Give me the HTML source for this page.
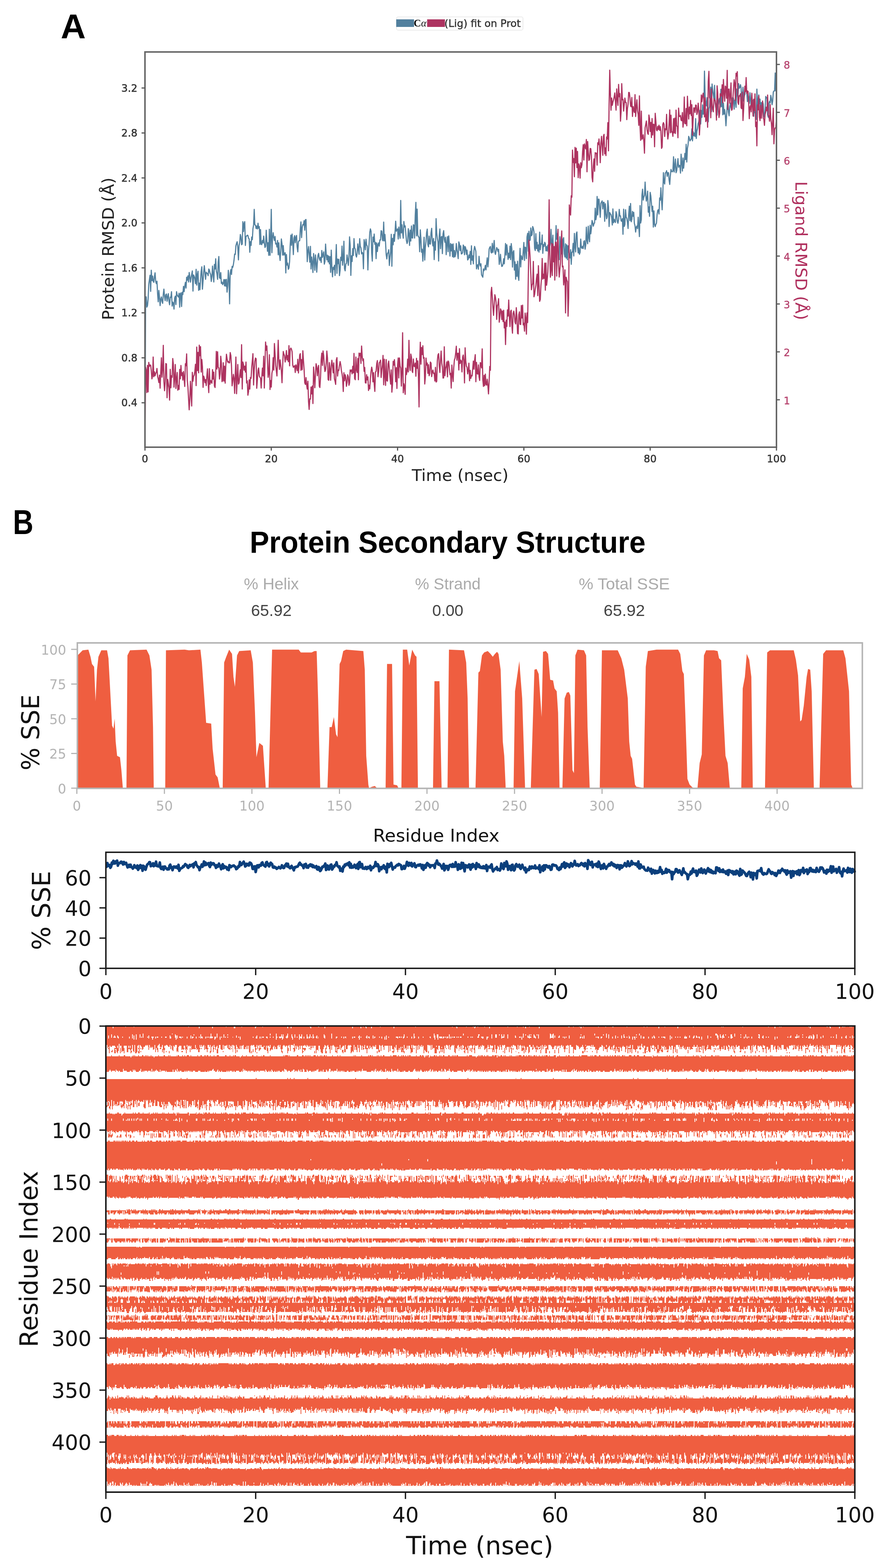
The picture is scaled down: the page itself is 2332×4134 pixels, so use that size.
<!DOCTYPE html><html><head><meta charset="utf-8"><style>html,body{margin:0;padding:0;background:#fff;}svg{display:block;}</style></head><body>
<svg width="2332" height="4134" viewBox="0 0 2332 4134">
<rect width="2332" height="4134" fill="#fff"/>
<text x="160" y="101" font-family="'Liberation Sans', Arial, sans-serif" font-weight="bold" font-size="91" fill="#000" textLength="66" lengthAdjust="spacingAndGlyphs">A</text>
<rect x="1045" y="44.5" width="333" height="35" rx="4" fill="#fff" stroke="#e4e4e4" stroke-width="1.5"/>
<rect x="1044" y="51" width="47" height="20" fill="#52809e"/>
<text x="1090" y="70" font-family="'Liberation Serif', serif" font-size="27" font-weight="bold" fill="#111">C<tspan font-style="italic" font-weight="normal">α</tspan></text>
<rect x="1125.5" y="51" width="47" height="20" fill="#ad3360"/>
<text x="1171" y="70.5" font-family="'DejaVu Sans', 'Liberation Sans', sans-serif" font-size="26" fill="#333" stroke="#333" stroke-width="0.6" textLength="201" lengthAdjust="spacingAndGlyphs">(Lig) fit on Prot</text>
<defs><clipPath id="cA"><rect x="382" y="137" width="1664" height="1042"/></clipPath></defs>
<g clip-path="url(#cA)" fill="none" stroke-width="3.0" stroke-linejoin="round">
<polyline stroke="#52809e" points="382.0,1180.5 383.7,782.5 385.3,782.8 387.0,809.7 388.7,805.7 390.3,788.4 392.0,749.6 393.6,738.3 395.3,725.8 397.0,768.2 398.6,712.6 400.3,740.0 402.0,727.8 403.6,741.3 405.3,744.4 407.0,728.5 408.6,719.2 410.3,742.2 412.0,747.8 413.6,741.5 415.3,775.5 416.9,795.7 418.6,765.8 420.3,784.5 421.9,805.8 423.6,788.3 425.3,782.9 426.9,794.8 428.6,799.8 430.3,775.3 431.9,762.3 433.6,781.9 435.2,792.6 436.9,777.3 438.6,775.2 440.2,794.3 441.9,782.0 443.6,774.3 445.2,794.3 446.9,803.4 448.6,783.5 450.2,784.0 451.9,769.1 453.6,807.1 455.2,796.5 456.9,799.5 458.5,814.9 460.2,785.9 461.9,780.9 463.5,803.0 465.2,769.1 466.9,778.3 468.5,780.6 470.2,783.1 471.9,773.1 473.5,809.9 475.2,774.7 476.8,772.1 478.5,808.1 480.2,770.6 481.8,776.6 483.5,755.0 485.2,768.9 486.8,755.1 488.5,744.4 490.2,759.4 491.8,730.9 493.5,738.9 495.2,727.2 496.8,743.5 498.5,718.6 500.1,728.7 501.8,743.9 503.5,732.6 505.1,723.2 506.8,714.2 508.5,767.5 510.1,725.1 511.8,729.0 513.5,735.2 515.1,747.9 516.8,710.0 518.4,751.7 520.1,724.0 521.8,715.1 523.4,765.5 525.1,746.6 526.8,763.8 528.4,737.7 530.1,714.8 531.8,703.4 533.4,762.4 535.1,740.7 536.8,716.7 538.4,700.6 540.1,718.4 541.7,736.4 543.4,717.8 545.1,720.6 546.7,720.9 548.4,726.8 550.1,709.2 551.7,711.8 553.4,720.0 555.1,723.6 556.7,742.0 558.4,729.4 560.0,701.6 561.7,723.8 563.4,743.4 565.0,697.2 566.7,709.2 568.4,682.3 570.0,714.3 571.7,721.5 573.4,736.4 575.0,690.4 576.7,676.2 578.4,732.5 580.0,734.1 581.7,718.7 583.3,747.3 585.0,743.7 586.7,750.5 588.3,747.0 590.0,737.0 591.7,753.9 593.3,737.0 595.0,754.5 596.7,736.4 598.3,770.3 600.0,753.7 601.6,712.7 603.3,735.0 605.0,801.1 606.6,720.5 608.3,710.8 610.0,723.6 611.6,702.4 613.3,704.9 615.0,697.4 616.6,686.3 618.3,669.9 620.0,670.6 621.6,648.1 623.3,641.6 624.9,637.3 626.6,651.4 628.3,685.2 629.9,647.6 631.6,639.7 633.3,618.3 634.9,624.4 636.6,645.3 638.3,643.4 639.9,584.6 641.6,610.3 643.2,589.0 644.9,584.4 646.6,647.2 648.2,623.3 649.9,622.2 651.6,620.1 653.2,620.7 654.9,628.3 656.6,629.7 658.2,665.1 659.9,637.0 661.6,647.1 663.2,625.1 664.9,631.8 666.5,603.3 668.2,592.9 669.9,552.1 671.5,592.6 673.2,593.5 674.9,602.4 676.5,595.7 678.2,603.7 679.9,588.6 681.5,601.9 683.2,597.3 684.8,644.6 686.5,605.2 688.2,643.9 689.8,645.1 691.5,633.9 693.2,640.7 694.8,622.4 696.5,640.8 698.2,652.4 699.8,649.6 701.5,607.0 703.2,635.4 704.8,662.5 706.5,639.7 708.1,673.3 709.8,604.6 711.5,673.1 713.1,630.4 714.8,552.1 716.5,666.2 718.1,628.3 719.8,613.6 721.5,626.4 723.1,633.9 724.8,623.6 726.4,643.3 728.1,641.6 729.8,651.3 731.4,633.9 733.1,671.8 734.8,640.1 736.4,670.9 738.1,686.8 739.8,660.9 741.4,630.1 743.1,643.1 744.8,672.7 746.4,647.6 748.1,672.6 749.7,667.9 751.4,666.3 753.1,719.6 754.7,670.9 756.4,699.0 758.1,693.8 759.7,710.0 761.4,706.9 763.1,689.3 764.7,645.4 766.4,619.9 768.0,647.0 769.7,617.0 771.4,640.1 773.0,671.3 774.7,627.4 776.4,621.3 778.0,640.1 779.7,625.8 781.4,620.7 783.0,651.4 784.7,664.1 786.4,637.0 788.0,634.7 789.7,634.7 791.3,603.6 793.0,585.0 794.7,626.4 796.3,600.3 798.0,592.1 799.7,593.0 801.3,581.7 803.0,606.9 804.7,579.4 806.3,578.7 808.0,631.4 809.6,689.9 811.3,663.3 813.0,650.0 814.6,670.0 816.3,691.3 818.0,649.6 819.6,709.2 821.3,677.7 823.0,692.1 824.6,718.5 826.3,668.5 828.0,684.6 829.6,712.7 831.3,671.9 832.9,689.6 834.6,717.6 836.3,691.7 837.9,673.1 839.6,668.0 841.3,681.0 842.9,686.2 844.6,678.5 846.3,692.1 847.9,660.4 849.6,678.5 851.2,671.9 852.9,664.0 854.6,696.5 856.2,689.4 857.9,643.4 859.6,670.3 861.2,685.0 862.9,672.8 864.6,690.5 866.2,675.0 867.9,695.6 869.6,676.6 871.2,718.1 872.9,659.4 874.5,702.8 876.2,730.0 877.9,704.8 879.5,710.2 881.2,699.5 882.9,726.3 884.5,690.9 886.2,644.8 887.9,720.7 889.5,683.1 891.2,695.1 892.8,683.4 894.5,726.7 896.2,712.8 897.8,678.3 899.5,686.8 901.2,648.8 902.8,699.3 904.5,681.6 906.2,636.0 907.8,708.4 909.5,714.0 911.2,695.8 912.8,694.7 914.5,672.2 916.1,684.0 917.8,699.6 919.5,675.1 921.1,624.5 922.8,647.2 924.5,726.1 926.1,674.6 927.8,689.4 929.5,655.6 931.1,673.4 932.8,629.0 934.4,653.5 936.1,656.4 937.8,673.0 939.4,677.7 941.1,667.4 942.8,643.0 944.4,655.6 946.1,670.4 947.8,629.3 949.4,649.7 951.1,653.7 952.8,669.4 954.4,665.4 956.1,668.3 957.7,708.7 959.4,631.7 961.1,641.2 962.7,658.6 964.4,630.8 966.1,646.0 967.7,648.8 969.4,711.8 971.1,661.3 972.7,640.9 974.4,612.6 976.0,603.5 977.7,609.7 979.4,666.4 981.0,688.5 982.7,624.9 984.4,637.4 986.0,617.1 987.7,644.1 989.4,639.1 991.0,682.0 992.7,640.6 994.4,663.2 996.0,645.1 997.7,640.3 999.3,648.9 1001.0,632.4 1002.7,632.7 1004.3,608.2 1006.0,609.6 1007.7,632.2 1009.3,634.9 1011.0,585.4 1012.7,635.1 1014.3,618.0 1016.0,640.6 1017.6,671.3 1019.3,682.7 1021.0,667.5 1022.6,666.8 1024.3,658.4 1026.0,700.0 1027.6,680.0 1029.3,663.1 1031.0,617.8 1032.6,701.9 1034.3,628.4 1036.0,645.3 1037.6,617.9 1039.3,636.3 1040.9,613.7 1042.6,583.2 1044.3,609.7 1045.9,605.3 1047.6,603.4 1049.3,630.2 1050.9,598.8 1052.6,615.2 1054.3,628.2 1055.9,528.4 1057.6,614.3 1059.2,592.6 1060.9,613.7 1062.6,628.0 1064.2,584.1 1065.9,598.6 1067.6,595.5 1069.2,614.6 1070.9,634.1 1072.6,642.0 1074.2,636.7 1075.9,602.9 1077.6,616.2 1079.2,647.1 1080.9,606.8 1082.5,635.4 1084.2,595.7 1085.9,627.2 1087.5,627.6 1089.2,592.6 1090.9,593.9 1092.5,627.7 1094.2,567.7 1095.9,533.6 1097.5,622.0 1099.2,551.2 1100.8,619.6 1102.5,624.2 1104.2,625.6 1105.8,663.8 1107.5,606.0 1109.2,631.0 1110.8,665.1 1112.5,657.0 1114.2,688.6 1115.8,658.4 1117.5,625.4 1119.2,685.7 1120.8,652.9 1122.5,636.7 1124.1,613.2 1125.8,604.0 1127.5,645.2 1129.1,650.8 1130.8,622.4 1132.5,642.7 1134.1,643.7 1135.8,613.6 1137.5,601.9 1139.1,637.3 1140.8,648.3 1142.4,628.7 1144.1,684.4 1145.8,637.2 1147.4,659.4 1149.1,576.6 1150.8,615.2 1152.4,628.8 1154.1,637.5 1155.8,688.3 1157.4,621.5 1159.1,603.8 1160.8,655.7 1162.4,625.5 1164.1,623.4 1165.7,668.7 1167.4,616.7 1169.1,608.0 1170.7,631.2 1172.4,639.0 1174.1,625.5 1175.7,671.4 1177.4,641.9 1179.1,624.0 1180.7,663.6 1182.4,621.9 1184.0,645.6 1185.7,675.2 1187.4,642.0 1189.0,661.5 1190.7,644.2 1192.4,676.9 1194.0,642.9 1195.7,678.4 1197.4,660.5 1199.0,677.0 1200.7,670.7 1202.4,642.0 1204.0,657.9 1205.7,667.7 1207.3,681.9 1209.0,637.7 1210.7,643.6 1212.3,660.4 1214.0,648.0 1215.7,669.6 1217.3,668.8 1219.0,665.7 1220.7,646.0 1222.3,649.5 1224.0,671.7 1225.6,650.1 1227.3,654.5 1229.0,670.5 1230.6,659.2 1232.3,685.4 1234.0,683.2 1235.6,672.2 1237.3,679.5 1239.0,662.8 1240.6,697.3 1242.3,648.1 1244.0,686.3 1245.6,674.6 1247.3,695.7 1248.9,660.6 1250.6,649.7 1252.3,655.8 1253.9,662.7 1255.6,709.0 1257.3,699.5 1258.9,697.9 1260.6,709.7 1262.3,675.8 1263.9,694.9 1265.6,701.3 1267.2,695.4 1268.9,724.6 1270.6,727.7 1272.2,730.8 1273.9,709.1 1275.6,713.5 1277.2,709.7 1278.9,699.8 1280.6,711.6 1282.2,695.0 1283.9,679.7 1285.6,703.7 1287.2,686.7 1288.9,656.6 1290.5,652.3 1292.2,649.9 1293.9,665.3 1295.5,667.0 1297.2,641.5 1298.9,665.4 1300.5,651.6 1302.2,633.9 1303.9,664.8 1305.5,670.7 1307.2,661.8 1308.8,652.7 1310.5,656.1 1312.2,663.1 1313.8,657.2 1315.5,697.1 1317.2,686.1 1318.8,670.6 1320.5,692.8 1322.2,702.5 1323.8,701.6 1325.5,696.6 1327.2,682.3 1328.8,695.4 1330.5,670.5 1332.1,642.1 1333.8,672.6 1335.5,645.2 1337.1,660.8 1338.8,684.0 1340.5,667.4 1342.1,679.7 1343.8,649.0 1345.5,684.5 1347.1,642.2 1348.8,657.0 1350.4,704.2 1352.1,664.8 1353.8,660.9 1355.4,712.1 1357.1,690.2 1358.8,736.3 1360.4,696.9 1362.1,728.6 1363.8,688.7 1365.4,728.5 1367.1,739.3 1368.8,689.4 1370.4,654.8 1372.1,703.8 1373.7,674.5 1375.4,682.2 1377.1,684.3 1378.7,662.2 1380.4,639.3 1382.1,686.7 1383.7,651.7 1385.4,652.9 1387.1,681.7 1388.7,624.6 1390.4,615.1 1392.0,662.4 1393.7,609.7 1395.4,634.4 1397.0,633.0 1398.7,600.9 1400.4,621.6 1402.0,618.7 1403.7,597.2 1405.4,602.1 1407.0,610.8 1408.7,654.3 1410.4,660.5 1412.0,616.0 1413.7,655.5 1415.3,638.7 1417.0,661.6 1418.7,645.8 1420.3,664.8 1422.0,611.9 1423.7,658.6 1425.3,642.3 1427.0,643.8 1428.7,619.6 1430.3,668.0 1432.0,644.7 1433.6,649.8 1435.3,638.8 1437.0,642.2 1438.6,661.3 1440.3,650.2 1442.0,662.0 1443.6,646.2 1445.3,655.0 1447.0,662.9 1448.6,649.2 1450.3,640.4 1452.0,604.8 1453.6,655.0 1455.3,640.9 1456.9,620.0 1458.6,684.2 1460.3,676.7 1461.9,664.4 1463.6,642.5 1465.3,594.7 1466.9,630.9 1468.6,616.1 1470.3,643.3 1471.9,684.7 1473.6,684.4 1475.2,624.1 1476.9,640.8 1478.6,669.9 1480.2,627.1 1481.9,678.4 1483.6,630.8 1485.2,626.6 1486.9,669.4 1488.6,677.5 1490.2,642.8 1491.9,680.7 1493.6,645.6 1495.2,685.0 1496.9,648.1 1498.5,661.8 1500.2,671.7 1501.9,680.1 1503.5,658.2 1505.2,697.0 1506.9,664.8 1508.5,664.8 1510.2,641.7 1511.9,675.0 1513.5,615.5 1515.2,650.7 1516.8,664.2 1518.5,615.7 1520.2,611.6 1521.8,649.5 1523.5,666.8 1525.2,653.7 1526.8,670.6 1528.5,665.5 1530.2,630.3 1531.8,651.7 1533.5,654.8 1535.2,649.2 1536.8,655.3 1538.5,636.7 1540.1,634.6 1541.8,656.9 1543.5,645.7 1545.1,598.9 1546.8,634.0 1548.5,642.6 1550.1,596.6 1551.8,625.8 1553.5,637.4 1555.1,594.1 1556.8,616.3 1558.4,602.0 1560.1,581.2 1561.8,586.5 1563.4,596.3 1565.1,589.8 1566.8,587.3 1568.4,548.9 1570.1,579.3 1571.8,569.1 1573.4,518.1 1575.1,566.5 1576.8,524.9 1578.4,525.5 1580.1,550.9 1581.7,573.0 1583.4,535.9 1585.1,532.6 1586.7,529.6 1588.4,550.9 1590.1,533.4 1591.7,533.6 1593.4,583.5 1595.1,537.3 1596.7,562.3 1598.4,576.7 1600.0,571.7 1601.7,528.7 1603.4,544.9 1605.0,597.3 1606.7,560.4 1608.4,564.3 1610.0,565.5 1611.7,573.2 1613.4,593.2 1615.0,550.7 1616.7,587.5 1618.4,578.2 1620.0,583.7 1621.7,586.6 1623.3,558.1 1625.0,564.4 1626.7,584.1 1628.3,588.6 1630.0,579.2 1631.7,552.0 1633.3,569.4 1635.0,569.2 1636.7,582.3 1638.3,583.4 1640.0,576.5 1641.6,617.7 1643.3,551.6 1645.0,597.1 1646.6,591.5 1648.3,553.0 1650.0,573.0 1651.6,575.1 1653.3,585.6 1655.0,602.4 1656.6,566.1 1658.3,543.7 1660.0,581.6 1661.6,536.6 1663.3,584.7 1664.9,578.7 1666.6,557.4 1668.3,570.3 1669.9,559.7 1671.6,589.2 1673.3,595.7 1674.9,611.8 1676.6,598.7 1678.3,595.9 1679.9,602.6 1681.6,572.7 1683.2,595.0 1684.9,623.8 1686.6,542.0 1688.2,587.9 1689.9,579.0 1691.6,514.0 1693.2,498.8 1694.9,527.6 1696.6,519.0 1698.2,515.1 1699.9,480.0 1701.6,514.2 1703.2,530.3 1704.9,521.7 1706.5,503.9 1708.2,559.5 1709.9,545.6 1711.5,570.3 1713.2,507.3 1714.9,516.6 1716.5,535.4 1718.2,557.7 1719.9,543.7 1721.5,598.7 1723.2,556.0 1724.8,591.8 1726.5,597.4 1728.2,591.2 1729.8,588.5 1731.5,565.4 1733.2,554.7 1734.8,552.6 1736.5,564.3 1738.2,522.0 1739.8,527.8 1741.5,495.1 1743.2,529.5 1744.8,553.2 1746.5,511.4 1748.1,455.2 1749.8,480.6 1751.5,485.2 1753.1,455.8 1754.8,455.2 1756.5,450.0 1758.1,465.0 1759.8,455.1 1761.5,455.4 1763.1,474.7 1764.8,486.2 1766.4,463.0 1768.1,446.7 1769.8,451.7 1771.4,453.0 1773.1,451.1 1774.8,413.3 1776.4,453.5 1778.1,437.6 1779.8,419.2 1781.4,455.4 1783.1,450.3 1784.8,433.4 1786.4,418.2 1788.1,441.1 1789.7,435.9 1791.4,436.4 1793.1,456.4 1794.7,406.4 1796.4,427.7 1798.1,451.1 1799.7,416.5 1801.4,443.4 1803.1,426.6 1804.7,404.6 1806.4,420.8 1808.0,380.5 1809.7,427.3 1811.4,391.2 1813.0,382.5 1814.7,359.5 1816.4,364.0 1818.0,371.5 1819.7,368.8 1821.4,366.6 1823.0,339.7 1824.7,371.5 1826.4,347.1 1828.0,358.0 1829.7,350.9 1831.3,360.0 1833.0,312.8 1834.7,365.1 1836.3,345.6 1838.0,338.9 1839.7,325.5 1841.3,320.7 1843.0,312.1 1844.7,290.8 1846.3,326.9 1848.0,291.3 1849.6,309.3 1851.3,276.5 1853.0,301.2 1854.6,296.5 1856.3,187.5 1858.0,254.6 1859.6,272.4 1861.3,279.0 1863.0,257.5 1864.6,301.3 1866.3,321.2 1868.0,286.4 1869.6,280.9 1871.3,249.3 1872.9,229.7 1874.6,294.6 1876.3,221.6 1877.9,236.6 1879.6,250.5 1881.3,261.5 1882.9,224.9 1884.6,271.8 1886.3,284.5 1887.9,274.1 1889.6,303.4 1891.2,267.0 1892.9,275.8 1894.6,263.8 1896.2,259.0 1897.9,282.7 1899.6,235.2 1901.2,281.3 1902.9,248.7 1904.6,302.7 1906.2,271.9 1907.9,301.1 1909.6,288.8 1911.2,303.8 1912.9,331.7 1914.5,306.7 1916.2,277.6 1917.9,260.2 1919.5,295.2 1921.2,305.3 1922.9,281.6 1924.5,271.6 1926.2,283.3 1927.9,289.7 1929.5,259.2 1931.2,256.7 1932.8,258.9 1934.5,287.8 1936.2,263.7 1937.8,264.0 1939.5,283.1 1941.2,234.8 1942.8,247.7 1944.5,257.5 1946.2,220.5 1947.8,232.9 1949.5,230.7 1951.2,223.2 1952.8,231.4 1954.5,268.8 1956.1,254.2 1957.8,230.0 1959.5,266.8 1961.1,253.5 1962.8,248.5 1964.5,230.0 1966.1,234.6 1967.8,244.5 1969.5,267.8 1971.1,248.9 1972.8,258.2 1974.4,272.7 1976.1,244.4 1977.8,262.4 1979.4,289.0 1981.1,249.4 1982.8,279.3 1984.4,264.3 1986.1,306.7 1987.8,279.0 1989.4,297.6 1991.1,298.0 1992.8,315.0 1994.4,235.1 1996.1,276.9 1997.7,268.2 1999.4,250.3 2001.1,273.4 2002.7,261.3 2004.4,298.5 2006.1,270.4 2007.7,284.2 2009.4,268.0 2011.1,274.3 2012.7,303.2 2014.4,309.8 2016.0,290.8 2017.7,254.3 2019.4,258.2 2021.0,257.1 2022.7,302.6 2024.4,309.1 2026.0,273.9 2027.7,267.3 2029.4,271.5 2031.0,251.5 2032.7,259.5 2034.4,276.1 2036.0,266.4 2037.7,242.5 2039.3,240.0 2041.0,239.7 2042.7,192.5 2044.3,239.9 2046.0,231.7"/>
<polyline stroke="#ad3360" points="382.0,1180.3 383.7,968.0 385.3,974.8 387.0,1035.0 388.7,963.2 390.3,1033.2 392.0,955.4 393.6,966.0 395.3,962.0 397.0,963.2 398.6,977.5 400.3,999.0 402.0,991.5 403.6,941.2 405.3,993.3 407.0,980.2 408.6,990.6 410.3,984.5 412.0,981.5 413.6,971.6 415.3,992.3 416.9,999.0 418.6,1008.4 420.3,988.9 421.9,1023.5 423.6,981.6 425.3,943.2 426.9,994.5 428.6,973.8 430.3,910.4 431.9,1005.4 433.6,1030.2 435.2,1008.4 436.9,958.6 438.6,959.5 440.2,1048.7 441.9,1000.4 443.6,1011.7 445.2,1022.9 446.9,1055.0 448.6,973.7 450.2,1022.4 451.9,990.5 453.6,994.8 455.2,945.2 456.9,961.1 458.5,1020.8 460.2,995.8 461.9,961.1 463.5,1024.2 465.2,999.3 466.9,981.9 468.5,1028.8 470.2,1016.3 471.9,1026.8 473.5,973.9 475.2,998.6 476.8,963.4 478.5,990.2 480.2,982.5 481.8,1002.2 483.5,979.5 485.2,999.3 486.8,1019.0 488.5,959.0 490.2,964.3 491.8,933.0 493.5,1002.3 495.2,1020.6 496.8,1050.1 498.5,1080.4 500.1,1053.8 501.8,1005.3 503.5,1037.4 505.1,1070.4 506.8,981.8 508.5,1005.0 510.1,991.9 511.8,989.0 513.5,978.4 515.1,960.4 516.8,1016.8 518.4,915.1 520.1,977.2 521.8,929.1 523.4,983.0 525.1,910.1 526.8,937.8 528.4,913.9 530.1,981.0 531.8,947.7 533.4,966.3 535.1,1021.3 536.8,991.7 538.4,997.2 540.1,1009.0 541.7,1000.8 543.4,1016.5 545.1,990.8 546.7,972.6 548.4,1007.8 550.1,1035.2 551.7,972.0 553.4,1013.2 555.1,1003.0 556.7,1007.2 558.4,1010.4 560.0,974.4 561.7,999.4 563.4,980.9 565.0,1017.7 566.7,1021.6 568.4,987.8 570.0,926.6 571.7,972.9 573.4,927.5 575.0,968.4 576.7,970.1 578.4,999.3 580.0,985.9 581.7,939.2 583.3,956.8 585.0,1006.3 586.7,1003.5 588.3,956.2 590.0,1005.0 591.7,965.2 593.3,1010.3 595.0,964.4 596.7,934.1 598.3,945.4 600.0,954.7 601.6,952.7 603.3,956.7 605.0,956.6 606.6,929.5 608.3,937.3 610.0,965.2 611.6,1017.2 613.3,1004.0 615.0,987.1 616.6,997.3 618.3,1037.3 620.0,985.8 621.6,941.2 623.3,1038.1 624.9,1003.6 626.6,961.1 628.3,1012.8 629.9,1009.4 631.6,990.2 633.3,974.7 634.9,995.5 636.6,908.8 638.3,1025.7 639.9,954.5 641.6,960.9 643.2,976.1 644.9,965.5 646.6,980.9 648.2,954.6 649.9,1009.8 651.6,1004.3 653.2,1041.9 654.9,1032.3 656.6,1001.6 658.2,1025.8 659.9,995.2 661.6,997.5 663.2,968.9 664.9,951.2 666.5,932.4 668.2,1015.1 669.9,975.7 671.5,953.3 673.2,943.9 674.9,946.0 676.5,1023.7 678.2,1001.6 679.9,976.4 681.5,970.1 683.2,991.1 684.8,994.6 686.5,997.0 688.2,1023.2 689.8,994.9 691.5,970.5 693.2,990.9 694.8,939.2 696.5,1023.1 698.2,959.8 699.8,901.7 701.5,923.4 703.2,911.9 704.8,952.4 706.5,994.8 708.1,983.9 709.8,935.2 711.5,1027.0 713.1,1003.3 714.8,1020.5 716.5,984.2 718.1,975.3 719.8,943.1 721.5,975.8 723.1,905.7 724.8,933.0 726.4,962.9 728.1,977.5 729.8,991.3 731.4,947.8 733.1,897.1 734.8,952.3 736.4,974.1 738.1,948.7 739.8,963.2 741.4,977.7 743.1,1009.1 744.8,964.9 746.4,926.8 748.1,933.8 749.7,937.9 751.4,954.4 753.1,942.8 754.7,924.2 756.4,949.1 758.1,937.6 759.7,953.6 761.4,911.3 763.1,964.6 764.7,921.5 766.4,917.7 768.0,920.5 769.7,927.4 771.4,962.5 773.0,968.4 774.7,965.7 776.4,964.2 778.0,982.1 779.7,962.1 781.4,966.7 783.0,977.2 784.7,947.2 786.4,983.5 788.0,963.4 789.7,935.8 791.3,932.4 793.0,976.5 794.7,948.0 796.3,974.6 798.0,924.7 799.7,951.7 801.3,974.2 803.0,1009.0 804.7,1013.5 806.3,995.5 808.0,1015.2 809.6,1025.7 811.3,1004.9 813.0,1059.1 814.6,1079.5 816.3,1051.6 818.0,1052.3 819.6,1020.5 821.3,1038.4 823.0,1017.8 824.6,1063.9 826.3,967.8 828.0,992.8 829.6,1022.3 831.3,986.8 832.9,958.9 834.6,966.9 836.3,990.7 837.9,971.1 839.6,963.4 841.3,1018.1 842.9,1021.7 844.6,995.2 846.3,948.5 847.9,930.9 849.6,963.5 851.2,925.3 852.9,937.2 854.6,963.7 856.2,979.5 857.9,975.5 859.6,956.7 861.2,925.6 862.9,943.4 864.6,1000.7 866.2,1002.6 867.9,955.9 869.6,973.5 871.2,1002.6 872.9,964.8 874.5,949.8 876.2,964.7 877.9,982.9 879.5,956.7 881.2,998.6 882.9,1005.0 884.5,1013.4 886.2,948.8 887.9,942.9 889.5,991.5 891.2,975.5 892.8,976.6 894.5,962.7 896.2,953.3 897.8,961.5 899.5,976.5 901.2,985.1 902.8,997.5 904.5,1032.2 906.2,982.7 907.8,1003.9 909.5,988.0 911.2,994.5 912.8,1018.6 914.5,1008.4 916.1,988.1 917.8,993.3 919.5,1015.8 921.1,1009.7 922.8,975.3 924.5,979.4 926.1,975.4 927.8,985.7 929.5,965.8 931.1,982.9 932.8,931.8 934.4,998.0 936.1,1001.1 937.8,941.3 939.4,974.1 941.1,982.0 942.8,945.0 944.4,1001.2 946.1,930.9 947.8,937.6 949.4,931.4 951.1,958.3 952.8,912.2 954.4,939.5 956.1,951.2 957.7,946.3 959.4,979.1 961.1,968.8 962.7,1009.2 964.4,1009.9 966.1,987.8 967.7,1001.5 969.4,993.6 971.1,1029.6 972.7,1015.6 974.4,1025.2 976.0,997.4 977.7,979.4 979.4,967.9 981.0,976.4 982.7,1006.8 984.4,982.6 986.0,1011.7 987.7,1031.9 989.4,980.6 991.0,979.2 992.7,958.5 994.4,950.6 996.0,993.2 997.7,980.6 999.3,956.5 1001.0,954.6 1002.7,949.5 1004.3,995.3 1006.0,976.7 1007.7,961.9 1009.3,937.1 1011.0,1014.6 1012.7,946.9 1014.3,990.9 1016.0,1016.2 1017.6,948.0 1019.3,1003.3 1021.0,1004.8 1022.6,959.6 1024.3,951.9 1026.0,974.9 1027.6,993.9 1029.3,1012.7 1031.0,975.1 1032.6,1034.0 1034.3,1013.1 1036.0,952.7 1037.6,962.8 1039.3,948.2 1040.9,968.2 1042.6,1006.5 1044.3,969.2 1045.9,1024.3 1047.6,963.0 1049.3,943.8 1050.9,996.4 1052.6,943.7 1054.3,965.1 1055.9,970.5 1057.6,1018.0 1059.2,981.4 1060.9,877.2 1062.6,1035.4 1064.2,1011.7 1065.9,1019.3 1067.6,1039.7 1069.2,970.5 1070.9,987.7 1072.6,978.5 1074.2,947.1 1075.9,980.6 1077.6,897.2 1079.2,962.3 1080.9,976.7 1082.5,933.5 1084.2,941.8 1085.9,978.0 1087.5,982.2 1089.2,946.6 1090.9,965.3 1092.5,966.5 1094.2,957.3 1095.9,992.0 1097.5,944.8 1099.2,971.1 1100.8,951.5 1102.5,988.4 1104.2,1072.9 1105.8,955.9 1107.5,902.3 1109.2,960.2 1110.8,916.2 1112.5,934.8 1114.2,911.5 1115.8,944.8 1117.5,942.6 1119.2,1012.4 1120.8,995.1 1122.5,944.0 1124.1,962.6 1125.8,957.2 1127.5,984.5 1129.1,961.6 1130.8,990.7 1132.5,984.8 1134.1,954.6 1135.8,957.4 1137.5,992.9 1139.1,980.5 1140.8,975.7 1142.4,984.7 1144.1,983.9 1145.8,1004.4 1147.4,968.5 1149.1,1007.3 1150.8,1005.2 1152.4,950.8 1154.1,935.6 1155.8,932.3 1157.4,964.5 1159.1,982.0 1160.8,947.9 1162.4,925.5 1164.1,957.4 1165.7,968.0 1167.4,996.8 1169.1,996.3 1170.7,914.3 1172.4,990.7 1174.1,972.4 1175.7,965.0 1177.4,954.1 1179.1,993.6 1180.7,951.7 1182.4,954.3 1184.0,969.0 1185.7,988.1 1187.4,984.3 1189.0,1023.2 1190.7,962.6 1192.4,989.0 1194.0,1005.9 1195.7,968.6 1197.4,948.8 1199.0,944.7 1200.7,931.3 1202.4,912.7 1204.0,949.8 1205.7,931.6 1207.3,931.3 1209.0,975.5 1210.7,919.3 1212.3,958.5 1214.0,949.5 1215.7,952.0 1217.3,980.6 1219.0,941.5 1220.7,936.0 1222.3,952.1 1224.0,1009.6 1225.6,917.1 1227.3,952.2 1229.0,965.7 1230.6,968.1 1232.3,985.8 1234.0,975.1 1235.6,957.6 1237.3,1004.0 1239.0,976.3 1240.6,997.7 1242.3,989.9 1244.0,991.1 1245.6,972.2 1247.3,952.0 1248.9,973.5 1250.6,949.7 1252.3,935.1 1253.9,1006.4 1255.6,955.5 1257.3,985.0 1258.9,986.3 1260.6,962.1 1262.3,993.3 1263.9,1003.1 1265.6,956.0 1267.2,958.0 1268.9,969.9 1270.6,919.7 1272.2,1001.1 1273.9,1018.8 1275.6,989.5 1277.2,1017.0 1278.9,986.3 1280.6,1013.3 1282.2,1015.4 1283.9,999.8 1285.6,1017.0 1287.2,1038.6 1288.9,1004.8 1290.5,966.2 1292.2,976.3 1293.9,771.6 1295.5,757.5 1297.2,782.5 1298.9,810.4 1300.5,831.4 1302.2,803.5 1303.9,777.0 1305.5,783.6 1307.2,797.3 1308.8,842.1 1310.5,806.1 1312.2,801.7 1313.8,787.5 1315.5,849.4 1317.2,834.2 1318.8,814.2 1320.5,818.1 1322.2,842.4 1323.8,820.1 1325.5,847.9 1327.2,817.9 1328.8,864.6 1330.5,849.0 1332.1,908.4 1333.8,844.1 1335.5,860.6 1337.1,817.0 1338.8,833.3 1340.5,791.1 1342.1,835.7 1343.8,861.1 1345.5,820.8 1347.1,817.8 1348.8,858.9 1350.4,878.4 1352.1,826.4 1353.8,820.3 1355.4,830.5 1357.1,849.5 1358.8,854.0 1360.4,811.2 1362.1,834.0 1363.8,878.9 1365.4,880.3 1367.1,829.6 1368.8,822.1 1370.4,854.9 1372.1,855.7 1373.7,805.6 1375.4,838.5 1377.1,804.6 1378.7,856.4 1380.4,852.2 1382.1,873.2 1383.7,825.4 1385.4,838.2 1387.1,881.1 1388.7,825.0 1390.4,850.4 1392.0,737.9 1393.7,632.9 1395.4,655.2 1397.0,681.3 1398.7,722.1 1400.4,763.9 1402.0,751.9 1403.7,747.5 1405.4,689.3 1407.0,782.5 1408.7,776.0 1410.4,762.1 1412.0,752.8 1413.7,733.2 1415.3,722.7 1417.0,779.5 1418.7,700.6 1420.3,748.2 1422.0,794.5 1423.7,789.3 1425.3,753.6 1427.0,733.2 1428.7,681.5 1430.3,735.9 1432.0,723.0 1433.6,734.1 1435.3,693.8 1437.0,765.3 1438.6,693.5 1440.3,752.1 1442.0,736.1 1443.6,716.4 1445.3,666.2 1447.0,526.8 1448.6,671.2 1450.3,730.9 1452.0,713.5 1453.6,641.5 1455.3,726.5 1456.9,643.5 1458.6,690.3 1460.3,650.0 1461.9,738.5 1463.6,638.7 1465.3,638.8 1466.9,727.9 1468.6,644.7 1470.3,604.5 1471.9,698.6 1473.6,730.5 1475.2,710.2 1476.9,692.5 1478.6,639.1 1480.2,608.8 1481.9,703.8 1483.6,701.6 1485.2,751.3 1486.9,735.8 1488.6,711.6 1490.2,825.1 1491.9,730.9 1493.6,738.7 1495.2,742.6 1496.9,833.6 1498.5,785.0 1500.2,540.2 1501.9,555.7 1503.5,567.0 1505.2,516.3 1506.9,520.0 1508.5,395.8 1510.2,428.2 1511.9,417.9 1513.5,466.0 1515.2,388.5 1516.8,429.4 1518.5,390.7 1520.2,441.9 1521.8,399.3 1523.5,468.4 1525.2,432.1 1526.8,437.7 1528.5,469.7 1530.2,429.1 1531.8,442.3 1533.5,433.8 1535.2,399.2 1536.8,381.6 1538.5,421.9 1540.1,379.6 1541.8,386.5 1543.5,392.5 1545.1,367.7 1546.8,452.9 1548.5,373.2 1550.1,400.1 1551.8,423.1 1553.5,420.1 1555.1,391.6 1556.8,391.9 1558.4,411.0 1560.1,468.1 1561.8,479.4 1563.4,437.6 1565.1,418.9 1566.8,451.7 1568.4,402.4 1570.1,404.6 1571.8,403.7 1573.4,435.4 1575.1,376.6 1576.8,381.3 1578.4,366.3 1580.1,388.5 1581.7,428.9 1583.4,377.4 1585.1,359.4 1586.7,384.2 1588.4,409.5 1590.1,359.0 1591.7,354.2 1593.4,405.6 1595.1,389.8 1596.7,410.2 1598.4,361.2 1600.0,366.4 1601.7,323.2 1603.4,397.7 1605.0,274.8 1606.7,185.1 1608.4,246.1 1610.0,290.7 1611.7,258.4 1613.4,277.7 1615.0,269.2 1616.7,263.1 1618.4,255.4 1620.0,245.0 1621.7,267.6 1623.3,290.4 1625.0,234.4 1626.7,259.4 1628.3,277.9 1630.0,222.5 1631.7,255.1 1633.3,246.6 1635.0,319.5 1636.7,293.1 1638.3,220.6 1640.0,263.3 1641.6,261.8 1643.3,292.9 1645.0,274.3 1646.6,258.4 1648.3,270.1 1650.0,270.3 1651.6,315.5 1653.3,286.5 1655.0,274.5 1656.6,243.8 1658.3,243.9 1660.0,258.7 1661.6,279.6 1663.3,281.5 1664.9,257.1 1666.6,307.1 1668.3,280.9 1669.9,290.5 1671.6,296.5 1673.3,249.6 1674.9,307.2 1676.6,282.7 1678.3,263.1 1679.9,292.0 1681.6,301.7 1683.2,330.4 1684.9,252.7 1686.6,335.6 1688.2,370.1 1689.9,292.9 1691.6,367.1 1693.2,363.9 1694.9,355.3 1696.6,373.2 1698.2,404.0 1699.9,336.8 1701.6,327.8 1703.2,319.1 1704.9,340.9 1706.5,351.1 1708.2,354.3 1709.9,303.3 1711.5,312.3 1713.2,346.6 1714.9,322.7 1716.5,362.8 1718.2,312.6 1719.9,355.9 1721.5,327.6 1723.2,328.2 1724.8,386.9 1726.5,298.8 1728.2,318.8 1729.8,342.5 1731.5,344.9 1733.2,333.2 1734.8,341.5 1736.5,330.1 1738.2,343.7 1739.8,333.8 1741.5,345.4 1743.2,391.2 1744.8,387.7 1746.5,328.2 1748.1,323.3 1749.8,327.8 1751.5,359.8 1753.1,339.5 1754.8,342.1 1756.5,301.6 1758.1,347.1 1759.8,366.5 1761.5,353.8 1763.1,324.7 1764.8,289.8 1766.4,350.2 1768.1,303.8 1769.8,348.5 1771.4,347.6 1773.1,359.5 1774.8,312.8 1776.4,350.7 1778.1,311.5 1779.8,352.0 1781.4,290.2 1783.1,332.1 1784.8,333.0 1786.4,363.2 1788.1,285.1 1789.7,306.8 1791.4,307.2 1793.1,304.3 1794.7,316.9 1796.4,318.3 1798.1,296.8 1799.7,335.2 1801.4,321.6 1803.1,255.8 1804.7,325.3 1806.4,326.6 1808.0,286.1 1809.7,331.7 1811.4,253.8 1813.0,285.9 1814.7,314.0 1816.4,282.3 1818.0,300.1 1819.7,264.7 1821.4,304.4 1823.0,275.9 1824.7,356.4 1826.4,314.6 1828.0,284.6 1829.7,284.7 1831.3,296.6 1833.0,277.0 1834.7,277.7 1836.3,301.9 1838.0,295.0 1839.7,271.9 1841.3,287.6 1843.0,356.0 1844.7,324.6 1846.3,292.4 1848.0,250.5 1849.6,268.2 1851.3,253.0 1853.0,245.7 1854.6,262.4 1856.3,308.3 1858.0,257.4 1859.6,320.7 1861.3,316.4 1863.0,287.7 1864.6,335.6 1866.3,214.3 1868.0,188.1 1869.6,257.6 1871.3,261.1 1872.9,310.4 1874.6,234.6 1876.3,272.1 1877.9,288.4 1879.6,294.8 1881.3,260.1 1882.9,265.3 1884.6,265.0 1886.3,281.7 1887.9,316.8 1889.6,226.2 1891.2,245.9 1892.9,287.7 1894.6,309.9 1896.2,298.7 1897.9,246.9 1899.6,249.8 1901.2,253.4 1902.9,223.4 1904.6,271.3 1906.2,209.4 1907.9,243.1 1909.6,267.0 1911.2,227.0 1912.9,230.3 1914.5,259.1 1916.2,185.6 1917.9,288.4 1919.5,235.3 1921.2,234.9 1922.9,272.4 1924.5,253.5 1926.2,218.6 1927.9,290.7 1929.5,288.0 1931.2,262.7 1932.8,233.3 1934.5,210.2 1936.2,220.7 1937.8,265.2 1939.5,193.3 1941.2,200.5 1942.8,189.0 1944.5,269.7 1946.2,275.4 1947.8,252.2 1949.5,253.1 1951.2,247.0 1952.8,284.3 1954.5,286.5 1956.1,243.0 1957.8,317.8 1959.5,288.0 1961.1,250.0 1962.8,227.2 1964.5,241.5 1966.1,204.5 1967.8,246.8 1969.5,239.7 1971.1,241.2 1972.8,269.5 1974.4,313.0 1976.1,282.5 1977.8,278.3 1979.4,294.9 1981.1,245.8 1982.8,279.0 1984.4,306.1 1986.1,261.6 1987.8,291.7 1989.4,247.4 1991.1,334.0 1992.8,321.9 1994.4,384.6 1996.1,276.8 1997.7,289.7 1999.4,252.8 2001.1,309.0 2002.7,318.0 2004.4,277.6 2006.1,311.7 2007.7,290.6 2009.4,266.3 2011.1,311.8 2012.7,313.8 2014.4,330.5 2016.0,301.8 2017.7,295.4 2019.4,282.4 2021.0,292.0 2022.7,250.5 2024.4,304.4 2026.0,305.4 2027.7,319.5 2029.4,275.4 2031.0,313.5 2032.7,325.6 2034.4,355.1 2036.0,317.7 2037.7,285.2 2039.3,379.2 2041.0,341.8 2042.7,337.1 2044.3,336.2 2046.0,312.5"/>
</g>
<rect x="382" y="137" width="1664" height="1042" fill="none" stroke="#666" stroke-width="4"/>
<line x1="373" y1="1061.9" x2="382" y2="1061.9" stroke="#555" stroke-width="3"/>
<text x="362" y="1071.4" text-anchor="end" font-family="'DejaVu Sans', 'Liberation Sans', sans-serif" font-size="26.5" fill="#333" stroke="#333" stroke-width="0.7">0.4</text>
<line x1="373" y1="943.4" x2="382" y2="943.4" stroke="#555" stroke-width="3"/>
<text x="362" y="952.9" text-anchor="end" font-family="'DejaVu Sans', 'Liberation Sans', sans-serif" font-size="26.5" fill="#333" stroke="#333" stroke-width="0.7">0.8</text>
<line x1="373" y1="824.8" x2="382" y2="824.8" stroke="#555" stroke-width="3"/>
<text x="362" y="834.3" text-anchor="end" font-family="'DejaVu Sans', 'Liberation Sans', sans-serif" font-size="26.5" fill="#333" stroke="#333" stroke-width="0.7">1.2</text>
<line x1="373" y1="706.2" x2="382" y2="706.2" stroke="#555" stroke-width="3"/>
<text x="362" y="715.7" text-anchor="end" font-family="'DejaVu Sans', 'Liberation Sans', sans-serif" font-size="26.5" fill="#333" stroke="#333" stroke-width="0.7">1.6</text>
<line x1="373" y1="587.7" x2="382" y2="587.7" stroke="#555" stroke-width="3"/>
<text x="362" y="597.2" text-anchor="end" font-family="'DejaVu Sans', 'Liberation Sans', sans-serif" font-size="26.5" fill="#333" stroke="#333" stroke-width="0.7">2.0</text>
<line x1="373" y1="469.1" x2="382" y2="469.1" stroke="#555" stroke-width="3"/>
<text x="362" y="478.6" text-anchor="end" font-family="'DejaVu Sans', 'Liberation Sans', sans-serif" font-size="26.5" fill="#333" stroke="#333" stroke-width="0.7">2.4</text>
<line x1="373" y1="350.6" x2="382" y2="350.6" stroke="#555" stroke-width="3"/>
<text x="362" y="360.1" text-anchor="end" font-family="'DejaVu Sans', 'Liberation Sans', sans-serif" font-size="26.5" fill="#333" stroke="#333" stroke-width="0.7">2.8</text>
<line x1="373" y1="232.0" x2="382" y2="232.0" stroke="#555" stroke-width="3"/>
<text x="362" y="241.5" text-anchor="end" font-family="'DejaVu Sans', 'Liberation Sans', sans-serif" font-size="26.5" fill="#333" stroke="#333" stroke-width="0.7">3.2</text>
<line x1="2046" y1="1054.0" x2="2055" y2="1054.0" stroke="#555" stroke-width="3"/>
<text x="2065" y="1065.5" font-family="'DejaVu Sans', 'Liberation Sans', sans-serif" font-size="26.5" fill="#b6436e" stroke="#b6436e" stroke-width="0.5">1</text>
<line x1="2046" y1="927.7" x2="2055" y2="927.7" stroke="#555" stroke-width="3"/>
<text x="2065" y="939.2" font-family="'DejaVu Sans', 'Liberation Sans', sans-serif" font-size="26.5" fill="#b6436e" stroke="#b6436e" stroke-width="0.5">2</text>
<line x1="2046" y1="801.4" x2="2055" y2="801.4" stroke="#555" stroke-width="3"/>
<text x="2065" y="812.9" font-family="'DejaVu Sans', 'Liberation Sans', sans-serif" font-size="26.5" fill="#b6436e" stroke="#b6436e" stroke-width="0.5">3</text>
<line x1="2046" y1="675.1" x2="2055" y2="675.1" stroke="#555" stroke-width="3"/>
<text x="2065" y="686.6" font-family="'DejaVu Sans', 'Liberation Sans', sans-serif" font-size="26.5" fill="#b6436e" stroke="#b6436e" stroke-width="0.5">4</text>
<line x1="2046" y1="548.8" x2="2055" y2="548.8" stroke="#555" stroke-width="3"/>
<text x="2065" y="560.3" font-family="'DejaVu Sans', 'Liberation Sans', sans-serif" font-size="26.5" fill="#b6436e" stroke="#b6436e" stroke-width="0.5">5</text>
<line x1="2046" y1="422.5" x2="2055" y2="422.5" stroke="#555" stroke-width="3"/>
<text x="2065" y="434.0" font-family="'DejaVu Sans', 'Liberation Sans', sans-serif" font-size="26.5" fill="#b6436e" stroke="#b6436e" stroke-width="0.5">6</text>
<line x1="2046" y1="296.2" x2="2055" y2="296.2" stroke="#555" stroke-width="3"/>
<text x="2065" y="307.7" font-family="'DejaVu Sans', 'Liberation Sans', sans-serif" font-size="26.5" fill="#b6436e" stroke="#b6436e" stroke-width="0.5">7</text>
<line x1="2046" y1="169.9" x2="2055" y2="169.9" stroke="#555" stroke-width="3"/>
<text x="2065" y="181.4" font-family="'DejaVu Sans', 'Liberation Sans', sans-serif" font-size="26.5" fill="#b6436e" stroke="#b6436e" stroke-width="0.5">8</text>
<line x1="382.0" y1="1179" x2="382.0" y2="1188" stroke="#555" stroke-width="3"/>
<text x="382.0" y="1219" text-anchor="middle" font-family="'DejaVu Sans', 'Liberation Sans', sans-serif" font-size="26.5" fill="#333" stroke="#333" stroke-width="0.7">0</text>
<line x1="714.8" y1="1179" x2="714.8" y2="1188" stroke="#555" stroke-width="3"/>
<text x="714.8" y="1219" text-anchor="middle" font-family="'DejaVu Sans', 'Liberation Sans', sans-serif" font-size="26.5" fill="#333" stroke="#333" stroke-width="0.7">20</text>
<line x1="1047.6" y1="1179" x2="1047.6" y2="1188" stroke="#555" stroke-width="3"/>
<text x="1047.6" y="1219" text-anchor="middle" font-family="'DejaVu Sans', 'Liberation Sans', sans-serif" font-size="26.5" fill="#333" stroke="#333" stroke-width="0.7">40</text>
<line x1="1380.4" y1="1179" x2="1380.4" y2="1188" stroke="#555" stroke-width="3"/>
<text x="1380.4" y="1219" text-anchor="middle" font-family="'DejaVu Sans', 'Liberation Sans', sans-serif" font-size="26.5" fill="#333" stroke="#333" stroke-width="0.7">60</text>
<line x1="1713.2" y1="1179" x2="1713.2" y2="1188" stroke="#555" stroke-width="3"/>
<text x="1713.2" y="1219" text-anchor="middle" font-family="'DejaVu Sans', 'Liberation Sans', sans-serif" font-size="26.5" fill="#333" stroke="#333" stroke-width="0.7">80</text>
<line x1="2046.0" y1="1179" x2="2046.0" y2="1188" stroke="#555" stroke-width="3"/>
<text x="2046.0" y="1219" text-anchor="middle" font-family="'DejaVu Sans', 'Liberation Sans', sans-serif" font-size="26.5" fill="#333" stroke="#333" stroke-width="0.7">100</text>
<text transform="translate(300,844) rotate(-90)" font-family="'DejaVu Sans', 'Liberation Sans', sans-serif" font-size="43" fill="#222" textLength="376" lengthAdjust="spacingAndGlyphs">Protein RMSD (Å)</text>
<text transform="translate(2096,478) rotate(90)" font-family="'DejaVu Sans', 'Liberation Sans', sans-serif" font-size="43" fill="#b0305e" textLength="366" lengthAdjust="spacingAndGlyphs">Ligand RMSD (Å)</text>
<text x="1085" y="1268" font-family="'DejaVu Sans', 'Liberation Sans', sans-serif" font-size="43.5" fill="#222" textLength="255" lengthAdjust="spacingAndGlyphs">Time (nsec)</text>
<text x="34" y="1407.5" font-family="'Liberation Sans', Arial, sans-serif" font-weight="bold" font-size="91" fill="#000" textLength="54" lengthAdjust="spacingAndGlyphs">B</text>
<text x="658" y="1457" font-family="'Liberation Sans', Arial, sans-serif" font-weight="bold" font-size="80" fill="#000" textLength="1043" lengthAdjust="spacingAndGlyphs">Protein Secondary Structure</text>
<text x="642.5" y="1554" font-family="'Liberation Sans', Arial, sans-serif" font-size="42" fill="#ababab" textLength="145" lengthAdjust="spacingAndGlyphs">% Helix</text>
<text x="661.5" y="1624" font-family="'Liberation Sans', Arial, sans-serif" font-size="43" fill="#444" textLength="107" lengthAdjust="spacingAndGlyphs">65.92</text>
<text x="1093.5" y="1554" font-family="'Liberation Sans', Arial, sans-serif" font-size="42" fill="#ababab" textLength="173" lengthAdjust="spacingAndGlyphs">% Strand</text>
<text x="1139.0" y="1624" font-family="'Liberation Sans', Arial, sans-serif" font-size="43" fill="#444" textLength="82" lengthAdjust="spacingAndGlyphs">0.00</text>
<text x="1525.0" y="1554" font-family="'Liberation Sans', Arial, sans-serif" font-size="42" fill="#ababab" textLength="240" lengthAdjust="spacingAndGlyphs">% Total SSE</text>
<text x="1590.5" y="1624" font-family="'Liberation Sans', Arial, sans-serif" font-size="43" fill="#444" textLength="109" lengthAdjust="spacingAndGlyphs">65.92</text>
<polygon fill="#ef5e40" points="204.5,2078.0 204.5,1727.9 217.7,1714.6 232.9,1712.7 238.5,1731.6 242.3,1750.6 248.0,1758.1 251.8,1849.0 255.6,1765.7 259.4,1731.6 266.9,1714.6 282.1,1714.6 285.8,1735.4 291.5,1841.4 295.3,1913.3 299.1,1920.9 302.1,1894.4 304.8,1955.0 308.6,1992.8 316.1,1996.6 319.9,2030.7 323.7,2078.0 333.2,2078.0 335.8,1727.9 342.6,1714.6 386.2,1712.7 393.7,1727.9 399.4,1765.7 403.2,1917.1 405.1,2078.0 435.4,2078.0 437.3,1714.6 486.5,1712.7 497.8,1714.6 528.1,1712.7 531.9,1746.8 543.2,1905.8 556.5,1907.7 560.3,1973.9 567.9,2042.0 573.5,2049.6 579.2,2078.0 586.8,2078.0 590.6,1746.8 596.2,1731.6 603.8,1712.7 611.4,1724.1 615.2,1784.6 619.0,1811.1 624.6,1727.9 630.3,1716.5 660.6,1714.6 666.3,1746.8 671.9,1879.3 675.7,1996.6 683.3,1958.8 692.8,1966.3 700.3,2078.0 707.6,2078.0 717.0,1712.7 787.1,1712.7 792.7,1720.3 821.1,1720.3 828.7,1716.5 834.4,1716.5 838.2,1841.4 843.8,2078.0 862.8,2078.0 868.4,1917.1 874.1,1917.1 879.8,1890.6 885.5,1936.0 889.3,1943.6 894.9,1750.6 898.7,1743.0 904.4,1716.5 912.0,1712.7 957.4,1716.5 961.2,1765.7 965.0,1992.8 970.6,2068.5 972.5,2078.0 980.1,2074.2 987.7,2072.3 993.4,2078.0 1016.1,2078.0 1019.9,1750.6 1033.1,1750.6 1036.9,2068.5 1046.4,2070.4 1050.1,2078.0 1057.7,2078.0 1061.5,1712.7 1072.9,1712.7 1078.5,1754.4 1086.1,1712.7 1093.7,1727.9 1097.5,1731.6 1101.2,2078.0 1141.0,2078.0 1144.8,1796.0 1158.0,1796.0 1163.7,2078.0 1179.2,2078.0 1183.0,1712.7 1222.7,1714.6 1228.4,1746.8 1232.2,1841.4 1236.0,2078.0 1253.0,2078.0 1260.6,1773.3 1264.4,1769.5 1270.0,1727.9 1275.7,1720.3 1285.2,1716.5 1292.7,1724.1 1298.4,1731.6 1304.1,1724.1 1309.8,1718.4 1313.6,1724.1 1319.2,1765.7 1324.9,1955.0 1328.7,1992.8 1332.5,2078.0 1353.3,2078.0 1357.1,1822.5 1368.4,1743.0 1376.0,1841.4 1383.6,2078.0 1398.7,2078.0 1408.2,1765.7 1413.9,1763.8 1419.5,1777.1 1427.1,1890.6 1430.9,1718.4 1438.5,1716.5 1444.2,1724.1 1449.8,1792.2 1457.4,1794.1 1461.2,1814.9 1466.9,1822.5 1470.6,1879.3 1474.4,2078.0 1482.0,2078.0 1487.7,1841.4 1493.4,1826.3 1499.0,1824.4 1502.8,1833.8 1508.5,2030.7 1512.3,2038.2 1516.1,1727.9 1521.8,1712.7 1538.8,1714.6 1544.5,1727.9 1548.2,1917.1 1553.9,2078.0 1580.4,2078.0 1586.1,1714.6 1627.7,1714.6 1637.2,1735.4 1644.8,1765.7 1654.2,1841.4 1658.0,1955.0 1661.8,1992.8 1665.6,2000.4 1673.2,2068.5 1676.9,2074.2 1688.3,2076.1 1694.0,2078.0 1695.9,2078.0 1701.6,1758.1 1707.2,1716.5 1729.9,1712.7 1730.0,1712.7 1786.8,1712.7 1792.5,1724.1 1798.1,1769.5 1801.9,1777.1 1805.7,1879.3 1811.4,2053.4 1817.1,2068.5 1824.6,2076.1 1828.4,2078.0 1837.9,2078.0 1843.6,2011.8 1849.2,1989.0 1854.9,1727.9 1860.6,1714.6 1881.4,1714.6 1890.9,1716.5 1894.7,1735.4 1900.3,1741.1 1906.0,1879.3 1911.7,1992.8 1917.4,2011.8 1923.1,2078.0 1953.3,2078.0 1957.1,1814.9 1962.8,1784.6 1967.7,1724.1 1974.2,1739.2 1979.8,1784.6 1983.6,2078.0 2015.8,2078.0 2021.5,1720.3 2029.0,1714.6 2091.5,1714.6 2097.2,1739.2 2102.9,1780.8 2108.5,1902.0 2112.3,1898.2 2118.0,1860.3 2125.6,1784.6 2129.3,1763.8 2135.0,1765.7 2138.8,1822.5 2144.5,2078.0 2159.6,2078.0 2169.1,1724.1 2176.7,1714.6 2222.1,1714.6 2227.8,1735.4 2237.2,1822.5 2242.9,2068.5 2246.7,2078.0"/>
<rect x="203.8" y="1695" width="2068.5" height="383.5" fill="none" stroke="#b4b4b4" stroke-width="4"/>
<line x1="187.5" y1="2078.0" x2="202.5" y2="2078.0" stroke="#b4b4b4" stroke-width="3"/>
<text x="174.5" y="2091.5" text-anchor="end" font-family="'DejaVu Sans', 'Liberation Sans', sans-serif" font-size="35" fill="#b4b4b4">0</text>
<line x1="187.5" y1="1986.5" x2="202.5" y2="1986.5" stroke="#b4b4b4" stroke-width="3"/>
<text x="174.5" y="2000.0" text-anchor="end" font-family="'DejaVu Sans', 'Liberation Sans', sans-serif" font-size="35" fill="#b4b4b4">25</text>
<line x1="187.5" y1="1895.0" x2="202.5" y2="1895.0" stroke="#b4b4b4" stroke-width="3"/>
<text x="174.5" y="1908.5" text-anchor="end" font-family="'DejaVu Sans', 'Liberation Sans', sans-serif" font-size="35" fill="#b4b4b4">50</text>
<line x1="187.5" y1="1803.5" x2="202.5" y2="1803.5" stroke="#b4b4b4" stroke-width="3"/>
<text x="174.5" y="1817.0" text-anchor="end" font-family="'DejaVu Sans', 'Liberation Sans', sans-serif" font-size="35" fill="#b4b4b4">75</text>
<line x1="187.5" y1="1712.0" x2="202.5" y2="1712.0" stroke="#b4b4b4" stroke-width="3"/>
<text x="174.5" y="1725.5" text-anchor="end" font-family="'DejaVu Sans', 'Liberation Sans', sans-serif" font-size="35" fill="#b4b4b4">100</text>
<line x1="202.5" y1="2078" x2="202.5" y2="2093" stroke="#b4b4b4" stroke-width="3"/>
<text x="202.5" y="2136.5" text-anchor="middle" font-family="'DejaVu Sans', 'Liberation Sans', sans-serif" font-size="35" fill="#b4b4b4">0</text>
<line x1="433.2" y1="2078" x2="433.2" y2="2093" stroke="#b4b4b4" stroke-width="3"/>
<text x="433.2" y="2136.5" text-anchor="middle" font-family="'DejaVu Sans', 'Liberation Sans', sans-serif" font-size="35" fill="#b4b4b4">50</text>
<line x1="663.8" y1="2078" x2="663.8" y2="2093" stroke="#b4b4b4" stroke-width="3"/>
<text x="663.8" y="2136.5" text-anchor="middle" font-family="'DejaVu Sans', 'Liberation Sans', sans-serif" font-size="35" fill="#b4b4b4">100</text>
<line x1="894.5" y1="2078" x2="894.5" y2="2093" stroke="#b4b4b4" stroke-width="3"/>
<text x="894.5" y="2136.5" text-anchor="middle" font-family="'DejaVu Sans', 'Liberation Sans', sans-serif" font-size="35" fill="#b4b4b4">150</text>
<line x1="1125.1" y1="2078" x2="1125.1" y2="2093" stroke="#b4b4b4" stroke-width="3"/>
<text x="1125.1" y="2136.5" text-anchor="middle" font-family="'DejaVu Sans', 'Liberation Sans', sans-serif" font-size="35" fill="#b4b4b4">200</text>
<line x1="1355.8" y1="2078" x2="1355.8" y2="2093" stroke="#b4b4b4" stroke-width="3"/>
<text x="1355.8" y="2136.5" text-anchor="middle" font-family="'DejaVu Sans', 'Liberation Sans', sans-serif" font-size="35" fill="#b4b4b4">250</text>
<line x1="1586.4" y1="2078" x2="1586.4" y2="2093" stroke="#b4b4b4" stroke-width="3"/>
<text x="1586.4" y="2136.5" text-anchor="middle" font-family="'DejaVu Sans', 'Liberation Sans', sans-serif" font-size="35" fill="#b4b4b4">300</text>
<line x1="1817.1" y1="2078" x2="1817.1" y2="2093" stroke="#b4b4b4" stroke-width="3"/>
<text x="1817.1" y="2136.5" text-anchor="middle" font-family="'DejaVu Sans', 'Liberation Sans', sans-serif" font-size="35" fill="#b4b4b4">350</text>
<line x1="2047.7" y1="2078" x2="2047.7" y2="2093" stroke="#b4b4b4" stroke-width="3"/>
<text x="2047.7" y="2136.5" text-anchor="middle" font-family="'DejaVu Sans', 'Liberation Sans', sans-serif" font-size="35" fill="#b4b4b4">400</text>
<text transform="translate(103,2031) rotate(-90)" font-family="'DejaVu Sans', 'Liberation Sans', sans-serif" font-size="64" fill="#111" textLength="200" lengthAdjust="spacingAndGlyphs">% SSE</text>
<text x="983" y="2218.5" font-family="'DejaVu Sans', 'Liberation Sans', sans-serif" font-size="46" fill="#111" textLength="333" lengthAdjust="spacingAndGlyphs">Residue Index</text>
<polyline fill="none" stroke="#0b3f7c" stroke-width="7" stroke-linejoin="round" points="279.0,2283.9 281.0,2285.1 282.9,2275.5 284.9,2283.1 286.9,2281.3 288.9,2280.3 290.8,2287.9 292.8,2284.8 294.8,2274.4 296.8,2277.7 298.7,2269.5 300.7,2276.1 302.7,2276.6 304.7,2271.2 306.6,2274.9 308.6,2269.0 310.6,2282.3 312.5,2276.1 314.5,2275.2 316.5,2275.4 318.5,2272.1 320.4,2272.1 322.4,2276.3 324.4,2279.2 326.4,2272.7 328.3,2278.0 330.3,2275.3 332.3,2274.9 334.3,2281.3 336.2,2287.0 338.2,2284.6 340.2,2280.2 342.2,2285.5 344.1,2279.9 346.1,2286.1 348.1,2286.6 350.0,2290.1 352.0,2287.2 354.0,2281.0 356.0,2286.8 357.9,2286.4 359.9,2288.5 361.9,2281.9 363.9,2293.2 365.8,2289.9 367.8,2283.2 369.8,2281.0 371.8,2288.4 373.7,2282.6 375.7,2295.6 377.7,2282.6 379.6,2284.4 381.6,2291.0 383.6,2292.9 385.6,2285.8 387.5,2280.4 389.5,2277.8 391.5,2277.1 393.5,2273.0 395.4,2273.3 397.4,2283.7 399.4,2280.3 401.4,2282.1 403.3,2276.0 405.3,2283.6 407.3,2277.2 409.3,2281.7 411.2,2271.8 413.2,2283.1 415.2,2283.3 417.1,2284.3 419.1,2283.7 421.1,2274.0 423.1,2288.3 425.0,2290.9 427.0,2288.7 429.0,2285.1 431.0,2292.9 432.9,2284.7 434.9,2284.8 436.9,2289.1 438.9,2289.7 440.8,2292.2 442.8,2289.8 444.8,2292.0 446.7,2282.2 448.7,2279.8 450.7,2287.9 452.7,2286.0 454.6,2294.1 456.6,2287.8 458.6,2284.4 460.6,2285.7 462.5,2287.3 464.5,2284.5 466.5,2287.9 468.5,2289.7 470.4,2280.1 472.4,2295.8 474.4,2292.0 476.4,2289.6 478.3,2288.7 480.3,2287.8 482.3,2284.0 484.2,2285.1 486.2,2281.4 488.2,2278.1 490.2,2280.9 492.1,2280.8 494.1,2286.3 496.1,2288.0 498.1,2285.1 500.0,2280.4 502.0,2283.5 504.0,2280.4 506.0,2280.4 507.9,2278.8 509.9,2286.6 511.9,2276.4 513.8,2278.4 515.8,2272.9 517.8,2280.8 519.8,2283.3 521.7,2286.5 523.7,2285.8 525.7,2294.1 527.7,2287.0 529.6,2285.0 531.6,2279.0 533.6,2285.2 535.6,2280.3 537.5,2271.3 539.5,2281.1 541.5,2274.1 543.4,2280.1 545.4,2278.4 547.4,2276.6 549.4,2275.7 551.3,2282.9 553.3,2285.9 555.3,2274.3 557.3,2279.9 559.2,2276.7 561.2,2275.9 563.2,2276.6 565.2,2281.3 567.1,2281.1 569.1,2288.1 571.1,2281.2 573.1,2285.3 575.0,2284.5 577.0,2276.8 579.0,2282.5 580.9,2285.4 582.9,2291.6 584.9,2282.1 586.9,2278.6 588.8,2289.3 590.8,2283.4 592.8,2287.3 594.8,2285.2 596.7,2286.1 598.7,2292.2 600.7,2288.1 602.7,2294.0 604.6,2281.0 606.6,2282.4 608.6,2286.1 610.5,2283.8 612.5,2283.5 614.5,2282.1 616.5,2282.0 618.4,2284.6 620.4,2285.2 622.4,2291.4 624.4,2290.2 626.3,2288.1 628.3,2283.4 630.3,2284.6 632.3,2272.7 634.2,2280.8 636.2,2280.6 638.2,2276.8 640.2,2274.5 642.1,2271.7 644.1,2276.6 646.1,2284.4 648.0,2282.9 650.0,2277.4 652.0,2280.8 654.0,2278.1 655.9,2281.8 657.9,2274.2 659.9,2274.9 661.9,2276.6 663.8,2281.7 665.8,2290.7 667.8,2290.9 669.8,2284.6 671.7,2284.0 673.7,2299.0 675.7,2289.6 677.6,2281.7 679.6,2281.5 681.6,2286.8 683.6,2280.5 685.5,2282.2 687.5,2282.3 689.5,2275.2 691.5,2273.8 693.4,2280.1 695.4,2281.4 697.4,2283.2 699.4,2284.7 701.3,2273.8 703.3,2272.7 705.3,2281.0 707.2,2277.3 709.2,2284.2 711.2,2280.1 713.2,2274.5 715.1,2276.5 717.1,2278.3 719.1,2286.7 721.1,2287.5 723.0,2284.9 725.0,2287.6 727.0,2287.0 729.0,2290.6 730.9,2289.3 732.9,2288.0 734.9,2285.7 736.9,2287.2 738.8,2289.4 740.8,2287.5 742.8,2281.4 744.7,2285.7 746.7,2288.5 748.7,2288.1 750.7,2281.8 752.6,2280.1 754.6,2276.9 756.6,2284.1 758.6,2277.3 760.5,2286.1 762.5,2286.7 764.5,2289.0 766.5,2284.8 768.4,2283.0 770.4,2288.1 772.4,2290.3 774.3,2294.6 776.3,2286.2 778.3,2287.2 780.3,2285.0 782.2,2285.2 784.2,2284.6 786.2,2281.3 788.2,2276.8 790.1,2274.6 792.1,2279.6 794.1,2279.0 796.1,2282.3 798.0,2282.6 800.0,2288.7 802.0,2279.2 804.0,2281.1 805.9,2277.7 807.9,2287.0 809.9,2283.4 811.8,2287.5 813.8,2281.7 815.8,2282.8 817.8,2279.0 819.7,2282.9 821.7,2280.0 823.7,2285.9 825.7,2281.8 827.6,2286.3 829.6,2287.1 831.6,2284.7 833.6,2283.5 835.5,2291.7 837.5,2292.7 839.5,2285.8 841.4,2287.5 843.4,2296.4 845.4,2294.8 847.4,2290.4 849.3,2285.4 851.3,2286.0 853.3,2282.6 855.3,2282.1 857.2,2276.8 859.2,2293.6 861.2,2287.1 863.2,2281.9 865.1,2291.9 867.1,2292.3 869.1,2284.7 871.0,2280.4 873.0,2279.3 875.0,2292.5 877.0,2289.6 878.9,2284.0 880.9,2284.9 882.9,2280.2 884.9,2280.4 886.8,2273.4 888.8,2282.8 890.8,2283.8 892.8,2286.7 894.7,2284.4 896.7,2295.8 898.7,2289.9 900.7,2295.1 902.6,2297.5 904.6,2284.8 906.6,2285.9 908.5,2279.5 910.5,2281.9 912.5,2277.8 914.5,2278.6 916.4,2276.3 918.4,2281.4 920.4,2273.5 922.4,2287.1 924.3,2277.5 926.3,2287.6 928.3,2283.7 930.3,2287.1 932.2,2285.3 934.2,2279.9 936.2,2284.9 938.1,2288.6 940.1,2281.9 942.1,2278.4 944.1,2290.7 946.0,2274.1 948.0,2273.0 950.0,2286.2 952.0,2280.4 953.9,2278.2 955.9,2289.6 957.9,2288.8 959.9,2290.4 961.8,2287.8 963.8,2285.9 965.8,2291.1 967.8,2290.2 969.7,2285.7 971.7,2286.8 973.7,2289.3 975.6,2282.5 977.6,2294.3 979.6,2286.6 981.6,2288.4 983.5,2287.8 985.5,2283.7 987.5,2283.9 989.5,2272.8 991.4,2281.2 993.4,2283.2 995.4,2278.4 997.4,2282.5 999.3,2296.9 1001.3,2289.0 1003.3,2286.5 1005.2,2291.7 1007.2,2285.7 1009.2,2286.8 1011.2,2281.3 1013.1,2289.5 1015.1,2291.0 1017.1,2285.3 1019.1,2300.0 1021.0,2277.4 1023.0,2284.4 1025.0,2286.1 1027.0,2278.4 1028.9,2282.5 1030.9,2274.9 1032.9,2283.9 1034.9,2292.5 1036.8,2286.9 1038.8,2286.7 1040.8,2287.4 1042.7,2283.4 1044.7,2282.2 1046.7,2280.1 1048.7,2281.6 1050.6,2277.9 1052.6,2278.7 1054.6,2280.5 1056.6,2281.2 1058.5,2291.4 1060.5,2291.1 1062.5,2288.0 1064.5,2282.9 1066.4,2290.4 1068.4,2285.0 1070.4,2281.2 1072.3,2272.4 1074.3,2279.4 1076.3,2282.5 1078.3,2275.0 1080.2,2279.2 1082.2,2281.6 1084.2,2275.2 1086.2,2284.3 1088.1,2279.2 1090.1,2279.8 1092.1,2276.2 1094.1,2285.7 1096.0,2286.3 1098.0,2282.1 1100.0,2281.5 1101.9,2280.1 1103.9,2282.3 1105.9,2279.2 1107.9,2279.0 1109.8,2282.4 1111.8,2289.5 1113.8,2280.5 1115.8,2293.1 1117.7,2286.9 1119.7,2281.4 1121.7,2287.6 1123.7,2278.5 1125.6,2275.5 1127.6,2277.1 1129.6,2282.4 1131.6,2279.9 1133.5,2286.5 1135.5,2282.0 1137.5,2281.2 1139.4,2282.1 1141.4,2280.9 1143.4,2281.5 1145.4,2288.4 1147.3,2276.7 1149.3,2276.6 1151.3,2268.7 1153.3,2275.5 1155.2,2279.6 1157.2,2277.1 1159.2,2279.1 1161.2,2282.5 1163.1,2284.5 1165.1,2290.0 1167.1,2283.6 1169.0,2277.8 1171.0,2294.5 1173.0,2290.8 1175.0,2283.0 1176.9,2285.2 1178.9,2283.5 1180.9,2293.1 1182.9,2286.7 1184.8,2281.1 1186.8,2280.1 1188.8,2280.7 1190.8,2285.3 1192.7,2278.0 1194.7,2285.3 1196.7,2283.8 1198.7,2284.8 1200.6,2273.2 1202.6,2282.6 1204.6,2281.7 1206.5,2293.1 1208.5,2278.7 1210.5,2281.4 1212.5,2290.5 1214.4,2289.8 1216.4,2274.8 1218.4,2287.3 1220.4,2275.5 1222.3,2287.0 1224.3,2297.0 1226.3,2280.9 1228.3,2283.5 1230.2,2282.2 1232.2,2286.9 1234.2,2284.8 1236.1,2279.0 1238.1,2287.1 1240.1,2292.7 1242.1,2280.0 1244.0,2287.2 1246.0,2278.0 1248.0,2284.8 1250.0,2283.1 1251.9,2281.3 1253.9,2290.8 1255.9,2275.5 1257.9,2285.2 1259.8,2284.9 1261.8,2279.0 1263.8,2286.8 1265.8,2284.6 1267.7,2288.1 1269.7,2286.5 1271.7,2288.5 1273.6,2283.8 1275.6,2289.0 1277.6,2284.9 1279.6,2289.6 1281.5,2280.7 1283.5,2296.2 1285.5,2285.6 1287.5,2285.0 1289.4,2285.4 1291.4,2287.5 1293.4,2282.0 1295.4,2279.0 1297.3,2291.6 1299.3,2297.5 1301.3,2293.5 1303.2,2292.3 1305.2,2289.7 1307.2,2290.3 1309.2,2286.0 1311.1,2293.6 1313.1,2292.0 1315.1,2291.3 1317.1,2295.2 1319.0,2291.5 1321.0,2276.6 1323.0,2286.1 1325.0,2287.6 1326.9,2291.1 1328.9,2275.3 1330.9,2281.5 1332.8,2283.9 1334.8,2271.1 1336.8,2277.2 1338.8,2293.1 1340.7,2288.3 1342.7,2283.5 1344.7,2285.1 1346.7,2294.3 1348.6,2280.8 1350.6,2279.9 1352.6,2292.8 1354.6,2295.0 1356.5,2292.1 1358.5,2281.4 1360.5,2278.3 1362.5,2281.6 1364.4,2285.0 1366.4,2282.7 1368.4,2279.8 1370.3,2288.1 1372.3,2290.8 1374.3,2284.5 1376.3,2280.0 1378.2,2286.7 1380.2,2288.5 1382.2,2293.8 1384.2,2287.5 1386.1,2300.0 1388.1,2292.5 1390.1,2294.5 1392.1,2291.4 1394.0,2293.6 1396.0,2284.6 1398.0,2287.5 1399.9,2289.5 1401.9,2284.4 1403.9,2286.8 1405.9,2288.7 1407.8,2288.6 1409.8,2281.9 1411.8,2289.8 1413.8,2287.1 1415.7,2288.5 1417.7,2287.3 1419.7,2291.1 1421.7,2281.3 1423.6,2299.6 1425.6,2288.5 1427.6,2290.6 1429.6,2284.4 1431.5,2295.7 1433.5,2281.5 1435.5,2292.1 1437.4,2281.5 1439.4,2281.4 1441.4,2283.2 1443.4,2286.6 1445.3,2287.2 1447.3,2283.3 1449.3,2287.6 1451.3,2293.2 1453.2,2292.5 1455.2,2280.1 1457.2,2279.4 1459.2,2280.3 1461.1,2282.3 1463.1,2281.3 1465.1,2281.9 1467.0,2284.5 1469.0,2290.7 1471.0,2291.4 1473.0,2293.6 1474.9,2287.2 1476.9,2291.4 1478.9,2286.2 1480.9,2278.2 1482.8,2284.7 1484.8,2277.5 1486.8,2273.7 1488.8,2288.1 1490.7,2285.5 1492.7,2276.6 1494.7,2282.8 1496.6,2278.6 1498.6,2279.6 1500.6,2286.5 1502.6,2280.6 1504.5,2275.7 1506.5,2277.7 1508.5,2284.1 1510.5,2278.9 1512.4,2279.6 1514.4,2269.7 1516.4,2278.4 1518.4,2281.8 1520.3,2279.6 1522.3,2278.5 1524.3,2283.2 1526.3,2281.2 1528.2,2281.3 1530.2,2277.3 1532.2,2275.4 1534.1,2278.0 1536.1,2281.2 1538.1,2277.5 1540.1,2284.0 1542.0,2275.6 1544.0,2279.1 1546.0,2279.2 1548.0,2290.6 1549.9,2267.9 1551.9,2272.0 1553.9,2273.6 1555.9,2280.3 1557.8,2279.3 1559.8,2272.1 1561.8,2286.8 1563.7,2279.6 1565.7,2279.1 1567.7,2280.0 1569.7,2278.2 1571.6,2284.0 1573.6,2276.6 1575.6,2285.8 1577.6,2271.6 1579.5,2276.6 1581.5,2284.5 1583.5,2290.8 1585.5,2281.9 1587.4,2281.4 1589.4,2289.5 1591.4,2277.7 1593.4,2283.9 1595.3,2286.8 1597.3,2290.5 1599.3,2284.4 1601.2,2284.6 1603.2,2280.4 1605.2,2278.0 1607.2,2281.9 1609.1,2279.0 1611.1,2273.8 1613.1,2277.2 1615.1,2281.4 1617.0,2278.0 1619.0,2284.1 1621.0,2280.4 1623.0,2282.7 1624.9,2288.3 1626.9,2280.7 1628.9,2283.6 1630.8,2281.4 1632.8,2291.8 1634.8,2281.4 1636.8,2281.4 1638.7,2287.7 1640.7,2285.1 1642.7,2282.5 1644.7,2280.9 1646.6,2275.6 1648.6,2282.1 1650.6,2284.2 1652.6,2280.4 1654.5,2271.0 1656.5,2281.3 1658.5,2283.4 1660.5,2281.9 1662.4,2275.8 1664.4,2270.3 1666.4,2278.8 1668.3,2275.4 1670.3,2276.5 1672.3,2277.0 1674.3,2279.9 1676.2,2276.8 1678.2,2278.8 1680.2,2284.6 1682.2,2271.3 1684.1,2289.2 1686.1,2289.5 1688.1,2279.3 1690.1,2283.9 1692.0,2287.0 1694.0,2286.1 1696.0,2285.1 1697.9,2291.2 1699.9,2293.0 1701.9,2295.1 1703.9,2294.8 1705.8,2295.5 1707.8,2287.6 1709.8,2292.4 1711.8,2291.9 1713.7,2297.5 1715.7,2290.7 1717.7,2303.3 1719.7,2294.6 1721.6,2293.8 1723.6,2300.0 1725.6,2302.5 1727.5,2295.7 1729.5,2301.2 1731.5,2301.4 1733.5,2296.3 1735.4,2300.4 1737.4,2295.6 1739.4,2286.2 1741.4,2298.5 1743.3,2293.5 1745.3,2303.6 1747.3,2299.2 1749.3,2301.4 1751.2,2301.3 1753.2,2297.2 1755.2,2290.7 1757.2,2300.7 1759.1,2293.4 1761.1,2296.8 1763.1,2294.1 1765.0,2299.1 1767.0,2300.3 1769.0,2298.6 1771.0,2317.9 1772.9,2299.2 1774.9,2304.5 1776.9,2300.0 1778.9,2299.3 1780.8,2291.5 1782.8,2291.4 1784.8,2296.3 1786.8,2300.5 1788.7,2295.4 1790.7,2294.6 1792.7,2299.5 1794.6,2302.4 1796.6,2306.5 1798.6,2298.2 1800.6,2289.5 1802.5,2300.3 1804.5,2299.4 1806.5,2302.0 1808.5,2303.9 1810.4,2304.4 1812.4,2318.0 1814.4,2309.3 1816.4,2305.7 1818.3,2306.0 1820.3,2297.8 1822.3,2302.9 1824.3,2295.2 1826.2,2290.1 1828.2,2298.8 1830.2,2297.7 1832.1,2299.7 1834.1,2295.4 1836.1,2308.9 1838.1,2305.4 1840.0,2299.2 1842.0,2292.9 1844.0,2293.6 1846.0,2300.1 1847.9,2289.7 1849.9,2297.5 1851.9,2301.7 1853.9,2296.6 1855.8,2292.6 1857.8,2297.8 1859.8,2303.0 1861.7,2297.1 1863.7,2293.2 1865.7,2288.9 1867.7,2297.8 1869.6,2292.2 1871.6,2299.3 1873.6,2294.0 1875.6,2300.9 1877.5,2297.3 1879.5,2302.2 1881.5,2299.3 1883.5,2301.3 1885.4,2302.2 1887.4,2287.0 1889.4,2287.2 1891.3,2291.2 1893.3,2296.3 1895.3,2289.4 1897.3,2298.9 1899.2,2297.0 1901.2,2294.6 1903.2,2298.9 1905.2,2292.7 1907.1,2299.4 1909.1,2298.9 1911.1,2297.5 1913.1,2303.6 1915.0,2303.6 1917.0,2295.3 1919.0,2306.8 1921.0,2294.0 1922.9,2298.7 1924.9,2295.9 1926.9,2299.4 1928.8,2301.4 1930.8,2296.9 1932.8,2305.2 1934.8,2304.7 1936.7,2298.0 1938.7,2305.0 1940.7,2295.5 1942.7,2296.6 1944.6,2301.5 1946.6,2305.0 1948.6,2308.6 1950.6,2290.9 1952.5,2306.3 1954.5,2304.9 1956.5,2295.2 1958.4,2297.2 1960.4,2299.2 1962.4,2301.2 1964.4,2305.3 1966.3,2309.2 1968.3,2309.5 1970.3,2303.5 1972.3,2300.4 1974.2,2298.5 1976.2,2302.8 1978.2,2312.6 1980.2,2300.8 1982.1,2305.6 1984.1,2318.5 1986.1,2301.5 1988.1,2306.6 1990.0,2306.2 1992.0,2302.4 1994.0,2315.9 1995.9,2296.6 1997.9,2295.8 1999.9,2296.0 2001.9,2294.4 2003.8,2296.9 2005.8,2288.8 2007.8,2300.4 2009.8,2304.3 2011.7,2305.7 2013.7,2302.0 2015.7,2303.9 2017.7,2303.2 2019.6,2304.3 2021.6,2302.6 2023.6,2296.4 2025.5,2292.0 2027.5,2295.7 2029.5,2297.5 2031.5,2302.8 2033.4,2303.8 2035.4,2299.5 2037.4,2302.0 2039.4,2302.1 2041.3,2306.9 2043.3,2301.9 2045.3,2309.3 2047.3,2304.8 2049.2,2302.2 2051.2,2295.4 2053.2,2300.5 2055.2,2301.3 2057.1,2294.8 2059.1,2295.6 2061.1,2290.5 2063.0,2293.5 2065.0,2294.8 2067.0,2297.7 2069.0,2294.7 2070.9,2301.7 2072.9,2305.8 2074.9,2294.9 2076.9,2301.7 2078.8,2300.0 2080.8,2298.1 2082.8,2297.1 2084.8,2313.8 2086.7,2307.4 2088.7,2296.7 2090.7,2309.3 2092.6,2297.9 2094.6,2300.3 2096.6,2301.5 2098.6,2297.5 2100.5,2305.1 2102.5,2296.5 2104.5,2294.2 2106.5,2307.0 2108.4,2303.6 2110.4,2294.1 2112.4,2296.4 2114.4,2297.8 2116.3,2288.2 2118.3,2301.7 2120.3,2295.2 2122.2,2294.1 2124.2,2296.9 2126.2,2292.5 2128.2,2304.2 2130.1,2296.1 2132.1,2299.2 2134.1,2289.0 2136.1,2288.6 2138.0,2296.0 2140.0,2297.5 2142.0,2293.3 2144.0,2298.3 2145.9,2298.3 2147.9,2294.7 2149.9,2299.0 2151.9,2288.2 2153.8,2295.3 2155.8,2296.8 2157.8,2298.3 2159.7,2294.8 2161.7,2287.1 2163.7,2290.2 2165.7,2287.2 2167.6,2289.0 2169.6,2293.6 2171.6,2300.1 2173.6,2297.7 2175.5,2296.2 2177.5,2303.2 2179.5,2293.1 2181.5,2298.6 2183.4,2294.0 2185.4,2296.3 2187.4,2291.9 2189.3,2283.7 2191.3,2300.8 2193.3,2294.9 2195.3,2284.6 2197.2,2297.3 2199.2,2293.3 2201.2,2292.5 2203.2,2291.0 2205.1,2300.9 2207.1,2293.4 2209.1,2293.5 2211.1,2286.3 2213.0,2299.3 2215.0,2302.2 2217.0,2298.8 2219.0,2310.3 2220.9,2296.5 2222.9,2290.0 2224.9,2296.6 2226.8,2295.9 2228.8,2296.3 2230.8,2294.1 2232.8,2300.5 2234.7,2288.1 2236.7,2298.1 2238.7,2299.0 2240.7,2290.3 2242.6,2298.5 2244.6,2300.8 2246.6,2291.2 2248.6,2297.5 2250.5,2293.6 2252.5,2300.3"/>
<rect x="279" y="2247" width="1973.5" height="306" fill="none" stroke="#1a1a1a" stroke-width="3.8"/>
<line x1="262" y1="2553.0" x2="279" y2="2553.0" stroke="#1a1a1a" stroke-width="3.5"/>
<text x="241" y="2573.0" text-anchor="end" font-family="'DejaVu Sans', 'Liberation Sans', sans-serif" font-size="55" fill="#111">0</text>
<line x1="262" y1="2473.3" x2="279" y2="2473.3" stroke="#1a1a1a" stroke-width="3.5"/>
<text x="241" y="2493.3" text-anchor="end" font-family="'DejaVu Sans', 'Liberation Sans', sans-serif" font-size="55" fill="#111">20</text>
<line x1="262" y1="2393.6" x2="279" y2="2393.6" stroke="#1a1a1a" stroke-width="3.5"/>
<text x="241" y="2413.6" text-anchor="end" font-family="'DejaVu Sans', 'Liberation Sans', sans-serif" font-size="55" fill="#111">40</text>
<line x1="262" y1="2313.9" x2="279" y2="2313.9" stroke="#1a1a1a" stroke-width="3.5"/>
<text x="241" y="2333.9" text-anchor="end" font-family="'DejaVu Sans', 'Liberation Sans', sans-serif" font-size="55" fill="#111">60</text>
<line x1="279.0" y1="2553" x2="279.0" y2="2571" stroke="#1a1a1a" stroke-width="3.5"/>
<text x="279.0" y="2633" text-anchor="middle" font-family="'DejaVu Sans', 'Liberation Sans', sans-serif" font-size="55" fill="#111">0</text>
<line x1="673.7" y1="2553" x2="673.7" y2="2571" stroke="#1a1a1a" stroke-width="3.5"/>
<text x="673.7" y="2633" text-anchor="middle" font-family="'DejaVu Sans', 'Liberation Sans', sans-serif" font-size="55" fill="#111">20</text>
<line x1="1068.4" y1="2553" x2="1068.4" y2="2571" stroke="#1a1a1a" stroke-width="3.5"/>
<text x="1068.4" y="2633" text-anchor="middle" font-family="'DejaVu Sans', 'Liberation Sans', sans-serif" font-size="55" fill="#111">40</text>
<line x1="1463.1" y1="2553" x2="1463.1" y2="2571" stroke="#1a1a1a" stroke-width="3.5"/>
<text x="1463.1" y="2633" text-anchor="middle" font-family="'DejaVu Sans', 'Liberation Sans', sans-serif" font-size="55" fill="#111">60</text>
<line x1="1857.8" y1="2553" x2="1857.8" y2="2571" stroke="#1a1a1a" stroke-width="3.5"/>
<text x="1857.8" y="2633" text-anchor="middle" font-family="'DejaVu Sans', 'Liberation Sans', sans-serif" font-size="55" fill="#111">80</text>
<line x1="2252.5" y1="2553" x2="2252.5" y2="2571" stroke="#1a1a1a" stroke-width="3.5"/>
<text x="2252.5" y="2633" text-anchor="middle" font-family="'DejaVu Sans', 'Liberation Sans', sans-serif" font-size="55" fill="#111">100</text>
<text transform="translate(132,2505) rotate(-90)" font-family="'DejaVu Sans', 'Liberation Sans', sans-serif" font-size="66" fill="#111" textLength="209" lengthAdjust="spacingAndGlyphs">% SSE</text>
<rect x="279" y="2705" width="1973.5" height="1212.3" fill="#ef5e40"/>
<g transform="translate(279,0) scale(1.97350,1)" stroke="#fff" stroke-width="2.8" fill="none" shape-rendering="crispEdges">
<path d="M0 2706.7h1000" stroke-dasharray="0 9 1 16 1 10 1 72 1 13 1 17 1 17 1 10 2 8 1 17 2 8 1 32 1 4 1 24 2 9 2 7 1 36 1 10 1 2 1 2 2 6 1 11 1 17 1 28 1 48 1 4 2 12 1 8 1 1 2 2 1 8 1 6 1 23 1 12 1 7 1 2 1 4 1 12 1 38 2 5 1 7 1 1 1 2 1 19 1 9 1 8 2 17 1 22 1 3 1 15 1 7 1 16 1 20 1 37 1 1 1 25 1 33 1 8 1 5 1 1 1 36 1 1 1 21 2 2 2 11 1 3 2 1 1 6 1 1 1 4"/>
<path d="M0 2709.4h1000" stroke-dasharray="0 9 1 114 1 17 1 28 2 26 1 42 1 4 1 25 1 18 1 36 1 10 1 6 1 6 1 29 1 83 1 23 1 19 1 47 1 17 1 55 1 103 1 24 1 129 1 46 1 26 1 11 1 20"/>
<path d="M0 2725.9h1000" stroke-dasharray="0 49 1 38 1 51 1 7 1 70 1 7 1 14 1 58 1 109 1 26 1 38 1 79 1 35 1 3 1 54 1 15 1 43 1 101 2 23 1 160"/>
<path d="M0 2728.6h1000" stroke-dasharray="0 7 1 27 1 4 1 4 1 3 1 42 1 24 1 8 1 13 1 7 1 8 1 4 1 56 1 7 1 6 1 1 1 5 1 5 1 3 1 5 1 2 1 6 1 3 1 3 1 14 1 9 1 96 1 12 1 26 1 3 2 14 1 18 1 19 2 16 1 4 2 3 1 2 1 2 1 4 1 20 1 2 1 4 1 1 1 3 1 3 1 1 1 15 2 1 2 36 1 17 1 11 1 3 1 2 1 19 1 16 1 3 1 101 3 3 1 3 1 2 1 6 2 3 1 7 1 6 1 16 2 49 1 7 1 13 1 4 1 25 1 24"/>
<path d="M0 2731.3h1000" stroke-dasharray="0 3 1 3 1 3 1 3 1 19 1 1 1 2 1 4 1 3 1 7 1 27 1 6 2 1 1 17 1 12 1 13 1 7 1 8 1 16 1 26 1 25 1 6 1 1 1 4 2 5 1 3 1 5 1 2 1 6 1 3 1 3 1 4 1 9 2 8 1 36 1 9 1 7 1 17 1 23 1 12 1 26 2 2 2 14 1 38 1 17 1 4 2 6 1 2 1 4 1 9 1 10 1 5 1 1 1 5 2 4 1 15 2 1 2 1 1 5 1 12 1 19 1 29 1 2 1 8 1 7 1 2 1 6 1 15 1 16 1 21 1 19 1 5 1 5 1 2 1 14 1 12 2 2 1 2 2 9 2 3 1 14 1 17 1 4 1 36 1 7 1 2 1 13 1 1 1 2 2 3 1 7 1 17 1 12 1 7 1 3"/>
<path d="M0 2734.1h1000" stroke-dasharray="0 3 1 3 1 2 3 2 2 5 1 8 1 3 1 1 1 2 1 4 1 1 1 1 1 5 1 1 1 3 3 2 1 1 2 4 1 4 2 4 2 5 2 1 1 2 3 1 1 5 1 4 1 1 2 3 1 3 1 1 3 4 1 1 1 1 1 1 4 2 2 1 1 3 1 1 1 2 1 1 1 2 1 6 1 4 1 2 1 1 1 16 1 3 2 3 1 1 1 1 2 3 2 3 1 3 1 3 2 2 6 3 3 5 2 2 1 2 1 2 4 2 1 3 2 1 2 1 1 1 2 2 2 1 1 7 2 8 1 5 2 5 1 2 1 1 2 8 1 1 2 4 2 1 1 6 2 1 2 4 1 1 2 5 1 2 1 3 1 1 1 2 1 9 3 1 2 1 1 2 2 3 1 5 1 2 2 4 1 5 1 8 2 4 2 2 2 1 4 1 2 1 1 1 2 1 1 1 1 1 1 1 2 2 1 1 1 2 2 8 1 3 1 1 1 6 2 3 3 4 3 4 1 4 2 6 4 4 1 9 2 4 2 1 1 1 1 5 5 3 3 3 1 15 5 1 1 4 2 4 1 1 1 1 1 3 1 14 2 1 1 1 1 15 1 1 2 3 2 5 1 2 1 4 1 3 1 2 1 4 1 2 2 2 1 2 2 3 1 1 2 1 1 5 1 2 2 5 1 4 1 1 2 5 1 3 1 1 3 6 1 1 1 4 1 2 1 2 1 5 4 3 1 4 2 2 2 1 2 2 1 7 1 3 1 8 2 2 2 1 3 5 1 2 3 10 1 4 1 1 1 1 1 1 1 3 1 8 2 3 2 3 1 2 1 8 1 2 1 13 1 2 2 5 4 1 1 4 1 4 1 2 2 1 2 1 2 3 1 4 1 2 1 10 1 2 1 3 1 6 1 4 2 4 1 2 1 1 2"/>
<path d="M0 2736.8h1000" stroke-dasharray="0 3 1 12 1 14 1 3 1 1 1 2 1 16 1 4 1 3 1 18 2 6 1 1 1 4 1 7 1 4 1 1 1 4 1 5 1 1 1 4 1 5 1 1 1 3 2 5 1 26 1 20 2 3 1 1 1 7 1 11 1 4 1 2 2 4 1 7 1 8 1 1 2 2 1 3 2 1 1 4 1 4 1 1 1 8 1 8 1 5 1 9 1 2 1 8 1 8 1 9 1 2 1 4 1 1 1 9 1 3 1 1 1 14 1 7 1 10 1 2 1 5 1 15 1 5 1 3 1 2 1 1 1 1 1 4 1 2 1 1 1 41 2 4 2 5 1 12 1 7 1 18 1 9 1 7 1 3 1 15 1 3 1 14 1 5 1 14 1 2 1 1 1 18 1 3 1 9 1 4 1 3 1 7 1 9 2 3 1 2 1 7 1 2 2 5 1 4 1 2 1 13 1 6 1 1 1 16 4 8 1 7 1 2 1 7 1 13 1 5 1 10 2 16 1 3 1 5 1 9 1 4 1 15 1 2 1 24 1 16 2 1 2 1 2 3 1 4 1 20 1 6 1 5 1 7 1 3"/>
<path d="M0 2739.6h1000" stroke-dasharray="0 37 1 2 1 21 1 30 1 51 1 6 1 26 1 47 1 7 1 13 1 8 1 79 1 33 1 1 1 64 1 3 1 64 1 46 1 147 1 2 1 46 1 41 1 21 1 75 1 50 1 55"/>
<path d="M0 2753.3h1000" stroke-dasharray="0 17 1 53 1 179 1 463 1 224 1 59"/>
<path d="M0 2756.0h1000" stroke-dasharray="0 1 1 15 1 17 1 2 1 4 1 1 1 7 1 1 1 2 1 6 1 4 2 3 1 4 2 3 1 6 3 13 1 10 1 5 1 1 1 2 1 5 2 1 1 4 1 6 2 3 1 4 1 2 1 3 1 1 1 3 1 8 1 10 1 1 2 3 1 2 1 1 2 11 1 10 1 1 1 4 1 6 1 2 3 1 1 13 1 2 1 23 1 3 1 6 1 8 1 6 1 4 1 1 1 4 1 4 1 2 1 5 1 14 1 4 1 3 1 17 1 10 1 9 1 1 1 6 1 3 1 7 2 1 1 2 1 18 2 2 1 3 1 1 1 5 1 5 1 10 1 3 1 4 1 5 1 7 1 2 1 5 1 6 1 2 1 1 2 10 2 5 1 2 1 11 2 3 1 11 1 3 1 4 3 14 1 7 1 2 2 7 1 7 1 3 1 7 1 1 1 11 1 5 1 9 1 21 1 2 1 11 1 14 1 6 1 23 3 1 1 19 1 3 1 13 1 9 1 4 1 12 1 9 1 22 1 2 1 9 1 10 3 11 3 10 1 1 1 1 1 4 1 7 1 3 1 3 1 3 1 4 1 6 1 10 8 2 1 1 1 7 1 3 1 2 1 4 1"/>
<path d="M0 2758.8h1000" stroke-dasharray="2 3 1 2 4 3 1 1 1 1 2 3 4 2 1 1 1 2 1 2 1 3 2 1 2 5 4 2 1 6 1 3 3 3 1 2 5 2 1 1 1 2 1 1 3 3 3 3 2 2 1 1 2 1 1 5 1 5 1 1 1 1 2 1 1 3 2 1 1 2 1 1 1 3 1 2 2 3 1 1 4 2 1 1 1 1 1 1 2 2 1 4 1 1 3 4 1 1 1 2 5 3 1 1 2 1 2 3 1 2 1 1 2 1 1 4 1 4 2 1 1 3 3 1 2 1 2 2 5 1 1 1 1 2 1 1 2 1 4 1 2 1 1 1 1 1 1 1 3 4 2 6 2 1 2 3 1 1 3 7 1 3 2 1 1 3 5 3 1 4 1 2 2 1 1 2 1 2 2 2 1 3 1 1 1 1 1 4 2 1 2 2 5 1 1 1 2 5 1 10 1 3 1 1 2 2 1 1 4 1 1 1 1 1 1 1 1 1 1 5 5 1 1 5 1 2 2 6 1 1 3 1 1 2 4 4 2 3 1 1 2 5 1 1 4 1 2 1 4 3 1 1 3 5 1 2 4 2 1 3 1 2 1 2 4 8 1 1 4 3 1 1 3 1 1 1 1 6 2 3 1 4 1 4 1 1 1 1 1 1 1 1 1 2 4 4 2 1 1 1 2 1 2 1 1 3 4 1 2 7 3 5 1 5 5 1 1 1 1 11 2 4 1 3 1 4 2 11 1 4 1 2 1 1 1 2 1 6 1 1 1 1 2 2 2 7 1 1 3 5 1 4 1 2 1 6 1 2 2 4 3 1 1 4 1 14 1 3 1 6 1 1 1 4 1 4 2 1 1 1 2 1 3 6 1 2 1 2 2 2 1 1 1 3 1 2 2 11 3 2 1 1 1 1 2 2 2 1 2 2 3 8 3 2 1 3 1 4 3 7 6 1 1 2 1 1 1 2 1 2 1 1 2 2 1 2 6 2 1 1 1 3 1 2 1 1 1 2 1 2 1 2 8 2 1 1 1 1 1 3 1 1 1 2 2 2 2 3 1"/>
<path d="M0 2761.5h1000" stroke-dasharray="2 1 1 1 8 2 1 1 1 1 2 3 4 2 1 1 1 2 1 2 1 3 2 1 3 2 7 1 1 1 1 1 1 2 1 3 4 1 2 2 8 1 1 2 5 2 4 3 2 3 5 5 1 5 6 1 1 3 4 1 2 1 2 1 2 2 2 3 1 1 4 2 1 1 3 1 2 2 2 3 1 1 3 2 1 1 1 1 1 2 6 1 2 1 2 1 5 3 1 1 4 3 2 1 1 2 4 3 6 1 3 1 5 1 1 1 2 1 1 1 2 1 10 2 1 1 3 4 2 5 3 1 3 2 1 1 4 1 1 1 1 2 1 2 3 1 1 3 4 4 1 1 1 2 1 2 2 1 1 1 2 2 2 2 1 1 1 1 5 4 2 1 3 1 5 1 1 1 2 3 1 1 1 5 1 1 1 2 1 3 1 1 2 2 1 1 4 1 1 1 1 1 5 5 5 1 1 8 2 2 1 3 1 1 3 1 1 1 5 4 2 1 1 1 1 1 2 2 1 2 1 1 4 1 2 1 4 1 1 1 5 4 3 1 4 2 1 3 2 1 2 1 4 2 3 1 1 1 7 2 1 1 3 1 1 1 2 2 2 2 3 1 1 1 1 2 1 1 2 1 1 1 1 1 5 2 5 2 3 1 4 1 4 3 4 1 5 4 4 2 4 3 12 6 5 1 1 5 2 2 1 1 2 2 1 2 1 1 1 2 4 2 1 1 4 2 1 6 3 1 3 1 2 2 2 3 1 1 3 1 1 3 1 4 4 1 1 4 2 1 2 2 1 1 5 1 1 1 2 2 1 2 2 1 1 3 7 1 1 1 2 1 1 1 1 3 2 4 11 3 1 2 1 2 2 2 1 1 2 1 1 1 1 1 5 6 1 2 1 1 3 2 1 1 4 2 6 1 3 2 2 4 3 1 2 3 1 1 1 2 3 4 1 2 6 1 1 2 3 2 1 2 7 1 10 1 2 2 1 1 4 2 1 2 1 2 8 1 6 2 2 1 6 1 3 2 1"/>
<path d="M0 2764.3h1000" stroke-dasharray="3 2 6 6 2 1 1 4 3 7 1 2 1 3 1 2 1 1 1 2 7 1 5 2 1 1 1 2 2 2 2 3 7 1 1 2 4 3 4 4 1 3 3 1 1 6 1 5 1 1 3 1 1 4 3 1 2 2 1 1 2 1 3 3 1 1 5 3 1 1 1 1 2 2 1 1 1 2 1 1 3 2 1 1 1 1 1 2 6 2 1 1 1 3 4 3 1 2 2 4 2 1 1 2 4 3 6 2 2 1 3 3 1 1 2 1 1 1 2 5 4 1 1 1 6 4 2 5 2 2 3 2 1 1 4 1 1 4 1 1 4 1 1 3 4 4 1 1 1 2 2 1 2 1 1 2 1 4 1 1 3 1 5 4 2 1 3 1 5 1 1 1 2 3 3 3 1 1 1 4 1 1 1 1 1 1 2 4 1 1 2 1 1 1 1 1 5 5 5 1 1 1 2 5 2 6 2 1 2 1 1 1 5 2 1 1 2 1 1 1 1 1 1 3 1 3 2 1 1 2 1 2 4 1 1 1 5 2 1 1 2 2 1 1 1 3 1 3 2 1 2 1 3 1 1 1 3 1 1 2 1 1 4 2 1 1 3 4 1 2 2 2 3 2 2 4 1 2 1 1 1 1 3 4 5 2 3 1 2 1 6 3 1 1 2 1 5 4 4 1 5 3 1 1 4 1 5 5 6 1 1 4 3 2 1 1 1 3 1 4 2 1 4 2 1 7 1 6 2 3 4 3 2 3 2 2 1 1 1 3 1 4 1 1 2 1 1 4 2 1 2 2 1 1 5 1 1 1 3 1 1 2 2 1 1 4 4 1 1 1 1 2 1 1 1 1 1 3 1 5 4 1 1 1 2 1 1 3 1 2 1 2 2 2 1 1 2 1 1 1 1 1 5 6 1 2 1 1 3 2 1 1 4 2 6 3 1 2 2 2 1 1 3 1 2 3 1 1 2 1 3 4 2 1 5 2 1 2 3 2 1 2 4 4 7 1 2 1 2 2 1 2 4 1 1 2 1 2 2 1 5 1 6 2 2 1 5 2 2 2 2"/>
<path d="M0 2767.0h1000" stroke-dasharray="4 1 6 1 2 3 2 1 1 4 3 2 2 2 2 2 1 3 2 1 3 1 8 1 5 1 2 1 1 2 5 4 9 2 4 3 4 1 1 1 2 1 1 1 3 1 1 1 6 1 1 2 6 1 3 1 4 1 2 1 2 1 1 2 4 2 9 1 3 1 3 1 17 2 3 1 2 2 3 2 6 2 1 2 2 2 1 1 11 1 7 2 2 1 4 2 4 1 4 1 1 3 6 1 6 4 3 3 3 1 5 1 1 1 4 1 1 1 4 1 4 2 7 4 1 1 1 2 2 1 2 1 1 1 4 1 15 1 2 1 3 1 5 1 1 1 4 1 3 3 1 1 1 4 3 1 5 3 4 1 1 1 7 5 5 1 4 3 1 1 3 1 1 1 1 1 7 1 5 2 4 1 3 1 3 1 1 3 2 1 1 1 2 2 12 1 2 1 7 3 2 1 3 1 2 1 3 1 1 1 3 1 2 1 1 1 5 1 5 4 1 2 2 2 3 1 4 1 1 1 4 1 5 2 1 1 13 1 7 1 5 1 5 1 1 2 11 2 12 1 1 3 6 1 4 1 4 1 1 1 1 1 1 1 1 1 1 2 2 1 4 1 2 1 1 1 1 1 1 1 3 2 5 1 5 3 2 3 5 1 3 4 1 1 1 1 2 1 1 1 1 1 3 1 2 1 2 1 1 1 11 1 5 1 7 1 1 1 1 1 2 1 1 1 2 2 5 1 6 1 2 1 2 1 5 2 3 1 6 1 8 1 3 1 8 2 1 1 5 1 7 1 3 1 2 1 2 1 3 1 3 1 2 1 2 1 6 1 8 1 7 1 3 1 4 1 2 1 7 1 5 1 3 1 6 2 5 1 12 1 2 2 10 1 2"/>
<path d="M0 2769.7h1000" stroke-dasharray="4 1 3 1 2 2 1 3 2 1 1 4 3 2 3 1 2 2 1 3 2 1 21 1 2 1 5 1 1 1 11 1 4 3 10 1 4 1 10 2 10 1 4 1 2 1 4 2 19 1 3 1 1 1 15 2 3 1 2 1 4 1 10 2 2 1 14 1 7 2 2 1 4 2 9 1 2 1 14 1 2 1 3 3 3 1 5 1 6 1 1 1 6 2 1 2 7 4 4 1 2 1 9 1 15 2 1 1 9 1 1 1 4 1 4 1 4 2 1 1 9 3 4 1 9 1 1 3 10 3 5 1 1 1 1 1 13 2 4 1 7 1 3 1 2 1 1 1 3 1 15 1 7 1 1 1 2 1 10 1 5 1 2 1 13 2 1 1 1 1 3 2 8 1 5 1 6 2 10 1 4 1 7 1 5 1 5 1 14 1 15 1 8 1 4 1 8 1 1 1 1 1 1 2 2 1 4 1 2 1 1 1 1 1 1 1 4 1 11 2 3 3 5 1 3 4 1 3 6 1 6 1 2 1 1 1 14 1 10 1 1 1 1 1 4 1 2 1 11 1 7 1 10 1 6 1 8 1 13 1 1 1 5 1 7 1 3 1 5 1 7 1 12 1 16 1 3 1 4 1 4 1 5 1 5 1 3 1 6 2 5 1 12 1 2 2 6 1 6"/>
<path d="M0 2772.5h1000" stroke-dasharray="0 1 3 1 2 2 2 2 1 2 3 1 1 1 2 1 3 2 3 2 2 1 1 3 1 2 1 1 19 1 2 1 5 1 1 1 2 1 3 1 9 1 1 1 4 2 4 1 4 1 10 2 10 1 3 2 2 1 4 2 6 1 12 1 3 1 1 1 15 2 1 1 1 1 2 1 16 1 17 2 6 1 8 1 10 2 14 1 1 1 6 3 3 2 4 1 6 3 6 2 1 2 7 2 1 1 4 1 2 1 9 1 13 1 1 2 11 1 4 3 4 1 4 2 1 2 8 3 4 1 9 1 2 2 1 1 8 3 3 1 1 1 1 1 1 1 13 2 11 2 3 1 4 1 3 1 15 1 7 1 1 1 2 1 8 1 1 1 5 1 2 1 5 1 10 1 1 1 3 2 8 1 5 1 6 2 3 1 6 1 4 1 7 1 5 1 5 1 11 2 1 1 2 1 6 1 5 1 13 1 10 1 3 2 7 1 2 1 1 1 1 1 1 1 4 1 2 1 8 2 1 1 2 2 9 3 3 2 5 2 6 1 2 1 1 1 14 1 10 1 1 1 1 2 3 1 14 1 25 2 6 2 5 1 7 1 1 1 3 1 4 1 4 1 3 1 5 1 7 1 38 1 4 1 5 1 5 1 2 2 7 1 5 1 6 1 5 1 2 2 6 1 3 1 2"/>
<path d="M0 2775.2h1000" stroke-dasharray="4 1 6 2 2 1 3 1 4 1 8 1 5 2 2 2 32 1 6 1 22 1 31 1 8 2 23 1 18 1 1 1 6 1 14 1 18 1 6 1 19 1 15 1 1 1 7 2 3 2 4 1 8 1 7 1 10 1 20 1 13 1 20 1 14 1 8 1 6 1 9 1 5 1 8 3 3 1 5 1 14 1 12 1 3 1 8 1 28 1 10 1 8 1 9 1 6 1 5 1 15 1 6 2 3 1 6 1 4 1 13 1 5 1 11 2 17 1 24 1 15 1 1 1 3 1 7 1 6 1 1 2 15 1 1 1 18 1 4 1 14 1 19 1 41 1 13 1 7 1 5 1 13 1 27 1 2 1 21 1 20 1 7 1 12 1 5 1 3 1 13"/>
<path d="M0 2778.0h1000"/>
<path d="M0 2780.7h1000"/>
<path d="M0 2783.4h1000" stroke-dasharray="7 1 9 1 6 2 10 1 1 1 4 1 4 2 2 1 1 1 1 1 3 1 9 1 6 2 4 1 1 1 8 1 1 2 4 1 2 1 2 3 2 1 8 1 3 2 3 1 1 1 1 2 2 1 4 1 3 3 8 2 4 1 4 1 1 2 8 1 4 1 7 2 4 1 5 1 2 2 7 1 17 1 1 4 1 1 10 2 5 2 2 1 1 1 1 1 1 1 4 3 2 1 3 1 1 1 2 2 1 1 7 1 6 1 2 1 18 1 1 1 7 1 8 1 1 2 1 1 6 1 1 1 2 1 2 2 8 1 2 5 2 1 3 1 1 2 2 1 2 1 1 2 7 1 4 2 1 2 3 1 1 2 2 1 4 2 1 1 3 1 1 1 2 2 5 2 3 1 1 1 1 1 1 2 12 1 2 4 8 1 1 1 1 2 2 1 2 1 1 1 5 2 1 3 1 1 3 2 2 1 1 1 5 1 1 1 5 1 1 1 1 4 2 2 2 1 2 2 1 1 3 2 1 1 3 1 3 1 2 1 1 3 2 1 5 3 4 1 8 1 2 2 5 1 7 1 2 8 4 1 1 1 2 3 3 2 6 1 2 1 3 1 2 1 2 2 2 1 1 1 3 2 1 1 5 4 3 2 2 3 6 2 10 1 5 1 12 1 2 1 4 1 4 2 9 1 10 1 3 1 1 1 3 1 5 1 7 2 4 1 1 1 1 1 15 2 4 1 9 1 1 2 2 1 4 1 3 1 1 1 3 2 8 1 5 1 1 1 11 1 5 1 1 1 2 1 9 1 8 2 1 1 3 1 1 2 1 2 3 1 6 3 2 1 7 1 4 1 2 1 2 1 1 1 2 4 1 1 5 1 1 2 1"/>
<path d="M0 2786.2h1000" stroke-dasharray="0 33 1 30 1 114 1 245 1 5 1 62 1 27 1 78 1 127 1 29 1 33 1 206"/>
<path d="M0 2819.1h1000" stroke-dasharray="0 23 1 22 1 14 1 33 1 47 1 39 1 54 1 24 1 19 1 14 2 8 1 33 1 17 1 12 1 7 1 7 1 22 1 20 1 14 1 3 1 5 1 115 1 14 1 7 1 27 1 53 1 22 1 30 1 11 1 24 1 29 1 2 1 65 1 130"/>
<path d="M0 2821.8h1000" stroke-dasharray="0 5 1 7 1 9 1 12 1 1 1 7 1 14 1 5 1 4 1 16 1 2 1 2 1 46 2 5 1 33 1 1 1 27 1 7 1 16 3 9 2 5 1 2 1 2 2 3 1 12 3 6 1 3 1 3 2 8 1 33 1 15 1 1 1 6 1 5 1 7 1 7 1 21 2 7 1 11 2 2 1 11 1 3 2 4 1 18 1 5 1 1 1 3 1 44 1 2 1 16 1 34 1 3 1 3 1 11 1 1 1 2 1 8 1 1 1 2 1 15 1 34 1 6 1 2 1 12 1 4 1 16 1 8 1 1 1 3 1 2 1 2 1 2 1 3 3 15 1 10 1 10 1 7 1 1 2 6 1 19 1 10 1 12 2 2 1 10 1 31 1 16 1 6 1 13 2 2 1 12 1 25 1 7 1 9"/>
<path d="M0 2824.6h1000" stroke-dasharray="0 4 3 1 4 1 3 1 2 4 5 4 2 2 4 4 3 2 1 1 4 1 4 1 1 1 1 1 5 2 1 1 5 1 1 8 1 2 2 1 1 1 1 1 2 4 1 1 1 1 3 1 1 2 3 4 3 6 1 3 1 1 8 2 2 1 1 2 1 6 1 1 1 1 3 1 1 1 1 2 4 3 1 1 6 1 2 1 4 2 1 1 3 1 7 1 2 2 1 1 1 1 2 2 1 2 1 1 2 3 2 1 4 1 3 2 4 1 2 1 3 1 1 2 2 3 2 1 3 2 1 1 6 2 1 1 1 1 1 3 2 1 3 1 2 1 5 1 1 1 1 1 2 1 1 4 2 3 1 1 3 3 1 1 3 1 7 6 3 1 3 1 2 1 3 1 1 3 1 1 2 1 1 2 2 1 4 1 1 1 1 4 1 1 2 4 2 4 4 1 1 1 1 1 3 3 1 1 2 1 4 1 2 1 1 1 2 2 3 1 1 1 1 1 2 1 5 2 2 5 6 2 2 2 5 1 3 1 1 1 1 2 3 1 1 1 1 2 1 2 1 2 3 2 1 1 1 3 3 1 1 3 1 1 1 1 1 2 2 1 2 1 1 1 1 1 1 3 1 1 2 2 1 2 3 1 5 1 2 2 1 1 1 1 2 2 4 3 1 1 3 3 2 1 4 1 3 1 1 1 1 2 1 6 3 1 4 2 1 1 2 1 2 2 2 2 1 1 2 3 1 2 3 1 2 4 2 7 3 2 3 1 3 1 1 1 2 2 1 1 1 2 1 1 2 1 2 1 4 3 2 1 1 1 1 1 4 1 1 3 1 2 7 1 4 2 1 2 2 1 4 2 1 4 1 3 1 1 1 1 1 1 1 1 2 1 1 1 5 3 1 3 4 4 2 1 3 3 1 1 2 2 2 3 8 2 2 1 1 1 2 4 3 1 1 4 1 2 1 1 2 1 2 1 1 1 5 2 4 1 2 1 1 1 1 2 2 2 1 1 1 3 3 2 2 1 2 2 1 1 1 1 1 1 1 2 1 2 4 1 2 2 1 4 2 3 3 1 2 2 1 2 3 2 4 1 1 2 1 4 5 3 1 3 1 2 1 2 1 1 2 1 9 1 2 1"/>
<path d="M0 2827.3h1000"/>
<path d="M0 2830.1h1000"/>
<path d="M0 2832.8h1000"/>
<path d="M0 2835.5h1000"/>
<path d="M0 2838.3h1000"/>
<path d="M0 2841.0h1000"/>
<path d="M0 2843.8h1000" stroke-dasharray="100 1 7 1 43 1 47 1 41 1 3 1 4 1 17 1 27 1 35 1 41 1 41 1 40 1 24 1 63 1 6 1 42 1 106 1 5 1 38 1 25 1 35 1 37 1 18 1 86 1 44"/>
<path d="M0 2901.4h1000" stroke-dasharray="0 7 1 18 1 8 1 4 1 2 1 6 1 2 1 1 1 3 1 5 1 29 1 4 1 2 2 1 1 11 1 4 1 12 2 2 1 1 1 5 2 36 1 7 1 10 1 15 1 5 1 8 1 35 1 3 1 10 1 8 1 3 1 28 1 17 1 10 1 2 1 21 1 20 1 22 1 8 1 8 1 11 1 37 1 24 1 12 1 2 1 7 1 1 1 12 1 2 1 1 1 6 1 30 1 1 2 17 1 2 1 30 1 17 1 3 1 2 1 12 1 5 1 5 2 46 1 2 1 7 1 40 1 13 1 20 1 21 1 16 1 2 1 1 1 13 1 39 1 11 2 1 1 9 1 34"/>
<path d="M0 2904.1h1000" stroke-dasharray="0 3 1 3 1 2 1 8 1 1 1 4 2 1 1 2 1 1 2 2 1 1 1 1 3 2 1 2 1 2 3 3 1 5 1 3 1 24 3 3 1 3 1 1 1 1 2 5 2 1 1 4 1 5 1 5 3 2 3 3 1 1 2 9 1 3 1 1 1 1 1 1 1 6 1 6 1 2 3 5 1 5 1 4 1 7 1 1 3 1 3 5 1 14 1 7 1 12 1 2 1 3 1 1 1 3 1 10 1 1 1 6 1 3 1 5 5 8 1 2 1 5 2 10 1 6 1 4 1 4 2 2 1 2 1 3 1 14 1 5 1 6 1 3 1 1 4 2 1 5 1 1 1 2 1 1 1 5 2 2 1 1 1 1 2 1 1 6 1 11 1 3 2 5 1 4 1 5 2 6 1 2 1 3 3 10 1 4 1 7 1 1 1 8 1 1 2 1 1 3 2 2 1 1 2 2 1 2 2 4 1 2 4 5 1 1 1 2 3 8 1 7 2 5 1 1 2 1 2 3 2 4 1 4 1 1 2 4 1 1 2 2 1 10 1 8 1 11 1 5 1 3 1 2 1 3 1 6 1 1 1 5 2 4 5 5 1 8 1 1 1 5 1 4 1 4 1 2 1 3 2 2 1 2 1 1 1 3 1 1 1 2 1 18 1 4 2 8 1 3 1 13 1 2 1 3 1 11 1 1 1 13 1 3 1 3 1 3 1 1 1 9 2 2 1 1 1 3 2 7 2 3 1 6 2 12 1 1 1 1 1 5 2 1 1 1 1 5 1 5 2 1 2 8 1 1 1 2 1 1 1 1 1 2 1 3 1 5 1 11 1"/>
<path d="M0 2906.8h1000" stroke-dasharray="0 1 1 2 1 2 1 2 1 4 1 2 5 3 2 1 1 1 2 1 2 2 1 1 1 1 2 1 6 2 3 3 1 1 1 3 1 3 2 3 1 2 1 5 2 7 1 1 3 1 1 1 1 3 1 1 1 1 2 5 2 1 1 3 2 5 1 5 4 1 4 2 4 3 1 1 2 2 1 3 8 5 1 6 1 2 3 2 1 2 1 1 5 4 1 2 1 4 1 1 3 2 2 5 1 4 2 4 2 2 1 4 4 1 1 3 1 4 1 1 1 2 3 1 3 3 1 3 2 5 1 1 1 3 1 2 1 2 2 2 1 1 2 1 4 7 1 2 1 2 1 2 4 8 2 3 4 1 1 1 2 2 5 3 2 1 2 5 2 5 1 1 2 1 4 2 1 3 2 2 1 1 4 2 2 4 1 1 1 2 1 1 2 1 2 1 2 1 7 1 2 4 2 1 1 9 6 1 1 2 2 4 3 3 2 6 1 1 2 3 4 2 2 1 1 3 2 2 3 4 1 1 1 1 2 1 1 2 1 2 1 1 4 3 3 1 4 2 1 2 2 1 1 2 2 1 4 2 1 1 2 1 1 2 3 1 1 4 1 1 1 2 1 2 1 1 2 4 5 1 2 3 2 2 3 3 5 1 1 2 1 1 2 2 1 4 1 4 2 6 3 2 1 6 3 5 1 1 1 1 1 2 2 2 1 1 1 4 1 1 1 4 3 3 7 1 1 2 1 5 1 2 4 1 1 2 1 2 3 1 1 2 1 2 1 2 6 4 2 2 1 1 1 2 2 3 1 4 2 2 1 3 2 1 1 1 1 1 1 1 2 5 1 1 1 1 2 1 1 1 1 2 1 1 5 2 1 3 1 11 3 8 1 2 3 3 1 3 1 3 1 1 1 8 3 2 3 1 1 1 2 1 1 2 1 1 3 3 5 1 4 4 3 4 1 1 3 4 3 1 1 1 1 5 1 2 1 2 2 1 3 1 1 5 1 1 1 1 4 1 1 2 2 2 1 5 1 4 1 6 1"/>
<path d="M0 2909.6h1000" stroke-dasharray="0 1 1 2 1 2 1 2 1 4 1 2 2 1 2 3 4 1 2 2 1 2 1 1 1 1 1 2 6 2 3 2 4 2 2 3 2 3 1 2 1 5 3 6 1 1 3 1 1 1 1 3 1 1 1 1 2 5 2 1 1 3 2 5 1 5 3 2 5 1 4 2 2 1 2 2 1 3 2 1 5 5 1 6 1 2 3 2 1 2 1 1 6 3 1 2 1 2 1 1 1 2 3 1 3 2 1 1 1 4 1 5 2 2 1 4 2 1 1 1 3 1 1 2 3 1 1 2 3 1 4 2 1 3 2 4 2 1 1 4 1 1 1 2 2 2 1 1 2 1 4 5 1 1 1 2 1 2 1 2 1 1 2 8 2 3 2 1 1 1 1 1 3 1 5 3 2 1 1 2 1 3 2 1 1 3 1 1 2 1 5 1 1 1 1 1 2 2 1 1 5 1 1 4 2 1 1 2 1 1 5 1 2 2 6 1 2 4 2 1 1 2 1 3 1 3 6 3 2 4 3 3 2 5 2 2 1 1 1 2 3 2 2 1 2 1 3 2 3 1 2 1 1 1 1 1 2 1 1 1 5 1 4 3 7 2 2 2 2 1 1 2 2 1 4 2 1 1 2 1 1 2 3 1 1 4 1 1 1 2 1 2 4 4 5 1 2 3 2 2 4 2 3 1 1 1 1 2 1 1 2 2 1 4 1 4 2 5 4 2 2 4 4 5 1 1 1 1 1 1 1 1 1 2 1 1 1 3 2 1 1 2 1 1 3 1 1 1 9 1 2 5 2 1 1 1 4 2 1 2 3 1 2 1 1 2 2 1 6 4 7 2 3 2 1 1 2 2 1 2 1 3 2 1 1 1 1 3 3 1 1 2 1 1 1 1 1 2 1 1 2 1 7 2 1 2 2 11 3 1 1 9 2 3 2 3 2 2 1 1 1 8 3 2 3 1 1 1 4 2 5 3 5 1 3 2 1 2 3 4 1 2 2 6 1 1 1 1 2 4 1 2 1 1 1 2 6 1 2 3 7 1 1 2 2 2 1 1 1 3 1 4 1 4 1 1 1"/>
<path d="M0 2912.3h1000" stroke-dasharray="0 1 1 2 1 2 1 2 1 1 1 1 1 3 2 1 1 3 2 1 2 1 1 3 1 2 3 1 1 2 5 3 4 1 4 2 2 3 2 3 2 1 1 1 1 1 1 1 4 7 2 2 1 1 1 3 1 1 1 1 2 2 1 2 2 1 1 4 1 5 1 1 1 1 1 1 3 3 4 1 2 1 3 1 1 1 2 2 1 3 2 1 1 2 2 5 1 6 1 2 3 2 2 1 1 3 4 1 1 4 1 2 1 1 1 2 2 2 1 1 1 2 1 1 1 4 1 5 2 2 2 3 2 3 3 1 1 2 3 1 1 2 1 1 1 1 4 2 1 3 3 1 1 1 2 6 1 1 2 1 2 2 1 1 2 1 3 5 2 1 1 2 2 1 1 4 1 8 4 2 1 2 3 1 2 2 5 1 1 1 2 1 1 2 1 3 2 1 3 1 1 1 2 2 2 1 1 3 1 2 1 2 1 2 4 1 1 3 3 1 1 2 1 1 5 1 2 2 6 1 2 4 5 1 1 3 1 3 6 3 2 4 4 2 2 5 2 2 1 1 1 2 1 1 1 2 2 1 2 1 2 3 3 1 2 1 1 1 1 1 2 1 7 1 3 3 8 2 3 2 1 1 1 2 2 1 4 1 2 1 2 1 1 2 5 4 1 1 1 2 1 1 4 5 5 2 1 2 1 1 1 2 1 1 2 2 3 1 1 1 1 3 1 1 1 2 1 4 1 4 2 3 1 1 1 1 2 2 1 5 4 1 2 1 2 1 1 1 1 1 1 1 1 2 4 2 2 1 1 2 1 2 4 1 5 1 3 1 2 1 1 2 3 1 1 1 4 2 1 2 3 1 2 1 1 2 2 1 6 5 6 1 4 2 1 1 2 2 1 2 1 3 3 2 1 3 3 1 1 2 1 3 1 4 2 1 3 1 4 1 1 2 2 6 1 4 6 4 1 3 2 3 2 3 5 1 1 6 1 1 3 2 3 1 1 1 2 1 1 2 5 1 1 2 4 1 2 3 1 2 2 2 1 2 1 2 3 5 1 1 1 1 2 1 2 1 1 2 1 1 1 2 6 1 2 3 7 1 1 2 2 2 1 1 1 8 1 3 4"/>
<path d="M0 2915.1h1000" stroke-dasharray="0 4 1 2 1 2 3 1 1 1 4 5 2 1 1 4 3 2 3 1 1 2 5 3 4 1 1 1 2 2 2 3 2 4 2 2 1 1 1 1 6 2 1 2 2 4 2 4 1 1 2 2 1 1 5 4 1 3 1 1 3 1 1 2 2 3 4 1 2 1 3 1 1 1 1 1 1 1 1 4 1 1 1 2 2 5 1 1 2 3 1 1 4 2 2 1 1 3 1 1 2 1 1 4 1 2 1 1 2 1 2 2 1 4 1 1 1 2 1 11 2 3 2 3 3 1 1 2 5 2 1 1 1 1 4 2 1 3 3 1 4 6 1 1 2 1 2 4 2 1 3 5 2 1 1 2 2 1 1 4 1 4 1 3 4 1 2 2 3 4 1 2 3 1 1 1 2 1 1 2 2 2 2 1 3 1 1 1 1 1 1 1 1 2 1 2 3 1 1 1 2 3 3 1 1 3 3 1 1 2 7 1 1 3 1 2 3 1 1 5 5 1 1 3 2 2 6 3 2 3 5 2 1 6 2 2 1 1 2 1 1 1 1 2 2 1 5 1 1 1 3 1 2 1 1 1 1 1 2 1 3 1 3 1 3 3 8 2 3 2 1 1 1 2 2 2 3 1 2 1 2 1 1 2 6 3 1 1 1 2 1 1 3 6 5 3 1 1 1 1 2 1 1 1 2 2 3 1 3 3 1 2 1 1 1 4 1 2 1 1 2 3 3 1 2 2 1 3 6 1 1 2 2 1 1 1 3 1 8 1 1 5 1 3 3 1 4 2 3 2 10 1 4 2 1 2 2 2 2 1 1 2 2 1 1 1 4 5 6 1 4 2 1 1 2 2 1 1 2 3 3 2 1 1 1 1 3 1 1 2 1 6 1 1 2 2 2 1 4 1 1 2 1 1 1 3 1 1 1 4 6 2 1 1 1 3 2 1 1 1 2 3 5 1 1 1 1 4 1 1 3 2 3 1 4 1 1 2 5 1 2 1 4 1 2 6 3 1 1 2 1 4 1 5 1 2 3 1 1 2 1 7 6 1 3 2 7 1 1 2 2 1 4 1 3 4 1 3 4"/>
<path d="M0 2917.8h1000" stroke-dasharray="0 2 2 2 2 1 11 3 1 1 2 1 1 1 2 1 3 2 3 1 8 3 4 1 1 1 12 3 2 1 2 1 8 2 2 1 5 1 2 2 1 1 1 1 2 1 2 1 5 2 1 1 1 3 1 1 3 1 1 1 3 1 1 1 13 1 3 4 1 1 1 2 1 1 4 1 1 1 5 2 1 1 4 1 3 1 2 2 1 1 2 1 3 1 2 1 2 1 5 2 3 1 2 1 1 1 4 5 1 3 2 1 1 1 2 1 5 1 1 2 5 2 1 1 9 3 3 1 6 1 1 2 1 1 7 2 2 1 3 1 1 1 10 1 1 4 2 3 1 2 8 2 4 2 2 1 11 1 3 2 2 1 3 1 1 1 1 1 4 1 1 2 3 1 1 1 2 3 5 3 14 1 3 1 2 1 6 2 1 1 5 1 1 2 3 2 6 1 5 2 6 1 1 4 4 2 1 1 2 1 1 1 1 1 9 1 8 1 1 1 1 1 2 1 3 1 8 2 8 1 7 1 2 1 2 2 3 1 2 1 2 1 9 1 1 1 1 1 1 1 2 1 3 4 1 1 5 1 1 1 3 1 2 1 1 1 3 1 2 2 5 1 1 1 2 1 1 1 1 2 1 2 5 1 4 1 2 2 1 1 1 1 6 1 1 1 9 1 12 1 1 1 3 2 7 2 3 2 10 1 4 1 2 2 2 1 8 1 2 1 6 2 7 1 4 2 4 1 2 1 2 3 3 2 3 1 6 1 1 5 2 1 2 2 7 1 2 1 1 1 1 1 1 1 1 1 1 3 7 2 1 1 2 1 5 1 3 2 7 1 1 1 2 1 5 1 11 2 8 1 12 1 3 1 2 1 2 2 3 4 6 1 4 1 1 2 1 1 12 1 7 1 5 1 9 3 1 1 1 1 4"/>
<path d="M0 2920.5h1000" stroke-dasharray="0 1 3 2 2 1 12 1 2 1 2 1 1 1 2 1 18 2 24 1 2 1 8 1 9 1 3 1 1 1 1 1 14 1 1 2 2 1 3 1 1 1 3 1 20 2 2 1 9 1 7 2 6 1 7 1 4 1 16 1 3 1 2 1 6 1 2 1 2 1 4 1 1 1 8 1 8 2 1 1 10 1 14 1 1 1 7 1 3 1 5 1 10 1 1 1 2 1 2 1 3 2 9 1 5 1 14 1 3 1 3 1 3 1 1 1 1 1 6 1 9 1 1 1 22 1 3 1 2 1 15 1 1 1 26 1 2 1 12 1 3 1 20 1 4 1 3 1 29 1 3 1 19 1 3 1 4 1 3 2 3 1 5 1 8 1 17 1 4 1 11 1 8 1 1 1 8 1 24 1 1 1 3 2 8 1 2 3 10 1 7 2 11 1 10 1 7 1 4 1 13 1 18 4 5 2 7 1 4 1 1 1 1 1 1 1 2 2 10 1 2 1 5 1 4 1 18 1 16 1 4 1 22 2 3 3 7 1 4 1 4 1 12 1 23 3 1 1 6"/>
<path d="M0 2923.3h1000" stroke-dasharray="5 1 2 1 20 1 2 1 44 1 11 1 34 2 8 1 3 1 20 1 13 1 8 1 6 1 33 1 2 1 6 1 21 1 22 1 16 1 17 1 18 1 14 1 5 1 18 1 9 1 8 1 9 1 28 1 2 1 17 1 45 1 21 1 4 1 3 1 33 1 28 1 3 1 4 1 5 1 43 1 10 1 32 2 1 1 16 1 1 1 18 1 12 1 10 1 12 1 31 1 1 2 1 1 4 2 12 1 1 1 1 1 4 1 11 1 13 1 40 1 23 1 3 1 9 1 22 1 25 1 8"/>
<path d="M0 2926.0h1000" stroke-dasharray="89 1 34 1 9 1 3 1 20 1 13 1 15 1 33 1 2 1 28 1 22 1 16 1 57 1 18 1 9 1 8 1 9 1 24 1 3 1 2 1 17 1 45 1 26 1 70 1 4 1 4 2 50 1 36 1 13 1 5 1 20 1 12 1 22 1 20 1 11 1 2 1 1 1 4 2 21 1 11 1 13 1 40 1 23 1 3 1 18 1 2 1 36 1 8"/>
<path d="M0 2928.8h1000"/>
<path d="M0 2931.5h1000"/>
<path d="M0 2934.3h1000" stroke-dasharray="4 1 10 2 8 1 10 1 2 1 3 2 4 1 6 1 1 1 4 1 2 1 1 1 6 1 1 1 5 1 6 1 4 1 1 1 11 2 9 1 3 1 5 1 1 3 2 2 4 1 2 1 7 1 2 1 1 2 12 1 3 1 3 1 1 4 5 1 2 2 21 1 4 1 2 1 1 1 3 1 1 2 1 1 3 2 12 1 10 1 1 2 6 3 2 1 8 1 1 1 4 2 6 1 8 1 4 2 7 1 8 1 4 1 2 1 6 1 1 1 11 1 1 2 2 1 9 1 6 1 18 3 4 1 10 1 3 1 1 2 12 2 4 2 11 2 1 1 6 3 11 1 2 1 4 2 9 1 1 1 3 2 2 1 3 1 5 1 1 1 3 1 3 1 4 2 13 1 1 1 2 2 4 1 9 2 6 1 7 2 7 2 7 1 1 1 2 1 3 1 2 1 5 1 5 1 2 1 2 1 3 3 4 1 3 2 3 2 4 1 2 2 11 1 3 1 4 1 8 1 3 1 4 1 13 1 2 2 1 2 1 1 6 1 12 1 1 2 1 1 5 1 1 1 2 1 1 1 9 1 1 1 5 2 6 1 3 2 1 2 1 1 1 1 3 1 2 1 14 1 1 1 1 1 2 2 2 2 2 2 7 1 5 3 15 1 2 1 1 2 2 1 1 1 6 1 4 1 5 2 1 1 1 2 3 1 11 1 4 1 7 1 2 1 5 1 4 1 8 2 1 1 2 1 10 1 1 1 3 1 4 1 2 1"/>
<path d="M0 2937.0h1000" stroke-dasharray="0 9 1 1 1 9 2 36 1 33 1 17 1 9 1 7 1 33 1 7 1 7 1 24 1 3 1 41 1 3 1 88 1 6 1 2 1 8 1 31 1 36 1 16 1 53 3 1 1 102 3 4 1 24 1 14 1 5 1 28 1 6 1 5 1 82 1 2 1 6 1 15 1 22 1 1 1 38 1 7 1 20 1 18 1 36 1 4 1 32"/>
<path d="M0 2939.7h1000" stroke-dasharray="0 21 1 71 1 17 1 163 1 77 1 94 1 53 2 105 3 4 1 45 1 35 1 5 1 82 1 48 1 48 1 20 1 18 1 36 1 4 1 32"/>
<path d="M0 2948.0h1000" stroke-dasharray="0 42 1 55 1 203 1 12 1 76 1 50 1 16 1 37 1 205 1 67 1 25 1 10 1 75 1 76 1 4 1 32"/>
<path d="M0 2950.7h1000" stroke-dasharray="1 1 1 4 1 15 1 5 1 1 1 2 1 2 1 2 1 1 1 2 1 1 1 7 1 8 1 2 1 6 1 5 1 12 2 3 1 2 1 18 2 7 1 1 1 7 1 3 1 19 1 4 1 1 1 5 2 15 3 2 1 1 1 8 1 1 1 20 1 4 1 3 1 1 1 4 2 3 1 36 1 4 2 2 2 1 1 7 1 1 1 2 1 13 1 10 1 7 1 4 1 11 1 1 1 3 1 1 1 1 1 3 1 2 2 1 1 6 2 5 1 1 1 15 1 22 1 2 2 10 1 3 2 4 1 5 1 6 1 1 2 2 1 4 1 8 1 8 1 1 1 5 1 25 1 3 1 1 1 1 2 1 1 1 1 6 2 2 1 1 1 5 1 1 1 9 2 1 1 2 1 3 1 6 1 1 1 1 1 2 1 5 1 5 1 1 4 14 1 7 1 1 1 2 1 3 1 5 1 5 1 6 1 6 1 9 1 9 1 2 1 1 1 4 3 1 1 6 1 22 4 6 1 3 1 1 2 4 3 1 1 11 1 1 1 9 1 9 2 5 1 11 1 2 2 6 1 3 1 5 2 3 1 5 1 12 1 10 1 1 2 1 1 3 1 3 1 3 1 1 1 18 1 1 1 1 1 4 1 1 1 3 1 3 1 12 1 7 2 2 1 1 1 6 1 3 2 5 1 4 1 9"/>
<path d="M0 2953.5h1000" stroke-dasharray="1 1 1 4 1 15 1 3 1 1 1 1 1 2 1 2 1 2 1 4 1 1 1 7 1 8 1 2 1 12 1 1 1 7 1 1 2 1 1 2 1 2 1 6 1 11 2 7 1 1 1 4 1 1 2 3 1 4 1 9 1 9 1 1 1 6 1 11 1 4 2 2 1 1 1 10 1 16 1 3 1 4 1 3 1 1 1 4 2 3 1 17 1 18 1 4 2 2 2 1 1 7 1 1 1 2 1 24 1 7 1 4 1 7 1 3 1 1 1 3 1 1 1 1 1 3 1 3 1 1 2 5 2 4 2 17 1 12 1 9 1 3 1 10 1 4 1 10 1 6 1 1 2 2 1 4 1 8 1 6 1 1 1 1 1 5 1 19 1 5 1 1 4 2 2 1 3 4 1 1 2 2 1 1 1 1 1 3 1 1 1 2 1 4 1 1 2 4 1 12 1 1 1 9 1 2 1 1 1 2 3 3 1 6 1 3 1 7 1 1 1 2 1 3 1 5 1 5 1 6 1 2 1 2 2 5 1 3 1 9 1 2 1 1 1 4 3 1 1 13 1 12 1 2 4 6 1 3 1 1 3 3 3 1 1 11 1 1 1 9 1 9 2 1 2 2 2 10 1 2 2 7 1 4 1 4 1 3 1 5 1 5 1 1 1 1 1 2 1 9 2 1 2 1 1 3 1 3 1 4 3 8 1 3 1 3 2 1 1 1 1 4 1 1 1 3 1 6 1 9 1 4 1 2 2 2 1 3 1 4 1 3 2 5 1 4 1 5 1 3"/>
<path d="M0 2956.2h1000" stroke-dasharray="0 98 1 9 1 59 1 131 1 1 1 12 1 55 1 7 1 5 1 69 1 148 1 1 1 18 1 25 1 2 1 39 1 19 1 71 1 11 1 13 1 59 1 105 1 11 1 9"/>
<path d="M0 2980.9h1000" stroke-dasharray="0 7 1 14 1 20 1 24 1 14 1 8 1 9 1 27 1 3 1 11 1 11 1 13 1 8 1 6 2 8 1 4 1 12 1 49 1 4 1 5 1 6 1 8 2 18 1 8 1 3 1 4 1 10 1 25 1 8 1 9 2 47 1 8 2 3 1 9 1 4 1 16 1 2 1 10 1 10 1 9 1 20 1 1 1 2 1 1 1 5 2 3 1 31 1 31 1 2 1 8 1 4 1 22 1 19 1 8 1 20 1 13 1 25 1 54 1 35 1 3 1 19 1 12 1 18 1 2 1 11 2 1 1 5 1 67 1 6 1 3"/>
<path d="M0 2983.6h1000" stroke-dasharray="0 1 1 2 1 1 2 1 1 3 1 3 3 1 3 1 1 2 1 3 2 3 1 1 3 1 1 3 2 3 2 4 5 3 1 1 1 2 1 5 3 3 1 2 2 1 1 2 3 2 1 4 2 4 1 1 1 2 1 2 1 1 1 1 1 1 2 1 1 1 1 1 2 2 3 1 4 2 1 1 3 2 1 2 2 3 1 8 2 3 1 4 1 1 1 1 2 1 1 3 2 4 1 1 4 3 1 2 1 1 1 6 2 1 1 1 1 7 5 7 2 1 1 1 1 5 2 1 1 3 1 3 1 2 2 4 2 4 1 4 1 1 2 7 4 7 1 8 1 1 1 4 4 2 4 1 1 4 1 5 2 1 1 1 1 2 1 4 2 5 1 2 1 2 1 2 1 4 2 3 1 2 5 2 1 15 2 1 1 1 3 8 3 3 2 1 2 2 1 3 1 1 5 1 1 1 2 5 1 1 2 1 1 2 2 3 2 2 1 7 1 2 1 1 2 1 1 3 1 1 7 2 1 1 1 1 1 4 2 1 2 2 2 3 1 9 3 1 2 1 1 1 2 3 3 3 1 7 1 14 2 6 2 2 1 3 1 3 5 3 1 2 1 2 1 1 1 3 3 1 1 1 1 1 1 1 1 2 1 1 1 1 4 4 3 3 1 3 1 1 6 2 1 2 2 8 1 1 2 2 1 1 2 1 3 5 1 1 1 2 1 2 2 1 1 2 1 2 1 2 1 7 3 8 1 3 2 9 1 2 1 1 1 9 7 8 2 2 1 1 1 1 1 1 2 4 2 1 1 3 5 1 1 5 2 2 2 3 1 3 2 3 1 2 1 2 3 1 1 1 1 2 2 2 1 2 1 1 1 2 3 4 3 1 3 2 3 2 1 1 1 2 1 1 1 2 1 1 1 3 2 1 1 1 2 1 1 5 5 3 3 1 1 4 1 2 1 4 1 2 2 12 1 2 1 1 1 5 1 3 1 1 1 1 1 2 1 4 1 4 2 2 1 4 1 1 2 2"/>
<path d="M0 2986.4h1000" stroke-dasharray="5 1 6 1 14 1 7 1 9 1 4 2 18 1 5 1 5 1 1 2 4 1 5 1 1 1 1 2 4 1 2 1 18 1 2 2 3 1 5 1 5 2 1 1 4 2 2 1 4 1 5 1 2 3 1 1 4 1 1 1 6 1 9 1 4 1 2 1 8 1 17 2 3 1 7 1 6 1 1 2 7 3 15 2 3 2 4 1 5 1 4 1 2 1 4 1 1 2 4 2 4 1 6 1 2 1 7 2 1 3 3 1 1 3 7 2 4 1 4 1 2 1 5 1 3 1 5 1 2 1 1 1 4 1 5 2 1 1 3 1 5 1 5 2 5 1 5 1 6 2 12 1 3 1 2 2 9 1 5 2 1 1 7 1 4 1 1 4 10 1 2 1 1 2 1 1 6 1 4 1 8 1 3 2 1 1 9 1 7 1 6 2 2 2 1 2 11 1 3 1 4 1 9 1 1 1 3 1 2 1 1 1 4 3 5 1 4 1 8 2 1 2 2 1 2 1 2 1 6 1 12 1 6 2 10 1 5 1 8 1 2 1 1 1 3 1 2 1 2 3 4 1 4 1 6 2 10 1 2 1 6 1 3 1 2 1 5 1 3 1 9 1 1 1 3 1 12 2 2 1 1 1 9 1 2 2 1 2 3 2 5 1 13 2 8 2 3 1 4 1 4 1 2 1 10 1 5 2 3 1 7 2 3 1 11 1 6 1 1 1 3 1 16 1 3 1 1 2 1 1 1 1 4"/>
<path d="M0 2989.1h1000" stroke-dasharray="3 1 1 1 2 1 18 1 17 1 4 2 2 1 2 1 2 1 1 1 1 1 2 1 2 4 2 1 5 1 1 1 5 2 4 1 1 1 1 2 4 4 18 1 1 3 9 1 5 2 1 2 4 1 2 1 4 1 3 1 1 1 2 2 2 1 4 1 1 1 4 1 1 1 4 1 2 1 4 1 1 1 2 1 1 1 1 1 4 1 7 1 10 1 3 1 4 1 7 1 1 1 1 3 6 1 1 1 10 1 1 1 2 2 2 3 4 1 10 1 2 1 4 1 2 1 4 2 4 1 1 1 4 1 2 1 5 1 1 2 1 3 3 1 1 3 7 2 4 1 4 1 2 1 4 3 2 1 5 2 1 1 1 1 4 1 1 1 3 2 1 1 3 1 5 1 4 3 5 1 5 1 1 1 2 4 12 2 2 1 2 2 15 2 1 1 12 1 1 4 7 1 2 2 3 2 1 1 2 1 3 1 4 1 12 2 1 1 2 1 4 3 7 1 5 3 2 2 1 2 1 1 9 1 3 1 1 1 2 1 6 2 1 1 1 1 3 2 1 1 1 1 5 1 6 1 4 1 8 2 1 2 4 2 2 1 2 1 3 1 8 1 3 1 1 1 4 2 16 1 8 1 2 1 1 1 2 2 2 2 1 2 1 1 3 1 4 2 5 2 1 1 8 1 2 1 6 1 3 2 1 1 3 1 5 1 9 1 1 1 3 1 2 1 4 1 5 1 2 1 1 2 8 2 1 1 2 2 3 2 5 1 9 1 3 2 8 2 3 2 8 1 1 1 11 1 6 1 3 1 7 2 3 1 9 1 1 2 3 1 3 1 3 1 8 1 2 1 1 1 2 1 3 1 1 1 2 1 1 1 4"/>
<path d="M0 2991.8h1000" stroke-dasharray="3 3 1 2 10 2 5 2 2 1 1 1 12 1 4 2 2 1 2 1 2 1 1 1 1 1 2 1 2 4 2 1 7 2 4 2 3 2 1 1 1 2 2 1 1 4 2 1 12 1 2 1 1 3 9 1 4 3 1 2 4 2 1 1 4 1 3 1 1 1 2 1 3 1 6 1 4 1 1 1 1 1 2 1 2 1 4 1 1 1 2 1 1 1 1 1 4 1 3 1 1 1 1 1 2 1 4 1 2 1 3 1 4 1 9 4 7 1 1 1 12 1 2 2 2 1 1 1 4 1 13 1 2 1 1 2 7 1 4 1 1 1 4 1 2 1 2 1 2 1 1 5 1 2 1 1 1 3 7 1 5 1 1 1 2 1 1 2 2 1 1 2 3 1 4 3 1 1 1 1 4 3 3 2 1 1 5 1 3 1 4 4 10 1 1 1 3 3 12 2 2 1 2 2 8 1 4 1 1 2 4 1 4 3 2 1 1 3 8 1 3 1 2 3 1 1 2 1 3 1 4 1 5 1 3 2 1 2 1 1 2 1 4 1 1 1 5 2 5 3 3 2 1 2 1 2 8 1 3 1 1 1 2 1 6 2 1 1 5 2 1 1 1 1 5 1 9 1 1 1 8 2 2 2 3 2 2 1 1 3 1 2 6 1 1 1 3 1 1 1 4 2 5 1 11 1 7 1 2 1 1 1 6 2 1 2 1 1 3 1 1 1 2 2 3 1 2 1 1 1 1 1 6 1 2 1 6 1 3 2 1 1 3 1 5 1 11 1 5 2 4 1 2 1 5 1 1 2 8 2 5 1 3 1 5 2 9 1 3 2 3 1 4 2 4 1 5 1 4 1 9 1 1 2 5 1 3 1 2 1 4 2 3 1 5 1 2 5 3 1 3 1 2 2 2 1 5 1 2 3 2 1 2 1 2 1 1 2 1 1 3 1"/>
<path d="M0 2994.6h1000" stroke-dasharray="3 6 6 1 3 2 5 2 2 1 1 2 16 1 9 1 1 1 1 1 2 1 2 4 2 1 2 1 4 2 4 2 4 1 1 1 1 2 2 1 2 2 3 1 12 2 2 1 1 1 9 1 4 2 1 1 1 2 5 1 1 2 3 1 6 1 5 1 6 1 4 5 2 1 2 1 4 1 1 1 2 1 1 1 1 1 8 1 1 1 1 1 2 1 4 1 2 1 3 1 4 1 1 1 7 4 1 1 5 1 1 1 7 1 4 1 1 1 1 1 2 1 1 3 2 2 2 1 3 2 4 1 2 1 1 2 7 1 4 1 1 1 4 1 2 2 1 1 2 1 1 1 1 3 1 2 1 1 1 3 1 1 5 1 1 1 5 1 2 1 1 1 3 1 1 2 2 2 4 3 3 1 4 3 4 1 1 1 5 1 3 1 4 2 1 1 7 1 1 2 1 1 1 1 1 3 8 1 3 2 2 1 2 2 8 1 4 4 4 1 4 3 2 1 1 1 1 1 8 1 3 1 2 3 1 1 2 1 3 1 4 1 5 1 3 2 1 1 2 1 2 1 4 1 8 1 5 1 1 1 4 1 1 2 1 2 8 1 3 1 1 1 2 1 3 2 1 2 1 1 5 2 1 1 1 1 11 1 5 1 2 1 6 1 2 2 4 1 2 1 1 3 1 2 6 1 1 1 3 1 1 1 4 3 4 1 11 1 7 1 4 2 3 1 1 1 3 1 1 1 3 1 1 1 2 1 4 1 2 1 1 3 6 1 2 1 6 1 3 2 1 1 2 2 17 1 5 2 7 1 5 1 1 2 9 2 4 1 3 1 5 2 9 1 4 1 3 1 1 1 2 1 2 1 2 1 5 2 15 1 6 1 6 1 1 1 3 1 1 1 1 1 5 1 4 3 3 1 7 1 2 1 5 1 2 3 2 2 1 1 2 2 7 1"/>
<path d="M0 2997.3h1000" stroke-dasharray="3 2 1 2 6 2 1 1 1 2 6 1 4 2 3 1 12 1 9 1 1 1 2 1 1 1 2 4 3 1 1 1 4 2 11 1 4 1 1 2 1 2 3 1 7 1 4 2 2 1 1 1 7 1 1 1 1 1 2 2 1 1 1 2 5 1 1 2 3 1 2 1 3 1 3 1 8 1 5 3 3 1 2 2 5 1 4 1 1 1 2 1 7 1 1 1 2 1 4 1 6 1 4 1 1 1 7 3 2 1 16 1 3 1 1 1 1 2 1 1 3 1 2 2 2 1 4 1 4 1 2 1 1 2 2 1 9 1 1 1 8 3 2 1 3 1 3 2 1 1 13 1 5 1 2 1 1 1 3 1 5 2 4 3 8 2 1 1 5 1 5 1 3 1 4 1 2 1 7 1 1 2 1 1 1 1 1 2 9 1 3 2 5 1 9 1 4 4 2 1 1 1 4 3 2 1 3 1 15 1 1 1 4 1 2 3 2 2 12 1 2 1 1 1 3 1 1 1 14 1 1 1 7 1 1 2 1 1 10 1 1 1 2 1 3 2 1 1 9 1 3 1 11 1 2 1 5 1 6 1 3 1 7 1 1 3 2 1 6 1 1 1 5 1 4 2 4 3 2 1 7 2 5 1 4 3 5 1 3 1 5 1 1 1 2 1 4 1 2 1 1 3 6 1 14 1 1 1 3 1 17 1 6 1 7 1 5 1 1 1 2 1 4 1 2 2 8 1 5 2 1 1 8 1 3 1 3 1 1 1 1 1 3 1 2 1 5 2 15 1 13 1 1 1 3 3 1 1 10 2 2 1 12 1 5 1 3 2 2 2 1 1 2 2 7 1"/>
<path d="M0 3000.1h1000" stroke-dasharray="32 1 27 1 1 1 21 1 22 2 17 1 4 1 15 1 12 1 36 1 27 1 36 1 22 1 30 1 3 1 9 1 1 1 22 1 30 1 11 1 13 1 11 1 8 1 2 1 9 1 2 1 3 2 9 1 20 1 4 1 2 1 4 1 4 3 2 1 19 1 9 2 17 1 4 1 87 1 24 1 1 1 25 1 37 1 3 1 10 1 57 1 25 1 35 1 3 1 21 1 31 1 35 1 9 1 10 1 8"/>
<path d="M0 3002.8h1000"/>
<path d="M0 3005.5h1000"/>
<path d="M0 3008.3h1000" stroke-dasharray="3 2 5 2 1 1 1 1 1 1 2 1 1 2 1 2 1 1 2 2 2 3 2 2 6 1 2 1 3 3 1 3 5 3 1 3 3 1 2 2 1 3 1 3 1 1 1 1 1 5 2 6 4 1 3 2 1 4 1 3 2 1 1 3 3 4 2 1 1 1 2 2 1 3 2 1 1 4 1 1 1 1 1 4 1 3 1 2 1 2 1 2 1 1 1 1 2 1 1 1 1 4 2 2 3 1 4 1 1 1 2 1 1 2 1 2 1 1 1 1 1 1 1 1 1 4 1 2 2 1 5 1 2 4 3 7 1 1 2 5 1 3 4 1 1 2 1 6 1 1 1 1 1 1 4 3 1 2 2 2 1 1 1 3 3 3 1 2 1 1 1 1 1 9 4 1 2 1 2 6 1 2 1 2 4 3 2 1 2 3 1 3 1 2 4 1 3 2 1 1 1 2 4 1 3 2 1 3 1 2 2 3 2 3 4 5 1 1 2 1 2 2 1 1 2 2 4 1 2 1 1 2 2 2 2 1 2 2 2 1 5 1 4 1 1 2 1 2 1 1 4 1 1 1 1 7 2 1 1 2 1 2 5 1 3 5 5 5 1 3 2 1 4 2 3 5 1 2 2 2 1 1 1 3 2 1 3 1 2 1 3 1 1 1 1 1 1 2 1 3 1 2 2 5 2 1 5 4 1 2 2 5 2 2 2 2 4 3 1 4 1 3 1 1 2 1 1 2 2 1 1 1 2 2 1 1 1 3 4 2 1 3 1 2 2 7 1 1 4 7 4 6 1 1 2 1 3 1 3 1 2 4 1 1 5 1 1 1 1 2 2 4 4 2 11 1 1 3 2 2 2 2 1 1 2 5 1 1 1 2 1 1 1 5 6 1 1 6 2 1 2 10 1 3 2 2 1 4 1 1 1 1 1 4 1 1 4 1 3 3 4 2 2 2 3 1 2 6 1 1 3 4 3 5 1 1 1 2 1 1 1 4 2 2 3 1 2 6 1 4 2 1 1 2 1 1 2 3 3 1 2 1 3 1 1 1 3 1 1 5 2 3 3 2 1 1 1"/>
<path d="M0 3011.0h1000" stroke-dasharray="0 118 1 407 1 110 1 135 1 226"/>
<path d="M0 3057.6h1000" stroke-dasharray="0 273 1 130 1 24 1 512 1 40 1 16"/>
<path d="M0 3060.4h1000" stroke-dasharray="0 429 1 512 1 40 1 16"/>
<path d="M0 3063.1h1000" stroke-dasharray="0 895 1 46 1 57"/>
<path d="M0 3065.9h1000" stroke-dasharray="0 895 1 46 1 57"/>
<path d="M0 3068.6h1000" stroke-dasharray="0 368 1 526 1 46 1 57"/>
<path d="M0 3071.4h1000" stroke-dasharray="0 368 1 631"/>
<path d="M0 3082.3h1000" stroke-dasharray="0 3 1 2 2 2 1 2 3 2 1 5 1 2 1 2 1 1 1 2 1 6 1 1 1 3 1 1 1 4 1 5 1 4 1 4 2 5 1 4 2 6 1 5 2 8 2 15 1 4 2 5 1 8 1 1 2 2 1 17 1 1 1 1 2 2 1 3 1 9 2 2 1 1 2 1 2 4 1 1 1 1 1 4 1 1 1 7 3 2 1 3 2 1 1 6 2 6 1 4 2 1 1 3 1 13 1 5 1 3 1 3 1 1 1 6 1 2 1 10 1 9 2 5 1 7 1 1 1 7 2 5 2 7 1 1 1 1 2 3 1 4 1 1 1 4 1 8 1 9 1 6 1 4 2 1 1 12 1 7 2 6 2 2 1 10 2 12 1 1 2 5 1 3 1 3 2 1 1 2 1 5 1 1 3 1 1 1 1 2 1 2 1 1 1 2 1 7 1 1 1 2 1 7 1 2 2 6 1 17 1 3 1 3 1 16 1 1 1 3 2 5 1 2 4 1 2 6 2 1 1 8 1 2 1 11 1 3 3 7 1 4 1 6 1 12 2 5 1 1 1 7 1 5 1 5 1 1 2 2 2 1 1 3 2 3 1 1 1 1 1 2 1 1 1 6 1 4 1 4 1 1 1 3 1 2 1 2 2 1 1 4 4 1 1 10 2 7 1 2 1 8 1 3 1 4 1 1 1 3 1 12 1 5 1 9 1 4 1 9 1 1 1 1 1 6 1 4 3 6 1 15 1 21 1 6 1 3 2 6 2 1 2 10 1 2 1 3 1 9"/>
<path d="M0 3085.1h1000" stroke-dasharray="2 1 1 1 18 1 13 1 1 1 7 1 9 1 2 1 3 1 4 1 9 2 5 1 1 3 5 1 2 2 1 1 1 1 1 1 2 2 1 1 2 3 5 1 3 1 4 3 4 1 2 2 5 2 1 1 11 1 1 2 11 1 4 1 1 3 4 1 2 1 2 1 3 1 1 1 3 1 2 1 3 1 11 2 3 1 5 1 2 1 5 1 1 1 2 3 12 2 3 3 7 1 1 1 3 1 5 2 6 1 1 1 2 1 1 2 1 1 4 3 2 1 9 3 9 1 7 2 4 1 1 1 1 3 19 1 5 1 2 2 1 3 15 1 17 1 1 2 3 2 7 1 2 1 5 1 3 2 3 1 1 1 1 2 5 1 4 1 1 1 1 1 1 2 2 1 4 1 1 2 1 1 5 1 11 1 3 1 4 2 10 3 1 2 7 1 1 2 4 1 1 1 1 5 1 1 1 1 7 1 4 1 1 1 5 2 1 2 6 1 5 1 15 1 3 1 5 1 2 1 8 1 4 1 2 1 7 1 2 2 9 1 1 1 3 1 1 1 12 1 4 2 4 1 7 1 2 2 4 1 5 3 2 1 3 1 3 2 3 1 3 2 1 2 6 1 3 3 1 2 1 1 8 1 4 1 1 5 1 1 6 1 2 1 4 1 1 2 3 1 3 1 3 2 5 1 1 1 1 2 1 1 16 1 1 4 1 1 2 1 1 1 1 2 1 1 1 1 6 1 2 1 2 1 2 3 6 1 9 1 2 1 7 1 1 1 2 2 2 1 5 1 3 1 4 1 2 1 2 2 4 1 5 1 5 1 4 1 5 1 6 1 2 1 1 1"/>
<path d="M0 3087.8h1000"/>
<path d="M0 3090.6h1000"/>
<path d="M0 3093.3h1000"/>
<path d="M0 3096.0h1000"/>
<path d="M0 3098.8h1000" stroke-dasharray="1 2 3 1 19 3 13 1 5 2 1 1 8 1 3 3 2 1 10 1 1 1 2 1 2 1 6 1 21 1 9 1 2 1 2 1 16 1 4 1 29 1 2 1 20 2 11 1 16 1 7 2 1 1 10 1 14 2 5 2 2 1 13 1 12 1 2 1 2 1 5 1 1 1 10 1 12 2 7 1 3 1 3 1 6 1 8 1 34 1 14 1 14 1 16 1 4 1 8 1 1 2 19 1 2 1 3 1 26 3 9 1 13 1 8 1 10 1 33 1 5 1 12 1 2 2 16 1 8 1 15 2 5 1 3 1 4 1 6 1 2 1 7 2 11 1 10 1 5 1 23 1 9 1 37 1 8 1 10 1 19 1 3 1 3 1 24 1 1 1 16 1 19 1 6 1 12 1 10 2 2 1 3 1 1 1 3 1 2 1 20"/>
<path d="M0 3101.5h1000" stroke-dasharray="0 3 1 5 1 1 2 1 4 1 3 1 2 6 1 2 1 1 1 2 1 1 1 3 1 4 1 1 1 1 3 1 2 2 1 5 1 3 1 1 6 1 1 5 1 1 3 1 2 1 6 1 4 1 6 1 2 2 1 1 1 2 2 3 1 1 2 2 4 1 2 3 5 4 1 1 2 1 1 1 1 1 1 1 1 1 1 1 1 2 4 2 1 1 2 4 1 3 1 3 2 1 1 2 5 1 1 4 2 1 6 3 2 1 3 1 2 2 1 1 1 4 2 1 1 1 1 5 1 1 3 1 3 1 3 1 3 2 1 1 2 3 1 6 2 3 2 1 4 1 3 3 2 1 1 2 4 1 1 5 5 1 1 2 6 1 2 1 1 2 3 1 1 2 2 2 5 1 1 1 1 1 1 2 2 1 2 1 3 1 2 4 2 1 1 1 3 1 1 1 5 1 2 1 1 1 1 1 1 1 5 2 1 2 1 1 1 1 3 5 1 2 1 1 1 1 2 2 3 1 2 1 1 1 2 1 1 2 4 3 2 3 2 2 8 1 1 3 1 1 2 1 3 1 2 4 2 3 1 2 2 3 4 3 2 1 1 4 5 1 2 4 1 1 4 6 1 1 5 1 3 1 5 2 1 2 1 2 4 3 4 2 11 1 7 1 4 1 1 2 1 3 1 1 2 1 1 1 4 2 1 1 2 2 4 1 5 1 3 1 1 1 1 1 1 1 2 1 1 2 8 1 4 3 1 1 2 3 1 2 4 1 1 2 1 3 1 3 1 2 1 1 1 3 10 6 2 1 1 2 3 3 6 1 1 4 1 1 5 1 1 1 1 1 2 2 4 2 1 2 3 1 1 2 3 1 1 1 2 1 1 3 1 1 2 1 4 1 1 1 1 2 4 1 3 1 1 1 2 1 5 3 3 2 2 4 2 2 2 1 1 1 1 2 2 2 1 1 3 1 3 2 1 1 1 2 1 1 2 1 1 5 1 3 6 1 1 1 2 1 2 1 1 2 1 3 1 1 3 1 2 4 3 5 1 2 1 1 1 1 2 3 1 2 1 1 3 5 1 7 1 4 3 1 11 2 3"/>
<path d="M0 3104.3h1000" stroke-dasharray="0 3 1 5 1 1 2 1 4 2 2 1 2 5 2 2 1 2 1 1 3 3 1 2 1 1 1 1 2 1 2 1 1 3 1 5 1 3 1 2 5 1 1 5 1 1 3 1 2 1 6 1 2 1 3 1 4 1 2 2 1 1 1 3 1 3 1 2 1 4 2 1 2 3 1 1 3 1 2 1 1 1 2 1 1 1 3 1 1 1 3 2 4 2 1 1 2 4 1 3 1 3 2 1 8 1 1 4 2 1 5 3 3 1 3 1 2 4 1 4 2 1 1 1 1 1 1 5 3 1 3 1 3 1 3 2 1 1 2 1 1 1 1 6 2 3 2 2 2 2 1 1 1 3 2 1 1 1 3 1 2 3 1 2 5 3 1 1 2 1 2 1 2 1 2 1 3 1 1 2 2 2 7 1 1 3 1 1 1 1 2 1 3 1 2 2 10 1 1 1 5 1 4 3 1 1 2 1 2 2 2 1 1 1 1 1 1 1 1 2 1 2 1 2 1 1 1 1 2 2 6 1 4 1 1 2 2 1 1 3 1 4 2 2 5 1 2 1 1 3 1 1 6 1 2 1 1 2 3 2 1 2 2 2 6 2 4 1 1 3 4 1 2 4 1 1 4 6 1 1 5 1 3 1 5 2 1 2 1 2 4 3 4 2 11 1 12 1 1 2 1 3 1 1 9 2 1 1 2 2 4 1 5 2 2 1 1 1 1 1 1 2 1 1 1 2 2 2 4 1 4 3 1 1 2 1 1 1 1 1 5 1 1 1 2 3 1 3 2 1 1 5 1 1 8 6 2 1 1 2 1 1 1 4 5 5 1 2 4 1 1 2 1 1 2 2 4 1 2 2 3 1 1 2 1 1 1 3 2 1 1 3 1 1 7 1 1 1 1 2 8 1 1 1 2 2 4 2 4 2 3 3 2 2 1 2 1 1 1 2 2 2 1 2 2 1 1 1 1 1 2 1 1 1 7 5 1 3 2 1 3 1 1 1 1 2 1 2 1 2 1 2 2 1 3 2 1 4 3 1 1 2 1 3 3 1 2 3 1 2 1 1 3 5 1 7 1 1 1 2 3 1 10 3 2 1"/>
<path d="M0 3107.0h1000" stroke-dasharray="0 3 1 5 1 1 2 1 4 2 2 1 2 5 2 2 1 2 1 1 3 3 1 2 1 1 4 1 2 1 1 3 2 4 1 3 2 2 4 1 1 1 1 3 1 1 3 1 2 1 1 1 7 1 2 3 3 1 2 2 1 1 1 3 1 3 1 2 1 4 4 1 1 2 1 1 4 1 1 3 2 1 1 3 1 1 1 1 3 2 1 1 1 3 1 5 1 1 1 3 1 4 1 1 1 1 6 1 1 3 2 2 1 1 3 2 4 1 1 1 1 1 2 9 4 1 1 1 1 5 3 3 1 1 3 1 2 5 1 2 1 1 1 6 2 3 2 2 2 2 1 5 4 1 2 2 2 3 1 2 5 6 1 2 4 1 1 2 5 2 1 1 1 2 4 1 1 5 1 1 1 1 6 1 2 2 10 1 1 1 5 3 2 3 1 1 2 1 2 2 1 2 1 3 1 1 1 2 1 2 1 2 1 1 1 1 2 2 7 1 3 1 1 3 1 1 1 3 1 4 3 1 5 1 2 1 1 3 1 1 3 1 2 1 3 3 3 1 2 2 2 2 2 1 4 1 1 1 1 2 1 3 7 4 1 1 4 8 5 1 2 4 3 2 1 1 2 1 3 1 1 2 1 1 2 3 6 1 1 1 1 2 4 1 1 1 5 1 1 2 1 3 1 1 1 1 4 1 2 2 1 1 2 2 4 2 1 1 2 2 2 1 1 3 1 4 2 1 2 2 6 1 2 3 1 2 1 1 1 1 1 1 5 1 1 1 2 3 1 1 1 1 1 2 1 8 1 1 5 6 2 1 1 2 1 6 5 3 1 1 1 2 4 1 1 2 1 3 1 1 2 1 1 1 2 2 3 1 1 2 1 5 2 1 1 1 1 1 1 1 7 1 1 1 1 1 3 1 7 1 2 2 2 1 1 2 4 2 3 3 2 2 1 2 1 1 1 2 2 1 2 2 2 1 1 1 1 1 2 1 1 1 1 1 5 5 1 3 2 1 2 2 1 1 1 1 3 1 1 2 1 2 1 2 1 1 1 2 2 3 3 4 1 2 1 1 2 2 1 2 2 2 1 1 3 3 1 1 1 7 1 1 1 2 3 1 3 1 3 1 2 3 2 1"/>
<path d="M0 3109.7h1000" stroke-dasharray="1 2 1 2 1 2 2 1 1 1 4 2 5 2 1 2 1 1 1 1 2 1 1 1 3 6 1 1 4 1 4 3 2 8 2 2 6 1 1 3 1 1 3 1 2 1 1 1 7 1 2 4 2 5 1 1 1 1 1 1 1 1 1 1 1 2 1 2 1 1 4 1 1 1 2 1 6 3 2 1 1 3 1 1 5 2 1 1 1 3 1 5 1 1 1 3 1 1 1 2 1 1 1 1 6 1 1 3 2 2 1 1 3 2 3 2 1 1 1 1 2 9 4 1 3 5 3 3 5 1 2 5 1 2 3 6 2 2 1 1 1 2 2 2 3 3 4 1 2 2 2 3 1 2 5 6 1 2 4 4 2 1 2 2 1 1 1 2 3 2 1 4 2 1 1 1 1 1 4 1 2 2 10 1 1 2 3 3 3 3 1 1 2 1 2 2 1 2 2 2 1 1 1 2 1 2 2 1 1 1 1 1 2 2 7 1 5 1 1 3 1 1 1 1 1 4 6 1 2 1 2 1 1 5 3 2 1 1 4 2 1 1 1 1 3 1 2 2 2 1 4 1 1 1 1 2 1 4 6 1 1 2 6 1 2 5 5 2 1 4 3 4 2 1 3 1 1 2 1 1 2 3 1 1 4 1 1 1 1 3 1 1 1 1 1 1 3 1 3 2 2 2 1 1 1 1 1 1 2 1 2 2 1 1 8 2 1 2 1 2 2 1 2 2 1 3 3 1 2 1 7 1 1 1 2 1 1 2 1 1 3 1 5 1 4 1 1 1 1 1 1 1 1 2 2 9 2 1 1 1 1 5 2 1 2 1 1 6 6 1 4 2 3 2 1 2 1 3 1 1 2 1 1 1 2 2 2 2 1 2 1 5 2 3 1 3 7 1 1 1 1 1 2 2 7 2 1 3 1 1 1 2 4 2 5 1 2 2 2 1 1 4 6 1 2 3 1 1 2 1 3 1 4 2 1 3 1 2 3 1 2 2 1 1 1 1 3 1 1 2 1 2 1 2 1 1 1 3 1 3 3 4 2 1 1 1 2 4 3 1 2 1 3 2 2 1 1 2 3 1 2 1 2 1 7 1 3 2 1 3 2 1"/>
<path d="M0 3112.5h1000" stroke-dasharray="1 2 1 1 2 2 2 1 1 1 1 1 2 2 5 1 3 1 1 1 1 1 2 1 5 1 1 4 1 2 8 2 3 1 1 2 1 3 2 2 6 1 1 1 1 1 1 1 3 1 2 1 1 1 7 1 4 2 2 5 1 1 3 1 1 1 1 1 4 2 6 1 4 1 8 1 2 1 2 2 1 1 5 2 1 1 1 3 1 2 2 1 3 3 4 2 2 1 8 2 3 1 6 2 3 2 1 1 1 1 2 6 2 1 4 1 3 2 2 1 3 3 5 1 2 7 4 6 3 1 1 1 1 2 2 1 11 1 2 2 2 2 3 2 4 4 1 1 1 2 4 1 1 1 7 1 1 1 1 2 3 2 1 4 2 3 1 1 5 1 1 1 5 1 2 1 4 2 3 2 1 1 2 2 2 1 2 1 2 2 1 1 4 1 3 2 5 1 1 1 1 1 2 2 1 1 2 1 2 1 5 1 1 1 1 1 1 1 3 4 6 1 2 2 1 1 2 4 3 1 8 1 1 1 1 1 1 1 1 1 2 2 2 1 4 1 1 1 1 2 1 4 8 2 6 1 3 2 1 1 4 3 1 1 1 2 3 4 6 1 1 2 1 1 2 1 1 3 4 1 1 1 1 1 1 1 1 1 1 1 1 1 6 1 1 2 1 1 2 1 1 1 1 1 2 2 1 2 1 1 8 2 1 2 1 1 3 1 2 1 2 1 1 1 1 1 2 1 1 1 7 1 1 1 3 3 1 1 14 1 3 1 1 1 1 1 3 2 1 6 2 1 1 1 1 5 2 1 2 1 1 5 4 2 1 1 4 2 4 1 1 1 4 1 5 2 1 3 2 1 2 2 1 5 2 3 1 3 7 1 1 1 1 1 2 2 8 1 2 2 1 1 1 2 4 2 3 1 1 1 2 2 2 1 1 1 1 2 6 1 3 2 4 1 3 1 4 1 2 3 1 2 3 1 2 1 2 1 1 1 3 1 1 5 1 2 1 1 2 2 1 3 4 3 2 1 1 1 2 3 2 1 1 1 6 2 4 2 17 1 2 3 2 1 4"/>
<path d="M0 3115.2h1000" stroke-dasharray="1 4 1 3 1 2 1 1 1 6 1 1 2 2 1 2 1 1 1 2 1 4 2 1 1 4 1 2 1 1 3 1 2 4 1 8 2 4 3 2 1 3 1 1 1 1 1 1 2 3 2 1 2 3 3 3 2 7 3 3 1 7 1 1 4 3 1 4 1 6 2 7 2 1 1 3 1 1 1 10 1 4 4 3 1 5 1 5 1 4 1 1 1 4 2 5 1 2 1 6 2 1 1 1 2 2 1 4 1 1 1 6 1 5 1 8 2 8 2 1 1 1 1 2 1 2 1 1 2 2 5 1 1 4 1 2 3 3 3 6 1 2 2 1 1 5 1 1 1 1 1 1 1 1 1 2 1 1 1 2 1 5 1 7 3 1 1 3 3 5 3 3 1 9 2 2 1 5 1 1 1 1 2 3 1 2 1 1 3 3 1 1 2 2 1 4 2 1 2 1 2 5 1 1 1 1 1 6 2 1 1 2 1 12 1 2 3 1 3 3 1 1 1 1 1 6 1 3 2 3 1 2 1 5 5 4 4 1 1 1 1 7 1 5 1 5 1 5 1 1 4 9 1 3 1 1 1 2 1 3 1 3 1 1 1 1 1 1 1 7 1 2 1 1 1 4 1 2 1 5 2 2 1 4 1 2 1 3 1 5 1 5 1 5 1 3 1 5 2 3 1 1 2 2 1 2 2 1 1 4 1 3 1 4 2 2 1 6 1 4 1 5 2 1 1 2 1 6 1 1 1 4 3 3 3 2 1 4 1 1 3 4 1 3 2 5 1 5 2 3 1 3 2 2 3 1 1 1 1 1 1 4 3 1 1 3 1 8 1 1 2 6 1 1 2 2 2 6 1 1 3 2 1 4 1 1 2 1 1 1 1 2 3 1 1 4 1 2 1 6 1 2 1 2 1 8 1 2 1 2 1 2 1 3 2 1 1 4 1 3 1 4 2 3 1 2 3 2 1 2 1 2 3 1 1 1 1 1 2 1 2 1 2 2 1 7 1 1 1 1"/>
<path d="M0 3118.0h1000" stroke-dasharray="0 23 1 6 1 4 1 7 1 7 1 5 1 29 1 5 1 7 1 4 1 6 1 7 1 13 1 1 1 11 1 41 1 11 1 17 1 19 1 2 1 22 1 9 1 16 1 2 1 5 1 1 1 12 1 4 3 6 1 2 2 7 1 30 1 14 1 27 1 19 1 8 2 5 1 17 1 20 2 10 1 12 1 4 1 8 2 1 1 5 1 1 1 34 1 29 1 3 1 17 1 2 1 5 1 43 1 7 1 22 1 10 1 11 1 13 1 10 3 16 1 62 1 9 1 12 1 1 1 7 1 6 1 36 1 20 1 9 1 3 1 3 2 2 1 20 1 2 1 11"/>
<path d="M0 3120.7h1000" stroke-dasharray="0 30 1 70 1 4 1 14 1 13 1 13 1 41 1 11 1 23 1 39 1 9 1 16 1 2 1 5 1 19 1 11 2 38 1 62 1 8 1 6 1 50 1 17 1 9 1 1 1 42 1 4 1 49 1 49 1 7 1 71 1 80 1 9 1 87 1 42 1 14"/>
<path d="M0 3156.4h1000" stroke-dasharray="3 1 1 4 2 2 1 4 1 9 1 1 3 7 1 10 1 11 1 3 1 2 1 2 1 8 1 15 1 6 3 1 1 5 3 1 1 6 1 1 1 17 1 9 1 1 1 3 1 2 1 11 1 7 1 2 1 4 1 1 1 2 1 4 3 1 1 2 1 8 2 3 1 1 3 5 2 2 1 12 1 1 1 6 1 11 1 3 1 4 2 6 1 5 3 9 1 18 2 1 1 7 1 10 1 3 1 4 1 14 1 1 1 1 1 4 2 1 1 5 2 1 1 14 1 6 1 2 1 2 1 20 1 3 1 4 1 10 1 14 1 21 1 5 1 1 2 18 1 2 1 3 1 4 2 1 1 3 1 1 3 13 2 3 1 5 1 5 1 2 1 3 1 5 1 6 1 2 2 14 1 3 1 14 1 10 1 4 1 13 1 20 1 1 1 11 1 33 1 10 2 3 1 21 2 7 1 6 1 3 1 2 1 3 1 12 1 4 1 12 1 3 2 4 1 12 2 2 1 3 1 7 2 13 1 7 1 7 1 5 1 2 1 3 1 3 1 5 2 8 1 6 1 3 1 2 1 9 3 1 1 3 1 1 3 2 1 2 1 5 1 10 1 3"/>
<path d="M0 3159.1h1000" stroke-dasharray="12 1 3 1 4 1 3 1 9 1 5 1 2 2 3 1 2 1 2 2 14 1 11 1 13 1 1 1 2 1 1 1 25 2 10 2 3 2 4 1 12 1 8 1 7 2 11 1 3 1 1 1 10 1 1 2 4 1 1 1 5 2 9 3 11 1 1 2 4 1 1 1 1 1 1 1 2 1 3 1 2 2 7 1 4 1 10 1 4 1 16 1 2 1 2 2 5 1 2 1 2 1 2 1 2 2 6 1 3 1 2 1 7 1 15 1 8 1 3 1 3 1 17 1 4 1 4 1 15 1 9 1 5 1 8 1 3 1 5 1 1 1 1 2 4 1 1 1 4 1 1 1 7 1 8 1 1 1 1 1 5 1 25 1 8 1 4 2 1 1 1 2 32 1 4 1 3 1 3 1 4 1 1 1 7 1 1 1 1 1 5 1 3 3 5 1 2 1 3 2 11 1 19 1 1 1 6 1 2 2 6 1 2 2 4 2 6 1 1 1 7 1 4 2 5 2 7 2 8 2 10 1 4 1 5 1 3 1 2 2 1 1 5 1 5 1 1 1 1 1 7 1 5 3 4 1 5 1 7 1 5 1 1 1 7 1 3 1 8 1 5 3 5 1 2 2 6 1 3 1 2 1 1 1 5 2 2 2 10 1 16 1 13 1 3 1 5 4 3 1 2 2"/>
<path d="M0 3161.8h1000" stroke-dasharray="55 1 200 2 227 1 39 1 31 1 13 1 96 1 126 1 124 1 69 1 9"/>
<path d="M0 3164.6h1000"/>
<path d="M0 3167.3h1000"/>
<path d="M0 3170.1h1000"/>
<path d="M0 3172.8h1000"/>
<path d="M0 3175.6h1000"/>
<path d="M0 3178.3h1000"/>
<path d="M0 3181.0h1000"/>
<path d="M0 3183.8h1000"/>
<path d="M0 3186.5h1000"/>
<path d="M0 3189.3h1000" stroke-dasharray="0 1 17 1 9 1 1 2 2 1 2 1 1 1 9 1 2 1 8 1 1 1 1 1 5 2 2 1 10 1 1 2 2 1 8 1 8 2 11 1 1 1 5 1 8 1 2 1 8 1 6 2 3 2 10 2 7 1 1 1 10 1 3 1 12 1 2 1 16 1 5 1 14 2 33 1 1 2 2 1 6 1 9 1 4 1 10 1 15 1 17 1 11 1 12 1 14 1 10 2 4 1 3 1 23 2 29 1 2 1 1 1 2 1 6 1 3 1 8 1 16 1 3 2 1 1 3 1 6 1 2 1 2 1 6 1 8 1 2 1 4 1 23 1 1 1 4 1 2 1 10 2 4 1 17 1 18 1 2 1 3 3 5 1 14 1 13 1 5 2 6 2 18 1 1 1 16 1 4 1 4 1 6 1 46 1 2 1 7 1 1 1 21 1 6 1 5 1 3 1 5 1 3 1 1 1 9 1 1 1 11 1 12 1 9 1 4 1 6 1 1 1 14 2 5 3 14 1 2 1 6 1 3"/>
<path d="M0 3192.0h1000" stroke-dasharray="0 5 1 21 1 13 1 14 1 12 1 56 1 8 1 1 1 4 1 12 1 44 1 13 1 4 2 30 1 20 1 8 1 1 1 4 1 14 1 7 1 4 1 17 4 6 1 10 1 3 1 6 1 4 1 22 1 3 1 2 1 9 1 21 1 5 1 26 1 5 1 5 1 11 1 2 1 3 1 7 1 9 1 1 1 2 1 33 1 9 1 2 1 4 1 7 1 3 1 8 2 44 1 33 1 5 1 2 1 11 1 9 1 10 1 8 1 10 1 51 1 13 1 8 1 1 1 4 1 16 1 3 2 4 2 21 1 8 1 11 1 2 2 13 3 2 2 7 2 5 1 11 1 42 1 14 1 2"/>
<path d="M0 3194.7h1000" stroke-dasharray="0 5 1 8 1 7 1 1 1 2 1 5 1 11 1 10 1 12 1 56 2 7 1 1 1 40 1 1 1 19 1 15 1 2 2 30 1 20 1 8 1 1 1 32 1 18 3 6 1 10 1 3 1 6 1 27 1 1 1 1 1 2 1 1 1 4 1 2 1 21 1 5 1 12 1 13 1 2 1 2 1 5 1 14 1 11 1 14 1 33 1 9 1 2 1 4 1 7 1 8 1 4 1 35 1 18 1 12 1 16 1 2 1 18 1 2 1 30 1 7 1 28 1 14 1 22 1 1 1 4 1 16 1 4 1 4 1 6 1 15 1 8 1 11 1 2 2 8 1 4 1 1 1 3 1 7 2 5 1 29 1 24 1 14 1 2"/>
<path d="M0 3197.5h1000" stroke-dasharray="0 1 2 2 1 3 1 3 2 7 1 1 1 8 1 10 2 10 1 7 1 17 1 23 1 13 1 5 2 6 2 10 1 33 1 19 1 18 2 5 1 24 2 18 2 8 1 1 1 29 1 22 2 6 1 10 1 3 1 7 1 8 1 17 3 4 1 1 1 4 1 2 1 17 1 3 1 5 1 12 1 13 1 2 1 5 1 26 1 2 1 14 1 21 1 11 1 9 1 2 1 9 1 16 1 6 1 28 1 18 1 5 1 6 1 16 1 21 1 2 1 30 1 7 1 11 1 11 1 4 2 2 1 10 1 5 1 8 1 7 1 23 1 4 1 4 1 6 1 15 1 10 1 9 1 3 2 7 1 4 1 1 1 9 1 1 1 6 1 4 1 25 1 23 1 14 1 2"/>
<path d="M0 3200.2h1000" stroke-dasharray="3 2 5 2 5 2 4 1 1 1 4 3 6 1 1 1 8 1 1 1 1 2 3 5 2 3 2 1 2 1 3 3 2 1 1 6 1 2 3 3 2 1 1 1 6 7 4 1 2 1 5 2 3 1 1 3 3 2 1 1 1 3 10 3 1 1 1 2 1 1 3 3 4 1 3 1 1 1 1 1 1 2 1 2 2 1 1 2 1 1 1 1 4 2 2 1 1 2 2 2 2 1 1 2 2 6 1 4 1 2 14 5 2 1 1 3 2 2 2 1 1 2 3 1 1 2 1 1 1 3 1 1 1 1 1 2 1 1 1 2 2 2 5 4 4 8 1 2 5 2 1 2 2 2 3 1 4 1 4 2 1 2 4 5 4 1 5 3 3 3 3 1 1 2 1 1 3 2 2 1 1 2 1 3 2 1 3 2 5 1 8 2 2 1 3 4 1 6 2 4 2 2 1 2 4 1 2 6 2 3 1 2 2 3 2 1 2 2 1 7 1 1 1 2 1 1 2 1 4 1 1 1 1 1 2 4 1 3 1 2 2 3 2 2 4 4 1 1 1 2 3 1 3 3 1 2 2 2 2 1 3 3 5 1 1 1 2 1 3 2 3 2 1 1 1 1 4 3 1 1 5 2 1 1 2 3 1 2 1 1 1 2 10 2 2 6 4 3 1 2 1 2 1 2 4 1 1 2 2 1 1 1 1 2 2 1 1 1 2 2 1 3 3 1 4 4 2 1 2 2 1 1 1 2 1 3 2 2 3 1 8 1 4 2 3 2 1 1 3 1 2 3 1 2 1 2 9 4 1 1 2 1 2 1 1 1 1 1 2 3 1 1 1 4 1 1 1 1 1 2 1 2 2 1 4 2 4 1 1 1 3 1 1 1 4 1 2 2 4 2 3 1 8 2 1 1 3 1 3 4 4 1 2 1 1 1 2 2 3 1 6 1 1 2 2 2 3 6 1 7 2 1 1 1 3 1 3 1 1 2 2 2 1 1 2 1 4 1 2 2 2 2 6 2 1 3 2 1"/>
<path d="M0 3203.0h1000" stroke-dasharray="233 1 306 1 123 1 114 1 41 1 178"/>
<path d="M0 3205.7h1000" stroke-dasharray="540 1 238 1 220"/>
<path d="M0 3208.5h1000"/>
<path d="M0 3211.2h1000"/>
<path d="M0 3213.9h1000" stroke-dasharray="5 2 5 1 12 2 1 1 21 1 2 1 36 1 5 1 11 1 1 1 6 1 3 1 18 2 3 1 4 1 7 2 1 1 2 1 1 1 4 2 2 1 1 1 9 1 20 1 9 1 6 2 24 1 10 1 5 1 16 1 2 1 2 1 11 1 2 1 9 2 10 1 13 1 1 1 7 1 28 1 4 1 12 1 8 1 3 1 2 1 1 1 18 2 9 3 8 1 13 1 8 1 14 1 25 1 8 1 8 1 6 1 4 1 2 1 5 2 3 1 17 1 8 1 4 1 25 1 1 1 21 1 1 2 25 3 5 1 13 1 6 2 10 1 4 1 13 1 12 1 10 1 2 1 18 2 1 1 18 1 28 1 9 1 4 1 29 1 6 2 14 1 4 2 1 1 16 1 3 2 5 1 8 1 3 2 1 2 1 1 9 1 1 1 1 1 5 1 22"/>
<path d="M0 3224.9h1000" stroke-dasharray="0 2 1 8 1 32 1 19 2 18 1 14 1 5 1 14 1 10 1 17 1 30 1 42 1 8 1 21 2 3 1 26 1 17 1 23 1 6 1 11 1 16 1 15 1 2 1 1 1 7 1 6 2 11 1 19 3 40 1 9 1 13 1 12 1 21 1 39 1 22 1 9 1 10 1 18 1 1 1 32 1 14 1 45 1 14 1 2 1 7 1 11 1 11 1 3 1 5 1 5 1 7 1 24 1 59 1 15 1 12 2 21 1 3 1 23 1 14 1 11"/>
<path d="M0 3227.7h1000" stroke-dasharray="0 11 1 5 1 13 1 12 1 19 2 31 1 1 1 5 1 13 2 2 1 56 1 44 1 6 1 9 1 4 1 6 2 3 1 44 1 3 1 14 1 4 1 18 1 16 1 20 1 6 2 6 2 11 1 3 1 5 1 10 1 41 1 36 1 21 1 34 1 27 1 20 1 6 1 13 1 32 1 14 1 45 1 17 1 19 1 11 1 3 1 5 1 13 1 50 1 33 1 15 1 12 2 21 1 3 1 38 1 11"/>
<path d="M0 3233.1h1000" stroke-dasharray="0 17 1 13 1 360 1 226 1 34 1 238 1 106"/>
<path d="M0 3235.9h1000" stroke-dasharray="0 17 1 13 1 89 1 37 1 34 1 152 1 28 1 15 1 56 1 16 1 4 2 46 1 37 1 61 1 34 1 8 1 52 1 42 1 79 1 53 1 59 1 7 1 12 1 13 1 11"/>
<path d="M0 3238.6h1000" stroke-dasharray="3 1 4 1 1 1 2 1 1 1 5 2 2 1 1 1 1 1 2 1 1 1 1 1 3 1 9 1 2 1 1 2 2 1 1 1 4 4 2 3 5 1 1 3 2 1 1 2 7 1 1 2 8 1 1 6 5 1 2 1 3 2 3 1 1 2 1 5 4 1 1 2 3 1 1 1 3 1 4 1 5 3 5 2 1 3 2 1 7 2 1 1 6 3 2 4 9 2 1 3 2 4 3 2 1 1 4 1 3 1 1 1 4 4 2 1 1 1 5 1 1 1 3 1 2 2 1 1 3 2 1 3 4 1 4 4 2 1 3 1 2 2 2 1 2 2 1 1 3 1 2 2 1 1 2 2 4 1 3 1 3 4 2 3 5 2 1 3 6 1 1 2 2 1 3 1 4 1 10 4 3 4 3 1 5 3 6 1 5 3 1 1 2 1 1 1 4 2 2 3 3 1 1 3 4 1 1 2 8 1 4 1 3 2 2 2 3 1 3 2 10 1 1 2 3 1 1 6 8 1 3 1 12 2 3 2 1 2 2 2 3 1 3 3 1 1 10 1 2 3 1 1 1 3 1 2 4 1 5 1 1 1 4 2 2 3 1 1 10 1 3 1 1 1 2 1 9 1 1 1 4 2 6 1 2 1 1 1 2 1 2 1 12 1 2 2 1 1 7 1 2 1 3 1 1 2 2 2 1 1 1 1 2 1 2 2 3 1 1 2 4 1 1 1 1 6 1 1 5 1 1 2 1 2 1 1 3 1 1 1 4 2 5 1 1 2 5 2 2 1 1 1 1 2 2 1 2 1 2 1 1 2 3 1 3 2 1 2 2 2 10 2 4 1 1 1 1 1 2 1 1 1 2 2 6 1 2 1 4 1 1 1 4 1 1 1 2 1 3 1 4 5 2 1 1 1 8 1 3 1 2 2 4 1 1 1 3 2 2 1 4 1 1 1 3 1 1 5 1 1 5 2 2 5 5 1 1 1 1 1 1 1 1 1"/>
<path d="M0 3241.4h1000"/>
<path d="M0 3244.1h1000"/>
<path d="M0 3246.8h1000"/>
<path d="M0 3249.6h1000"/>
<path d="M0 3252.3h1000"/>
<path d="M0 3255.1h1000"/>
<path d="M0 3257.8h1000"/>
<path d="M0 3260.6h1000"/>
<path d="M0 3263.3h1000" stroke-dasharray="56 1 28 1 8 1 17 1 16 1 53 1 21 1 42 1 28 1 44 1 17 1 96 1 33 1 71 1 21 1 16 1 59 1 31 1 39 1 19 1 30 1 25 1 142 2 1 1 4 1 2 1 4 1 13 1 35"/>
<path d="M0 3266.0h1000" stroke-dasharray="0 6 1 2 1 16 1 6 1 9 1 1 1 1 1 10 1 1 1 1 1 4 1 2 2 6 1 1 1 2 2 7 1 6 1 5 1 4 1 2 1 11 1 12 1 1 1 8 1 5 1 1 1 6 3 3 1 14 1 1 2 8 1 3 3 10 3 2 3 7 2 1 3 6 1 3 3 8 1 3 1 1 1 2 2 1 2 5 1 4 2 5 2 2 1 1 1 3 1 2 1 2 2 1 1 9 1 4 1 7 1 2 1 5 1 3 1 2 1 4 1 4 1 23 1 5 1 7 1 6 1 1 1 1 1 10 1 10 1 1 1 2 1 18 1 3 1 2 1 10 1 9 1 1 1 3 1 2 1 3 1 2 1 12 1 4 1 1 1 7 1 6 1 2 3 1 1 10 1 3 1 1 2 2 1 12 1 2 1 6 1 8 1 2 1 1 1 7 1 1 2 4 2 8 1 9 1 5 1 1 2 3 1 3 1 6 1 3 1 2 1 1 2 3 2 1 1 4 2 11 1 2 1 3 1 2 2 1 1 9 1 3 1 7 1 1 2 9 1 1 3 4 1 1 1 2 1 1 1 2 2 5 1 2 1 1 1 1 1 2 1 9 1 3 1 2 1 11 1 9 1 9 2 2 3 13 2 1 2 19 1 2 2 2 1 1 2 7 2 1 1 2 2 12 1 11 1 7 2 2 2 18 2 4 4 2 1 1 2 11 3 3 1 1 1 3 1 3 2 1 1 1 1 1 1 1"/>
<path d="M0 3268.8h1000" stroke-dasharray="0 4 1 1 1 2 1 16 1 6 1 9 1 2 2 2 1 7 1 1 1 6 1 2 2 8 1 2 2 7 1 6 1 5 1 1 1 2 1 3 1 7 1 15 1 1 1 8 1 6 2 6 1 1 1 3 1 14 1 1 2 8 1 3 1 1 1 2 1 9 1 2 3 8 1 1 2 7 1 3 3 8 1 8 2 2 1 5 1 11 2 2 1 5 1 3 1 2 1 8 1 7 1 7 1 8 1 3 1 3 1 3 1 4 1 32 1 2 1 1 1 6 1 3 1 21 4 1 1 9 1 8 1 3 1 2 3 8 1 9 2 2 3 2 1 3 1 2 1 10 1 1 2 3 1 1 1 2 1 4 1 9 3 1 1 10 2 2 1 1 2 2 1 14 2 4 1 1 1 8 1 1 2 1 1 5 1 1 1 1 1 5 2 4 1 3 2 7 2 3 1 1 1 1 2 3 1 3 2 5 1 3 1 2 4 3 2 1 1 4 2 3 1 7 1 2 1 6 2 1 2 8 1 3 1 7 1 1 2 2 1 6 1 1 4 3 1 1 1 8 1 5 1 2 1 1 1 1 1 2 1 9 1 3 1 2 1 7 1 3 1 9 1 4 1 4 2 2 1 7 1 7 2 10 1 12 1 1 3 1 1 1 2 1 1 5 2 1 1 3 1 12 1 11 1 7 3 1 2 13 1 5 1 4 4 2 1 1 1 9 1 2 3 2 2 1 1 7 1 2 1 1 1 3"/>
<path d="M0 3271.5h1000" stroke-dasharray="0 4 3 2 2 15 1 3 1 10 1 1 1 2 2 2 1 6 2 1 1 6 1 2 2 8 3 9 1 5 2 2 1 2 1 1 1 2 1 3 1 7 1 9 1 5 1 1 1 15 1 5 1 1 1 1 1 3 1 7 1 6 4 8 1 3 1 1 1 2 2 8 1 2 4 7 1 1 1 5 1 2 1 3 1 1 1 8 1 8 2 2 1 5 1 8 1 3 1 8 1 6 1 2 1 2 1 2 2 6 1 15 1 4 1 3 1 3 1 4 1 2 2 7 1 20 1 1 2 12 1 17 1 4 3 1 1 9 1 8 1 3 1 2 3 4 1 2 2 9 2 2 3 6 1 2 1 10 1 6 1 1 1 2 1 7 1 7 1 2 1 10 1 5 1 3 1 9 1 4 2 3 2 1 1 6 1 3 2 7 1 1 1 1 1 5 2 3 1 4 2 7 2 3 1 1 1 1 2 10 1 3 1 3 1 2 3 4 2 1 1 4 2 3 1 2 1 4 1 2 1 6 1 2 3 7 1 3 1 7 1 1 2 2 1 1 1 4 1 1 1 1 2 3 1 1 1 8 1 5 1 2 1 1 1 1 1 1 1 5 1 8 1 10 1 3 1 9 1 2 1 1 1 2 1 1 2 2 1 7 2 1 1 4 2 6 2 2 1 12 1 1 1 1 1 1 1 1 1 2 1 5 1 2 2 2 1 10 1 1 1 11 1 3 1 1 1 1 3 2 1 13 1 5 1 5 3 2 1 1 1 7 1 1 1 2 2 2 3 1 1 2 1 4 1 2 1 1 1 3"/>
<path d="M0 3274.3h1000" stroke-dasharray="1 2 4 2 3 3 3 3 2 1 1 1 2 1 2 1 2 2 2 2 5 1 2 2 2 3 1 1 4 3 1 2 1 2 2 5 1 1 4 2 1 2 1 1 1 1 1 6 1 2 1 2 1 1 1 2 1 3 3 5 1 5 1 3 1 3 2 2 1 15 7 1 1 1 1 3 1 1 1 2 1 2 1 5 6 2 1 4 1 2 4 2 6 1 1 2 1 2 5 2 2 2 1 1 1 1 2 1 3 1 1 3 3 1 1 5 2 2 1 1 1 3 3 1 1 1 1 1 1 1 2 1 1 4 2 2 5 5 2 2 1 2 1 1 2 2 1 1 4 4 4 3 2 4 1 1 1 1 3 2 1 1 1 1 2 2 1 4 6 2 1 3 1 6 3 2 1 2 1 1 3 1 1 1 2 4 1 2 4 1 3 3 4 5 1 2 1 2 1 1 3 1 5 5 2 2 1 4 3 1 6 4 2 1 2 2 1 2 2 2 2 2 6 2 3 1 1 9 2 3 1 1 2 1 2 1 1 3 2 2 1 2 1 2 3 2 1 4 1 5 2 1 6 1 1 9 1 4 2 3 2 1 2 1 1 2 2 1 1 1 2 7 1 1 3 5 3 1 4 2 2 1 1 2 5 1 5 1 3 5 2 1 3 2 1 3 2 1 4 3 4 2 1 1 2 3 1 2 1 4 4 3 2 1 1 1 4 1 1 1 1 2 3 2 2 6 1 1 8 1 1 1 6 3 1 1 1 1 4 3 1 1 1 2 2 2 7 1 1 3 1 4 1 1 1 1 2 4 1 1 1 2 2 2 1 2 1 5 2 2 3 2 1 1 2 2 2 1 1 2 1 1 5 1 1 1 2 6 2 2 3 1 2 7 1 1 1 1 3 1 2 1 2 1 1 2 5 1 2 1 1 5 4 1 3 2 2 5 2 2 1 1 1 1 3 1 2 1 2 7 1 2 2 4 1 3 1 1 3 1 2 1 1 3 1 3 3 2 10 1 1 2 1 1 1 1 5 2"/>
<path d="M0 3277.0h1000"/>
<path d="M0 3279.7h1000"/>
<path d="M0 3282.5h1000"/>
<path d="M0 3285.2h1000"/>
<path d="M0 3288.0h1000" stroke-dasharray="0 41 1 1 1 2 2 29 1 81 1 12 1 11 1 59 1 10 1 9 1 58 1 25 1 1 1 65 1 46 1 34 1 3 1 47 1 7 1 37 1 12 1 12 1 13 1 25 1 33 2 2 1 26 1 5 1 36 1 47 1 22 1 80 1 25 2 28 1 14 1 4"/>
<path d="M0 3312.7h1000" stroke-dasharray="0 75 1 28 1 74 1 88 1 78 1 85 1 461 1 22 1 44 1 26 1 9"/>
<path d="M0 3315.4h1000" stroke-dasharray="0 15 1 25 1 9 1 6 1 4 1 4 1 6 1 4 1 8 1 14 1 3 1 25 2 3 1 5 1 1 1 1 1 22 1 6 1 5 1 24 1 18 1 9 1 14 2 6 1 5 1 2 2 24 1 3 1 10 1 25 1 8 1 4 1 2 1 1 1 3 1 2 1 3 1 13 1 12 1 34 1 2 1 2 1 11 3 2 1 10 1 21 1 7 1 11 1 2 1 17 1 21 1 9 1 14 1 5 1 4 1 14 1 13 1 1 1 18 2 1 2 6 1 13 1 6 1 4 1 17 1 14 1 4 1 8 1 6 1 3 1 26 1 9 1 16 1 13 1 4 1 7 1 1 1 10 1 6 1 1 1 6 1 1 1 52 1 8 1 11 1 1 1 17 1 2 1 23 1 1 1 1 1 1 1 13 1 2 1 3 1 9"/>
<path d="M0 3318.1h1000" stroke-dasharray="1 2 4 6 3 3 1 2 1 1 2 3 1 2 1 3 3 1 2 1 1 1 2 1 8 1 2 3 2 2 1 1 1 4 1 1 1 1 1 1 6 2 4 5 1 1 1 5 8 1 1 3 1 3 4 1 2 1 1 1 1 2 3 2 2 1 1 2 9 1 1 1 4 2 2 6 5 1 3 3 4 1 5 4 3 1 1 1 2 1 2 2 3 5 1 1 2 5 6 1 1 2 1 1 1 2 1 1 1 1 3 2 1 1 10 3 1 1 1 1 4 1 4 2 1 1 1 2 2 1 2 2 2 2 2 2 1 2 2 1 1 1 2 1 1 3 4 1 1 1 4 1 1 4 2 2 4 4 3 4 2 1 4 1 7 1 2 4 1 1 1 1 1 2 3 1 2 2 1 3 1 1 1 4 4 4 3 1 1 1 2 1 4 2 2 3 6 2 1 4 2 3 1 1 6 3 1 1 1 1 1 2 5 1 1 3 2 4 1 5 5 2 2 1 3 2 4 1 5 2 1 3 1 1 1 2 1 1 2 1 2 2 2 1 1 3 5 2 1 2 4 2 1 1 1 1 4 7 1 2 1 1 2 2 3 1 1 2 1 1 2 5 2 1 5 2 1 1 1 2 1 2 5 1 1 2 5 2 1 3 1 2 5 2 1 1 3 12 9 3 3 2 1 1 6 1 4 1 4 2 1 1 6 1 4 1 2 2 1 2 4 2 1 1 3 1 7 2 1 2 3 1 1 1 3 5 3 3 1 2 2 1 1 1 3 3 4 1 2 2 1 2 3 1 6 1 1 1 1 1 2 7 1 1 9 1 2 1 3 1 4 3 4 1 4 1 1 4 1 3 1 1 1 2 2 1 3 1 1 2 3 1 2 1 1 2 4 3 2 1 2 2 1 3 2 2 5 1 3 1 2 1 3 1 1 3 3 1 2 1 1 2 4 1 4 3 3 1 2 3 1 1 2 1 1 1 2 1 5 2 1 2 2 1 1 2 3 1 2 3 1 1 2 4 1 1"/>
<path d="M0 3320.9h1000"/>
<path d="M0 3323.6h1000"/>
<path d="M0 3326.4h1000"/>
<path d="M0 3329.1h1000"/>
<path d="M0 3331.8h1000" stroke-dasharray="2 3 3 1 1 1 1 1 2 2 1 3 1 5 1 1 3 1 6 2 1 3 1 1 1 3 1 1 4 3 1 1 1 4 1 2 5 7 2 1 1 2 4 1 2 1 4 3 2 1 2 2 2 1 1 7 2 1 1 1 1 2 1 6 2 1 1 3 1 1 2 1 3 1 6 1 3 2 4 2 1 2 2 7 8 1 2 1 2 2 1 3 2 1 2 1 1 1 6 1 5 1 1 2 1 1 1 2 2 4 2 1 1 3 3 2 1 1 1 2 5 2 3 1 2 1 3 1 2 3 3 1 1 1 1 1 1 2 3 1 4 1 6 1 1 1 2 1 1 5 3 1 1 1 10 2 9 1 4 1 1 1 1 1 3 3 2 1 2 1 1 2 2 1 1 1 4 1 2 1 3 2 1 2 1 3 6 2 1 4 1 2 1 1 1 2 6 1 1 1 1 1 2 1 4 2 1 2 2 1 1 1 2 1 4 4 1 4 3 2 5 2 2 1 2 1 1 2 6 2 4 4 4 2 6 1 2 1 3 1 3 1 2 1 5 1 3 2 2 2 1 1 2 1 3 2 3 1 4 1 1 1 6 1 1 6 5 2 1 1 1 1 2 2 3 1 3 1 1 1 1 4 1 2 1 2 1 2 4 1 2 2 1 2 3 3 4 3 6 1 1 2 1 1 5 1 1 1 1 2 9 5 9 1 2 1 8 2 2 3 10 1 1 1 3 1 1 1 5 2 2 1 1 1 4 3 2 1 5 1 13 1 1 1 2 6 2 2 3 1 3 2 1 1 1 3 3 2 2 1 5 2 3 3 2 4 1 1 4 1 4 1 2 1 2 2 2 2 3 1 4 2 1 1 3 1 3 2 1 2 1 2 3 1 1 2 2 3 5 1 3 1 1 1 3 1 1 2 2 1 3 1 1 1 3 1 1 2 3 1 2 1 1 1 2 1 2 3 2 1 2 2 5 1 5 1 2 2 1 1 1 1 3 5 2 1 3 2 1 1 4 1 3 1 6 2 1 1 3 1 1"/>
<path d="M0 3334.6h1000" stroke-dasharray="0 6 2 1 1 4 1 14 1 23 1 13 1 17 1 10 1 1 2 10 1 2 1 29 1 8 1 1 1 1 2 3 1 2 1 1 1 3 1 11 1 1 1 13 1 6 1 4 1 1 1 5 1 9 1 9 1 1 1 4 1 11 2 2 2 5 1 3 1 5 1 2 1 12 1 3 1 2 1 4 1 15 1 14 1 2 2 2 1 3 1 1 1 2 1 4 1 3 1 4 1 37 1 2 1 7 1 7 2 2 1 12 1 2 1 12 1 6 2 3 2 4 1 3 1 1 1 4 1 2 1 4 4 2 1 1 1 2 1 5 1 10 1 4 1 5 1 8 1 9 1 21 2 2 1 4 1 20 1 19 1 23 2 1 1 6 1 5 1 10 1 2 1 9 1 7 1 17 1 12 1 5 1 18 1 5 1 4 2 6 1 4 1 4 1 16 2 2 1 9 1 19 2 6 1 1 1 9 3 6 1 24 1 4 1 13 1 10 1 4 1 2 1 1 1 4 1 2 2 3 1 4 1 3 1 11 1 5 1 10 1 11 2 8 1"/>
<path d="M0 3337.3h1000" stroke-dasharray="1 5 2 16 1 2 1 1 1 23 1 6 1 13 1 10 1 10 1 2 1 10 1 2 1 34 1 3 1 3 2 6 1 17 1 4 1 10 1 6 1 6 1 5 1 9 1 9 1 1 1 4 1 11 1 3 3 8 1 5 1 2 1 3 1 6 1 1 1 3 1 2 1 20 1 12 1 4 2 6 1 4 1 13 1 37 1 3 1 6 1 11 1 12 1 15 1 4 1 1 1 5 1 4 1 3 1 1 1 4 1 2 1 5 3 13 1 17 1 2 2 18 1 21 1 37 1 11 1 23 4 12 1 23 1 11 1 38 1 4 1 13 1 4 1 7 1 4 1 22 1 2 1 9 1 11 1 2 1 5 1 6 1 1 1 9 3 50 1 10 1 6 1 7 1 2 1 15 1 9 1 5 1 22 2 9"/>
<path d="M0 3340.1h1000" stroke-dasharray="0 7 1 88 1 13 1 101 1 44 1 14 1 8 1 3 1 55 1 6 1 4 1 51 1 3 1 87 1 35 1 130 1 79 1 13 1 17 1 139 1 73 1 9"/>
<path d="M0 3342.8h1000" stroke-dasharray="0 7 1 102 1 174 1 16 1 102 1 3 1 366 1 223"/>
<path d="M0 3351.0h1000" stroke-dasharray="0 379 1 9 1 479 1 43 1 86"/>
<path d="M0 3353.8h1000" stroke-dasharray="0 68 1 1 1 62 1 3 1 96 1 22 1 49 1 4 1 11 1 54 1 9 1 60 1 30 1 33 1 36 1 137 1 168 1 9 1 43 1 86"/>
<path d="M0 3356.5h1000" stroke-dasharray="0 20 1 47 1 1 1 62 1 3 1 62 1 11 1 3 1 17 1 22 1 54 1 11 1 5 1 1 1 30 1 15 1 14 1 3 1 24 1 11 1 6 1 7 1 64 1 36 1 16 1 18 1 8 1 4 1 15 1 12 1 18 1 39 1 6 1 13 1 57 1 35 1 20 1 18 1 13 1 9 1 16 1 51 1 61"/>
<path d="M0 3359.3h1000" stroke-dasharray="0 20 1 47 1 1 1 141 1 3 1 17 1 22 1 13 1 52 1 5 1 7 1 20 1 63 1 11 1 14 1 36 1 109 1 92 1 78 1 35 1 39 1 23 1 16 1 51 1 61"/>
<path d="M0 3362.0h1000" stroke-dasharray="0 216 1 174 1 31 1 63 1 381 1 16 1 113"/>
<path d="M0 3364.8h1000" stroke-dasharray="0 212 1 3 1 78 1 95 1 31 1 63 1 111 1 174 1 111 1 113"/>
<path d="M0 3367.5h1000" stroke-dasharray="0 8 1 11 1 43 1 28 1 12 1 28 1 20 1 6 1 3 1 13 1 10 2 2 1 13 1 1 2 2 1 13 2 2 1 8 1 1 1 17 1 19 1 11 1 14 1 2 1 1 1 3 1 11 1 3 1 2 1 52 1 25 1 5 1 5 1 2 1 2 1 7 1 6 1 17 1 4 2 3 1 8 2 1 1 1 1 3 1 3 1 6 1 5 1 15 1 9 1 4 1 2 2 14 1 13 1 16 1 3 2 14 1 10 1 16 1 14 1 13 1 31 1 1 1 3 1 3 1 15 1 13 1 25 1 4 1 10 1 8 1 20 1 26 1 10 1 1 1 3 1 2 1 23 1 14 1 35 1 39 1 20 1 1"/>
<path d="M0 3370.2h1000" stroke-dasharray="2 2 1 3 1 1 1 1 1 1 1 1 1 3 2 2 2 7 1 2 2 3 1 5 1 5 1 6 1 2 2 1 2 4 2 3 1 10 1 1 1 1 2 1 1 3 1 2 1 2 2 3 1 4 1 3 1 2 3 5 1 4 1 2 2 1 4 2 2 6 2 5 2 1 3 11 1 1 4 3 1 3 2 1 2 2 1 2 5 1 3 1 2 1 3 4 2 2 1 3 2 1 2 8 1 1 2 1 1 1 1 4 1 3 1 3 1 3 2 1 1 2 2 3 1 1 1 1 3 2 1 3 1 1 1 1 2 2 2 1 1 6 3 1 3 3 1 9 1 1 1 3 2 1 2 2 1 1 1 1 2 1 1 1 2 2 1 2 2 5 2 2 1 1 2 1 1 1 2 2 1 1 1 7 2 2 1 7 1 11 1 2 1 2 1 1 3 4 1 2 2 1 2 3 1 2 1 2 1 3 2 2 1 1 2 10 1 2 1 1 2 1 1 1 1 4 1 3 4 1 1 1 1 1 2 1 2 6 2 1 1 1 2 5 1 7 1 1 3 2 2 1 1 1 1 2 1 1 5 2 1 3 2 4 3 9 1 3 1 5 1 5 1 4 6 2 1 1 2 8 1 2 1 7 1 3 1 2 2 6 1 1 1 1 1 1 2 1 2 6 2 2 1 2 1 6 1 1 1 4 1 2 1 8 2 9 1 1 1 1 1 1 1 1 1 3 2 3 1 1 3 3 4 1 1 10 3 3 3 1 1 3 1 9 1 1 4 1 2 7 1 1 2 2 3 3 2 3 1 6 2 6 2 2 1 3 1 1 1 1 2 1 1 4 2 3 1 2 1 1 1 5 1 2 1 1 1 3 2 1 2 6 1 5 1 2 1 1 1 4 1 3 2 1 2 2 1 3 1 1 2 3 1 14 1 1 1 2 2 3 1 2 2 18 2 12 1 1 2 3 2 2 1 1 1 7 4 2 2 1"/>
<path d="M0 3373.0h1000" stroke-dasharray="9 1 3 1 4 2 3 1 4 1 2 1 3 1 2 3 2 2 3 1 3 1 1 1 3 1 3 1 2 1 12 1 2 1 1 1 2 1 2 1 17 2 7 2 7 1 1 1 5 2 11 1 2 1 4 1 4 1 1 1 2 1 4 2 7 1 7 2 1 2 3 1 3 1 21 2 2 1 4 1 2 1 2 1 1 1 2 3 6 1 2 2 2 1 9 1 8 1 5 1 6 3 1 1 1 1 2 1 3 1 2 2 1 1 9 2 1 1 1 1 2 1 1 1 2 1 1 2 6 2 11 2 2 1 3 3 11 1 2 2 3 2 10 3 5 3 1 2 4 1 2 1 1 2 5 2 3 1 3 1 9 2 12 3 1 1 4 1 1 1 5 1 15 1 9 5 5 1 6 1 2 1 1 2 3 1 3 2 7 1 7 2 1 2 22 1 1 2 1 1 3 1 6 1 7 2 5 1 1 1 1 3 1 1 2 1 1 2 2 1 1 2 2 2 4 4 12 2 1 2 2 2 5 5 4 2 2 1 4 2 8 1 2 1 2 1 5 1 3 1 1 1 3 1 6 2 5 1 3 3 1 1 6 3 3 1 1 3 1 2 2 1 3 1 9 1 1 1 3 1 4 1 6 1 9 1 1 1 5 3 6 1 2 1 7 2 4 2 19 1 5 2 5 3 3 2 5 2 1 1 1 1 8 1 8 1 1 4 3 1 1 1 2 2 7 2 2 2 2 2 9 1 5 1 2 1 2 1 3 2 1 1 2 1 3 1 3 2 4 1 2 1 6 1 3 1"/>
<path d="M0 3375.7h1000" stroke-dasharray="35 1 2 1 4 2 13 2 2 1 15 1 4 1 2 1 29 1 10 1 6 1 11 1 7 1 14 1 16 2 2 1 3 1 25 2 2 1 4 1 11 1 10 1 22 1 12 1 12 1 2 1 12 2 1 1 4 1 7 1 7 1 20 2 19 2 18 3 7 1 4 1 6 1 8 1 25 1 14 1 15 1 10 1 8 1 6 1 4 2 51 1 1 2 5 1 21 1 4 2 7 1 16 2 13 1 1 2 2 2 5 1 1 3 4 2 2 1 4 1 9 1 11 1 16 1 10 1 18 2 6 1 3 1 11 1 3 1 23 1 5 1 11 1 13 1 26 2 11 2 5 1 2 1 1 1 17 1 1 1 1 1 4 1 1 1 2 1 6 1 6 1 3 1 15 1 2 1 6 2 4 1 16 1 6 1 4"/>
<path d="M0 3378.5h1000"/>
<path d="M0 3381.2h1000"/>
<path d="M0 3383.9h1000"/>
<path d="M0 3386.7h1000"/>
<path d="M0 3389.4h1000" stroke-dasharray="114 1 171 1 125 1 111 1 475"/>
<path d="M0 3392.2h1000" stroke-dasharray="1 1 1 1 1 1 1 1 1 2 2 2 2 2 1 1 1 7 1 1 1 5 1 2 1 10 2 5 1 16 1 4 2 7 1 1 1 4 2 10 1 2 1 1 1 6 1 12 1 4 1 3 1 1 1 4 1 2 1 6 1 1 2 3 1 8 2 1 2 5 1 4 1 1 2 1 1 2 1 13 2 2 1 1 1 4 1 2 1 11 1 1 1 2 1 7 1 1 1 1 1 2 1 1 2 8 1 2 2 1 1 1 1 19 1 2 1 5 1 1 1 2 1 2 1 2 1 1 1 3 1 8 2 1 1 7 2 8 1 7 2 1 1 2 2 2 2 6 1 2 1 5 1 1 1 2 1 2 1 4 1 19 2 2 2 2 1 1 1 1 1 2 2 2 1 1 1 1 1 2 2 2 1 3 1 2 1 1 1 4 2 2 3 6 1 1 1 1 1 1 1 4 1 6 1 3 1 1 1 1 1 1 4 14 1 1 1 6 1 2 2 3 1 3 1 8 2 3 1 1 1 10 1 5 1 6 1 2 2 1 1 6 1 5 1 4 1 4 1 4 1 6 1 1 1 6 1 3 1 9 3 1 1 3 1 11 1 1 1 2 1 4 1 9 2 6 1 1 1 4 1 4 2 5 1 1 1 2 1 4 2 1 1 3 1 2 1 2 1 1 2 3 1 11 1 1 1 2 2 5 1 1 1 3 1 1 2 12 1 1 1 3 1 2 2 1 1 9 2 3 1 2 2 6 1 4 1 4 1 2 1 6 1 4 1 2 1 2 1 4 1 2 2 6 1 2 2 2 2 4 1 6 2 2 1 4 3 11 1 5 1 1 1 5 2 2 1 4 1 2 1 4 1 1 1 1 3 1 3 4 1 1 2 2 1 1 4 8 1 2 1 3 1 1 2 2"/>
<path d="M0 3394.9h1000" stroke-dasharray="0 6 1 1 1 7 1 2 1 1 1 7 1 1 1 5 1 2 1 3 1 5 1 1 1 6 1 15 1 5 1 7 1 1 1 4 2 15 1 6 1 12 1 1 1 2 1 3 1 1 1 14 1 1 2 3 1 1 1 6 2 1 1 5 3 5 2 4 1 17 1 1 1 7 1 11 1 1 1 2 1 9 1 1 1 4 1 1 1 5 1 9 1 22 1 7 1 5 1 8 1 3 1 5 1 1 1 7 2 8 1 8 1 5 1 13 1 7 1 1 1 3 1 24 2 3 1 2 1 1 1 4 2 3 2 4 2 2 1 3 1 2 1 1 1 4 1 3 2 9 1 3 1 4 1 6 1 5 1 1 1 1 1 1 2 16 1 9 1 4 1 12 2 5 1 10 1 5 1 9 2 19 1 4 1 2 1 1 1 8 1 6 1 13 2 6 1 3 1 7 1 20 1 6 1 1 1 9 2 7 1 2 1 5 1 1 1 3 1 5 1 6 1 11 1 4 1 6 1 7 1 3 1 9 1 1 1 6 1 2 1 3 1 5 2 6 2 11 1 4 1 5 1 3 1 4 1 2 1 2 1 4 1 2 2 6 1 2 2 8 1 6 2 2 1 4 3 14 1 11 1 7 1 7 1 1 1 1 1 1 1 2 1 5 1 2 1 2 1 1 4 11 1 3 1 2 1 2"/>
<path d="M0 3397.7h1000" stroke-dasharray="0 8 1 10 1 9 1 1 1 8 1 3 1 5 1 8 1 21 1 14 2 21 2 12 1 4 1 3 1 19 1 3 1 1 1 6 1 8 1 1 1 6 1 24 1 21 1 2 1 9 1 8 1 5 1 9 1 30 1 18 1 15 1 24 1 21 1 1 1 12 1 15 1 7 1 17 1 17 1 3 1 10 1 3 2 16 1 5 2 12 1 13 1 4 1 12 1 23 1 30 1 4 1 2 1 3 1 6 2 5 1 13 2 10 1 48 1 10 1 5 1 18 1 11 1 11 1 7 1 3 1 18 1 12 1 8 1 11 1 10 1 11 1 7 1 2 2 3 1 2 1 3 1 8 1 6 2 2 1 33 1 5 1 9 1 1 1 3 1 11 1 6 2 21"/>
<path d="M0 3400.4h1000" stroke-dasharray="1 7 1 1 1 2 1 4 2 3 1 5 1 1 1 3 1 1 1 1 2 3 1 4 2 8 2 1 1 10 1 7 1 4 1 2 1 6 2 15 1 2 1 2 2 12 1 1 2 1 1 3 1 1 1 9 1 3 2 2 1 1 1 1 1 1 1 6 2 7 1 1 1 6 1 11 1 9 1 2 1 2 1 2 1 15 1 2 1 3 1 1 1 3 1 5 1 2 1 5 1 9 1 23 3 4 1 5 1 8 1 1 3 5 3 1 1 2 1 2 1 3 1 4 1 4 1 4 1 5 1 18 4 1 1 8 1 3 1 3 2 3 1 7 1 5 2 11 1 5 1 1 2 18 2 1 1 5 1 1 2 2 2 1 1 6 1 1 1 5 1 5 3 11 1 7 2 5 1 1 1 7 1 6 2 2 1 1 2 16 1 6 1 13 1 9 1 4 1 2 1 1 1 1 1 2 1 3 2 5 1 13 3 9 1 1 1 7 1 7 2 20 1 8 1 10 1 1 1 3 1 18 1 4 1 6 1 4 1 5 2 4 1 2 1 2 2 11 1 6 1 2 1 3 1 2 1 2 1 2 2 3 2 11 2 4 1 4 2 1 1 8 1 3 1 3 1 2 2 3 1 2 1 1 3 1 1 6 1 6 2 2 1 6 1 6 1 7 1 5 1 1 1 3 1 5 1 5 2 4 1 3 1 7 1 3 1 6 2 1 1 13 1 5"/>
<path d="M0 3403.1h1000" stroke-dasharray="1 5 1 1 1 1 1 1 2 4 2 3 1 2 1 2 1 1 2 1 7 1 1 1 1 4 2 8 4 3 1 1 1 2 1 1 1 4 1 1 2 4 2 1 1 4 4 7 1 4 2 1 2 1 1 1 3 2 1 2 1 3 1 1 5 4 2 1 1 1 9 2 3 2 1 1 1 1 1 1 1 3 1 2 2 5 1 1 3 6 1 2 1 8 1 6 1 2 2 1 1 2 1 2 1 3 1 11 1 2 1 1 3 1 1 2 2 1 1 3 1 2 1 1 1 3 1 1 1 1 1 2 1 1 2 2 2 3 1 4 1 1 1 4 1 3 4 2 2 1 1 3 2 2 2 2 6 1 1 3 3 1 2 1 1 2 1 3 1 4 1 2 1 1 1 4 1 2 1 1 3 2 3 2 1 9 4 1 1 4 1 3 2 1 2 2 3 3 1 1 2 1 1 2 1 1 1 3 2 8 1 2 1 5 4 1 2 1 1 6 1 6 2 1 1 4 2 1 2 2 2 1 1 1 1 4 1 1 2 2 3 4 5 1 1 8 3 3 4 5 1 1 1 2 2 2 5 3 5 1 2 2 1 1 2 2 1 3 1 1 3 1 1 1 2 1 1 3 1 7 1 1 1 1 1 2 1 1 1 2 1 3 3 1 1 1 1 1 1 5 3 5 1 2 2 1 1 5 1 1 3 2 2 1 1 1 1 1 3 7 3 4 3 1 2 4 1 3 1 3 2 3 2 5 1 1 1 1 1 6 1 1 1 1 6 1 1 1 3 1 1 1 1 3 1 3 1 4 1 3 2 1 1 1 4 1 2 2 2 4 1 2 1 2 2 8 1 2 1 2 1 1 1 1 2 1 1 3 1 1 1 2 2 2 3 2 3 10 2 4 2 2 3 1 1 3 1 2 1 1 1 1 1 1 2 2 2 1 1 1 1 2 1 2 1 1 2 2 3 3 2 4 1 2 1 2 1 1 1 4 3 1 2 1 1 4 1 2 1 1 1 3 1 1 2 2 1 4 3 4 3 3 1 1 2 1 1 1 1 2 1 1 1 3 2 5 2 1 1 8 3 2 2 4"/>
<path d="M0 3405.9h1000" stroke-dasharray="9 1 4 1 2 1 2 2 6 1 1 1 2 1 9 1 2 1 8 1 1 2 6 1 1 1 4 1 2 2 5 1 5 1 15 1 12 1 3 2 8 1 7 1 5 1 14 2 1 1 5 3 5 1 5 1 5 1 1 2 2 1 1 1 5 2 3 1 1 1 9 1 8 1 2 1 6 1 2 1 8 1 2 1 2 1 3 1 3 3 8 1 2 2 2 3 8 1 2 1 14 2 3 1 11 1 1 1 8 1 1 2 10 2 4 1 11 1 11 1 1 1 7 1 6 1 10 2 5 1 4 1 1 1 11 1 1 2 4 2 4 1 2 1 1 1 1 1 1 1 4 1 1 1 3 1 3 1 6 1 8 3 5 1 14 1 19 1 1 1 3 1 28 1 3 1 7 1 5 1 2 1 7 1 1 1 1 1 4 2 1 1 1 1 7 1 5 1 6 1 2 1 3 1 3 1 3 1 4 1 4 1 6 1 1 1 16 3 8 1 2 1 5 2 5 1 5 2 10 1 7 1 2 1 6 1 28 2 5 2 1 1 5 1 12 3 8 1 9 1 4 2 10 1 8 1 2 1 9 1 2 1 13 1 11 1 5 1 1 1 3 1 7 1 1 1 5 1 11 1 3 2 5 1 5 1 7 1 2 1 4 1 3 1 9 1 2 1 7 1 6"/>
<path d="M0 3408.6h1000"/>
<path d="M0 3411.4h1000"/>
<path d="M0 3414.1h1000"/>
<path d="M0 3416.8h1000" stroke-dasharray="1 1 16 1 29 1 25 1 16 1 14 1 24 1 13 1 23 1 6 1 28 1 3 1 10 1 19 1 26 1 3 1 5 1 56 1 25 2 42 1 1 2 7 1 38 1 4 1 36 1 14 1 25 1 3 1 6 1 33 1 26 1 15 1 16 1 3 1 22 1 1 1 8 1 40 1 32 1 18 1 10 1 2 1 4 1 11 1 7 1 43 1 56 1 8 1 42 1 34"/>
<path d="M0 3419.6h1000" stroke-dasharray="1 3 4 2 1 3 2 3 1 1 1 1 2 1 2 2 2 7 1 1 4 2 1 4 2 2 2 2 1 1 1 3 1 1 3 1 1 2 1 1 2 1 4 1 2 1 2 2 4 1 1 2 2 3 1 2 3 1 1 1 1 1 2 1 4 3 1 1 2 2 6 2 4 2 1 1 2 1 2 2 3 3 1 1 2 1 3 2 4 2 5 2 1 1 1 1 3 5 2 1 2 1 3 2 2 2 1 2 2 1 1 1 1 1 2 1 1 1 1 1 1 1 2 1 2 1 1 1 1 2 8 1 5 4 8 2 1 2 1 1 1 1 1 3 3 2 6 3 2 3 1 1 2 1 2 1 6 1 4 3 5 1 1 2 2 5 3 1 1 2 2 1 4 1 1 4 3 2 1 4 10 3 1 1 1 1 1 1 2 1 1 2 1 2 1 1 2 2 2 5 4 4 3 1 1 3 3 2 4 2 4 1 4 1 2 1 1 1 3 3 2 2 1 2 1 5 1 1 1 1 4 2 1 2 1 2 2 1 4 3 1 2 1 4 3 1 1 6 1 2 1 1 2 1 2 2 1 1 3 1 3 3 1 3 2 2 1 3 1 1 2 1 3 1 1 3 1 1 3 1 2 5 1 1 2 1 1 3 1 2 3 1 1 1 2 3 1 1 4 3 1 2 5 3 1 1 4 1 1 4 1 1 2 1 4 3 2 3 2 2 1 1 2 1 1 4 7 3 8 3 2 1 3 1 2 1 1 4 3 1 2 1 1 1 1 1 2 1 2 1 1 1 1 1 2 1 1 2 7 2 3 1 3 2 2 1 4 2 2 3 4 2 2 1 1 4 1 3 3 1 1 1 1 1 1 1 1 3 2 4 3 1 1 2 1 6 2 2 1 4 1 5 3 1 1 1 1 2 1 1 1 2 2 1 4 3 5 1 1 3 2 1 1 2 1 2 3 2 6 1 2 1 1 2 4 1 1 2 1 3 1 2 2 2 4 1 2 3 1 1 4 1 1 1 1 2 3 1 3 1 1 5 2 2 2 2 1 2 1 2 1 1 2 2 1 1 1 5 2 2 4 2 5 1 1 1 1 1 1 1 2 2 3 1 2"/>
<path d="M0 3422.3h1000" stroke-dasharray="0 7 1 7 1 14 1 12 1 9 1 28 2 1 1 14 1 20 1 7 1 3 1 2 1 3 1 7 1 14 1 2 3 9 1 1 1 3 1 11 1 2 2 3 1 9 2 1 1 1 1 2 1 7 1 2 1 4 1 6 1 4 1 2 1 6 1 15 1 4 2 5 1 6 1 6 1 2 1 2 1 13 2 15 1 1 1 16 1 3 1 7 2 1 1 13 1 13 2 5 2 1 1 4 2 8 1 21 1 22 1 2 2 31 1 9 1 10 2 3 1 8 2 12 1 8 1 12 2 9 1 12 1 11 1 18 1 2 1 2 1 17 1 4 1 2 1 8 2 3 1 7 1 11 2 1 2 8 1 4 1 1 1 7 1 1 1 4 1 1 1 9 2 10 1 1 1 2 1 26 1 4 2 2 1 33 1 4 1 20 1 4 1 4 1 7 1 23 1 14 1 11 1 3 1 8 1 6 1 2 1 8 1 11 2 10 1 5 2 8"/>
<path d="M0 3425.1h1000" stroke-dasharray="0 15 1 5 1 8 1 12 1 34 1 4 1 9 2 19 1 18 1 2 1 11 1 18 1 12 1 15 1 2 2 3 1 9 2 1 1 1 1 13 1 4 1 3 1 2 1 3 2 2 1 6 2 14 1 8 1 2 1 6 1 6 1 2 1 16 2 17 1 7 1 8 1 3 1 8 1 26 1 2 2 6 1 1 1 4 2 8 1 9 1 4 1 3 1 5 2 21 2 19 1 11 1 25 1 8 2 11 2 6 1 1 1 12 2 9 2 11 1 1 1 5 1 3 1 21 1 2 1 15 1 1 1 4 1 2 1 2 1 6 1 3 1 7 1 11 2 1 2 8 1 4 1 1 1 7 1 1 1 5 3 8 2 15 1 18 1 12 2 2 2 32 1 4 1 11 1 6 2 18 1 23 1 19 1 10 1 8 1 3 1 26 1 11 1 5 2 6 1 1"/>
<path d="M0 3427.8h1000" stroke-dasharray="0 15 1 4 3 7 1 12 2 33 1 14 1 17 1 1 2 2 1 9 1 4 2 1 2 11 1 2 1 28 2 10 1 6 2 3 1 3 1 5 2 1 1 10 1 9 1 3 1 2 1 3 2 2 1 4 1 1 2 13 2 8 1 2 2 5 1 6 1 19 2 20 1 4 1 8 1 12 1 6 2 18 1 2 2 3 1 2 1 1 1 1 1 2 2 7 2 4 3 2 1 4 1 3 1 4 4 12 1 7 2 3 1 15 1 4 1 5 1 4 1 7 1 1 1 11 1 8 2 11 2 8 1 1 1 10 2 9 2 11 3 5 1 3 1 9 1 11 1 2 1 3 3 2 1 6 1 1 1 4 1 4 2 6 1 3 1 5 1 1 1 11 2 1 2 2 1 2 1 2 1 4 1 1 1 5 1 4 1 4 1 1 1 8 2 15 1 18 1 10 3 1 1 1 2 20 1 11 2 2 1 12 1 6 2 13 1 6 1 1 1 1 1 17 1 8 1 10 1 5 1 3 2 12 1 26 1 1 1 15 2 6 1 1"/>
<path d="M0 3430.6h1000" stroke-dasharray="0 5 1 1 1 6 2 4 3 5 1 1 2 6 1 4 2 3 1 1 1 9 1 2 1 4 2 5 1 2 1 1 1 6 2 1 1 2 1 8 1 8 4 2 2 1 1 6 1 4 2 1 2 7 1 1 1 1 1 2 2 20 1 4 2 1 1 3 1 3 1 2 2 5 1 3 3 2 2 4 4 6 1 1 1 1 1 7 1 5 1 1 2 3 2 2 1 3 2 1 2 2 1 2 1 1 1 5 2 8 1 1 3 5 1 6 1 1 1 8 1 2 2 4 2 1 1 18 1 4 1 7 2 5 1 1 1 4 1 4 5 1 1 5 2 2 1 3 1 1 1 2 7 1 3 1 1 2 2 2 1 1 1 2 2 4 3 1 2 2 1 1 1 1 1 1 1 4 4 4 1 4 1 2 1 3 1 3 1 2 1 1 1 6 1 1 1 6 1 4 1 5 1 4 2 6 3 11 1 3 1 5 1 9 4 8 1 1 1 9 3 1 1 4 2 1 2 3 1 7 3 2 1 2 1 3 6 1 1 2 1 11 4 3 3 2 1 6 1 1 1 4 1 2 1 1 2 5 3 2 1 5 1 1 1 3 2 5 3 1 2 2 1 2 1 1 2 3 2 1 1 5 1 4 2 1 1 1 3 1 4 3 2 4 2 6 1 2 1 4 1 7 1 5 1 6 2 2 3 1 1 1 2 3 2 4 1 2 1 5 3 11 2 2 1 6 2 4 1 6 2 2 1 1 1 6 1 1 1 6 1 1 6 1 1 1 1 10 1 8 2 8 2 5 1 2 5 10 1 2 3 6 1 4 1 9 1 1 2 3 1 1 1 4 1 2 3 1 1 1 1 2 1 1"/>
<path d="M0 3433.3h1000" stroke-dasharray="0 3 1 1 1 1 1 3 2 1 1 5 3 5 4 6 1 4 2 2 2 1 2 8 1 2 2 3 2 3 1 1 2 1 1 1 1 6 2 1 2 1 1 2 2 4 2 3 1 3 4 2 2 1 1 6 1 4 2 1 4 1 3 1 1 1 1 1 2 1 3 1 1 7 1 9 1 3 3 1 1 2 3 2 1 2 3 3 2 3 4 1 2 3 5 4 1 1 3 1 1 5 1 1 1 3 1 1 1 1 2 3 2 1 1 1 1 1 3 1 3 1 1 2 1 1 2 2 1 1 2 6 3 1 3 2 1 2 1 4 5 1 1 2 3 1 1 2 2 4 2 1 1 2 4 6 2 3 2 4 1 4 2 1 2 4 5 2 2 4 5 1 1 5 2 2 3 1 1 1 1 2 7 1 3 1 1 2 5 1 1 1 3 2 1 1 3 1 2 2 1 1 1 1 1 1 1 1 1 2 4 4 1 2 3 2 2 1 2 3 1 2 1 8 1 1 2 1 1 2 3 3 1 1 1 3 1 4 2 1 3 2 3 1 1 5 1 1 1 1 1 3 1 5 1 9 4 1 1 1 1 4 1 4 2 5 3 1 1 4 2 1 2 3 2 6 3 2 1 1 2 3 6 1 1 2 1 2 1 2 2 2 7 2 3 2 1 6 1 1 1 1 1 2 1 2 1 1 3 3 4 2 2 3 2 1 1 1 1 1 2 1 1 3 3 1 2 1 3 1 1 1 2 1 1 1 6 3 1 2 1 1 2 1 5 1 4 3 2 3 5 1 7 3 2 4 2 1 1 4 2 3 2 1 7 1 1 1 2 3 2 4 1 2 1 5 3 5 1 5 2 2 2 4 3 3 2 1 1 1 1 2 3 1 1 1 1 2 1 3 1 1 1 6 8 1 3 4 1 3 1 1 1 5 1 2 2 2 1 1 1 3 2 2 1 2 2 1 6 1 1 7 2 1 3 4 1 1 3 2 1 5 1 3 4 3 1 1 1 4 2 1 3 1 3 2 1 1"/>
<path d="M0 3441.5h1000" stroke-dasharray="0 21 1 284 1 688 1 4"/>
<path d="M0 3444.3h1000" stroke-dasharray="0 5 1 1 1 13 1 12 1 4 1 24 1 6 1 31 1 12 1 9 1 14 1 26 1 27 1 7 1 3 2 4 1 11 1 9 1 5 1 25 1 8 1 11 1 11 2 3 1 8 1 6 1 4 1 35 1 1 1 28 1 8 1 37 1 46 1 1 1 14 1 7 2 31 1 11 1 2 1 7 1 8 1 8 1 39 1 29 1 1 1 3 1 24 1 31 1 1 1 14 1 9 1 21 2 8 1 53 1 1 2 9 2 1 1 7 1 8 1 18 1 5 1 29 2 7 1 7 1 1 1 15 1 38 1 4"/>
<path d="M0 3447.0h1000" stroke-dasharray="0 1 1 3 3 3 1 2 1 2 1 3 2 11 1 3 3 5 1 10 1 6 1 6 1 3 1 5 1 1 1 6 1 6 1 5 1 8 2 1 2 4 2 1 1 1 1 5 1 8 3 1 1 6 1 4 1 5 2 3 2 11 1 11 1 1 2 3 1 3 2 1 2 4 2 4 1 6 1 7 1 1 1 2 2 1 1 25 2 5 1 1 2 2 1 4 2 1 2 3 1 2 1 3 2 3 1 8 1 3 1 1 2 3 2 2 2 6 1 4 1 1 1 13 1 3 1 1 1 2 1 4 1 1 1 1 1 1 1 5 1 1 1 6 1 5 1 2 1 2 1 12 2 5 1 7 2 5 1 3 1 3 1 6 1 5 1 6 1 18 1 1 1 14 1 2 1 4 2 5 1 2 1 10 1 3 1 7 1 6 2 3 1 2 1 1 1 5 1 3 1 4 1 1 1 1 2 1 1 1 1 3 2 1 1 3 1 4 1 3 2 3 2 2 1 10 1 17 1 11 1 5 1 13 1 6 1 3 1 15 1 4 1 3 2 4 2 1 1 14 1 1 1 5 1 1 1 3 1 14 5 8 1 16 1 6 1 4 1 9 3 10 1 1 4 5 1 2 3 1 1 1 1 1 1 3 1 8 1 1 1 3 1 2 1 9 1 4 2 1 1 4 1 10 2 6 1 3 2 7 2 6 3 4 1 7 1 2 1 1 1 11 1 2 1 1 2 6 2 1 1 2 1 5 1 3 1"/>
<path d="M0 3449.8h1000" stroke-dasharray="0 1 1 3 3 3 1 2 1 2 1 3 1 11 2 2 4 5 1 1 1 8 1 6 1 1 1 4 1 3 1 7 1 6 1 4 1 7 1 9 1 1 2 4 2 1 1 1 1 5 1 8 1 1 1 1 1 6 1 4 1 1 1 3 2 16 1 11 1 1 2 3 1 3 1 2 2 4 2 5 1 4 2 9 1 1 1 3 1 19 1 5 1 3 1 2 1 1 2 2 1 4 1 2 2 3 1 6 2 2 3 7 1 3 1 1 2 4 1 2 2 6 1 4 1 1 1 13 1 2 2 1 2 1 2 3 1 1 1 1 1 1 1 4 2 1 1 6 1 5 1 2 1 2 1 12 2 5 1 8 1 5 1 3 1 2 1 6 2 5 1 4 1 1 1 18 1 16 1 7 2 3 1 1 1 2 1 10 1 3 1 7 1 1 1 4 2 3 1 2 1 1 1 5 1 3 1 6 4 1 1 1 1 3 2 1 2 2 1 4 1 2 3 2 3 2 1 28 1 14 1 2 1 1 2 2 1 5 1 1 1 6 1 3 1 13 1 1 1 6 1 1 2 4 2 24 1 1 1 3 1 10 1 3 2 1 2 8 1 23 1 14 3 10 1 1 3 9 2 4 3 3 1 9 2 6 1 4 1 8 3 1 1 15 2 4 1 1 1 3 2 14 4 4 2 6 2 2 2 11 1 2 1 1 2 6 1 2 1 3 1 8 1"/>
<path d="M0 3452.5h1000" stroke-dasharray="0 1 2 2 3 3 1 2 1 2 1 4 1 2 2 5 3 2 2 1 1 7 1 12 1 2 1 1 1 4 1 3 1 7 1 5 2 4 1 7 1 11 1 2 1 1 3 1 1 1 1 3 1 10 1 1 1 1 1 6 1 1 1 2 1 1 1 3 2 10 2 4 1 2 1 8 1 1 1 4 1 2 1 1 1 1 2 4 1 6 1 4 2 11 1 23 1 5 1 3 1 2 1 1 2 2 1 4 1 1 4 2 1 6 2 2 3 7 1 3 1 1 2 4 1 3 2 5 1 4 1 1 1 8 1 4 1 1 3 1 2 1 2 3 1 1 1 1 1 1 1 4 2 1 1 6 1 5 1 2 1 3 1 5 1 5 2 5 1 8 1 1 1 3 1 3 1 2 1 1 1 4 2 5 1 4 1 1 1 18 1 14 1 1 1 5 1 1 2 1 1 1 1 1 1 2 1 10 1 10 2 1 1 4 2 6 1 1 1 5 2 2 1 3 1 3 3 1 1 1 1 2 6 2 2 3 1 2 3 2 1 4 1 28 1 1 1 12 4 1 2 1 3 2 1 1 1 1 2 5 1 3 1 2 1 9 2 1 1 6 1 2 1 4 2 10 1 8 1 4 1 1 1 3 1 6 1 2 2 2 2 3 1 6 5 21 1 1 1 8 1 1 1 2 1 14 2 9 2 1 1 2 3 2 2 3 2 4 2 6 2 2 3 6 2 2 1 16 2 1 1 2 1 1 1 3 1 15 5 3 2 10 2 6 1 7 1 1 1 7 1 2 1 3 1 3 1 4 1"/>
<path d="M0 3455.2h1000" stroke-dasharray="0 2 1 3 2 3 1 2 1 2 1 2 1 4 2 5 3 2 2 1 1 7 1 12 1 2 1 1 1 4 1 11 1 5 3 3 1 5 1 13 1 2 1 1 3 3 1 3 1 2 1 11 1 4 1 1 1 1 1 2 1 1 1 3 1 11 3 3 1 2 1 4 1 3 1 1 1 3 2 2 1 1 1 1 2 7 2 2 2 3 2 11 1 19 1 3 1 5 1 1 1 1 1 2 1 2 1 2 1 1 1 4 4 2 1 6 1 3 1 9 1 3 1 11 2 5 1 4 3 8 1 4 1 2 2 1 5 3 1 1 1 1 1 1 1 4 2 1 2 11 1 4 1 1 1 4 2 3 1 1 1 4 1 1 1 4 1 3 1 1 1 3 1 3 1 2 1 1 1 4 2 5 1 4 1 1 1 1 1 1 1 14 1 4 1 6 1 2 1 1 2 4 1 1 2 1 1 1 1 1 1 2 1 10 1 9 3 1 2 3 2 5 1 2 1 5 2 2 1 3 1 4 2 3 1 2 5 3 3 2 1 2 3 1 2 7 1 25 1 1 1 7 1 4 4 2 1 1 3 2 1 1 1 1 2 2 1 2 1 6 1 4 1 1 1 2 2 1 1 6 1 2 1 4 2 2 1 7 1 6 1 1 1 4 1 5 1 6 1 2 2 2 2 1 1 7 6 13 1 5 1 3 1 8 1 1 1 2 1 14 2 9 1 2 1 2 3 2 2 3 2 4 2 6 2 2 1 1 1 6 2 2 2 15 2 1 1 2 1 2 1 2 1 1 1 1 1 8 1 4 3 1 1 1 3 9 2 3 1 2 1 3 1 2 2 1 1 7 1 2 1 4 2 1 1 4 1"/>
<path d="M0 3458.0h1000" stroke-dasharray="1 1 2 3 1 1 1 1 1 2 1 1 3 1 1 4 3 3 4 2 2 1 1 3 1 3 2 11 1 2 1 1 1 4 1 1 1 15 3 3 2 4 1 2 2 9 1 2 1 1 3 3 1 3 1 2 1 5 2 4 1 3 2 1 1 1 1 1 2 1 1 3 1 1 1 6 1 2 3 2 2 7 1 3 1 1 1 3 2 2 1 1 1 1 2 7 2 2 2 2 3 5 1 5 1 9 1 6 1 2 1 1 1 1 1 1 1 3 3 1 2 1 1 2 1 2 1 1 2 3 5 1 1 1 1 1 2 1 1 3 1 8 1 2 1 1 1 3 1 7 3 4 2 3 3 3 1 2 1 1 1 2 3 3 1 1 5 3 1 1 1 1 1 1 2 3 2 1 2 9 4 3 1 1 1 2 1 1 2 3 1 1 1 3 2 1 1 2 1 1 1 3 3 3 1 2 2 2 1 1 2 3 1 5 2 1 4 1 3 1 1 8 1 4 2 4 1 6 1 1 5 4 1 2 1 1 3 1 1 2 1 10 1 2 1 1 2 3 3 1 2 3 3 4 1 2 1 4 3 2 1 3 1 1 1 2 2 2 2 2 5 3 3 2 1 1 4 1 2 6 2 7 1 2 2 4 3 6 1 1 1 4 1 2 1 3 5 2 1 1 3 2 1 1 1 1 2 2 1 2 1 2 1 2 3 3 1 1 1 2 1 1 1 4 1 2 1 2 1 4 2 2 1 1 2 4 1 6 3 1 1 2 1 4 2 5 2 2 2 3 1 1 1 3 3 1 5 8 1 2 1 2 2 4 1 3 1 8 1 1 1 2 2 5 1 1 1 3 1 1 3 1 1 1 1 7 1 2 3 2 2 3 2 4 2 6 2 2 1 1 1 2 1 3 2 2 3 1 1 10 1 1 2 1 1 2 1 2 1 4 1 1 1 4 1 3 1 4 3 1 5 1 1 1 1 5 2 3 1 2 1 3 1 2 4 2 4 1 1 2 2 3 2 1 1 3 2"/>
<path d="M0 3460.7h1000" stroke-dasharray="15 1 12 3 8 1 1 1 3 1 5 2 16 1 4 1 1 1 4 2 10 1 5 1 6 1 5 1 3 1 18 1 34 1 3 1 4 1 16 1 1 1 5 1 17 2 3 2 25 1 1 2 3 1 17 1 7 1 32 1 4 1 14 1 9 1 5 1 3 1 3 1 7 1 1 1 16 1 1 1 2 1 6 2 1 1 7 2 2 1 3 1 2 1 2 1 4 1 9 1 5 1 7 2 18 1 5 1 15 1 8 1 20 1 3 1 17 1 5 1 3 1 12 1 5 2 3 1 10 2 17 1 7 1 2 1 6 1 8 2 4 2 1 1 5 2 6 1 41 1 4 1 2 1 5 1 6 1 5 1 6 1 1 1 2 1 22 1 5 1 7 2 2 1 9 1 12 2 1 1 11 1 24 1 18 2 2 1 6 1 10 1 8 1 2 1 10 1 1 2 2 1 6 1 3 1 3 1 24 1 9 1 18 2 2 1 6"/>
<path d="M0 3463.5h1000"/>
<path d="M0 3466.2h1000" stroke-dasharray="29 1 9 1 12 1 1 1 27 1 10 1 5 1 7 1 71 1 16 1 25 1 4 2 32 1 94 1 3 1 13 1 33 1 5 1 3 1 13 2 15 1 7 1 50 1 36 1 28 1 21 1 26 1 19 1 2 1 2 1 15 1 46 1 6 1 8 1 27 1 18 1 7 2 2 1 2 1 34 1 44 1 19 1 25 1 3 1 41 1 7 1 18 1 10"/>
<path d="M0 3468.9h1000" stroke-dasharray="1 1 1 2 1 1 1 1 1 2 1 5 2 2 1 1 3 4 3 1 1 1 1 2 1 1 7 1 1 2 1 2 5 3 1 3 1 6 1 2 3 4 1 3 1 6 1 4 1 1 3 2 1 6 1 3 2 6 2 3 1 1 1 5 1 1 1 2 1 3 1 1 1 3 1 2 2 1 2 2 1 2 2 1 2 4 1 3 2 3 1 3 1 1 4 3 1 1 2 2 1 4 1 1 2 1 1 1 1 2 2 2 3 2 2 1 1 2 2 2 2 2 1 3 3 1 1 3 1 6 3 1 1 3 1 4 3 2 4 2 1 1 2 3 4 2 3 3 2 3 3 1 1 7 2 1 1 2 4 1 2 5 2 2 2 1 3 1 1 2 1 4 1 3 1 1 2 9 1 2 1 2 1 2 1 2 1 1 4 5 2 6 1 1 3 1 1 5 3 1 2 1 1 2 3 2 2 9 1 2 1 5 1 7 1 6 2 2 1 5 1 1 1 6 3 1 2 3 1 2 1 1 1 1 4 1 1 5 1 1 1 1 2 1 1 2 1 2 1 5 2 2 3 8 2 2 3 2 1 1 1 2 4 1 1 1 2 1 1 4 1 3 3 2 2 3 1 1 2 4 1 5 1 6 2 1 1 4 1 4 1 2 3 2 1 3 4 2 1 2 1 2 2 1 2 4 3 4 3 4 1 2 4 5 1 1 2 2 2 7 1 6 1 3 1 4 3 1 1 2 1 7 1 1 1 9 1 4 3 1 1 8 3 1 2 4 3 2 1 8 1 5 2 2 1 1 1 1 1 1 1 1 6 3 1 1 2 3 2 1 1 8 1 2 1 1 1 1 1 2 1 1 2 11 2 1 1 1 4 2 1 6 1 2 1 4 1 2 1 2 2 3 2 1 1 4 1 7 6 9 1 5 1 2 1 3 1 1 2 1 6 3 1 1 2 1 2 3 1 2 2 1 2 2 1 2 1 1 6 2 1 1 1 5 2 3 2 1"/>
<path d="M0 3471.7h1000" stroke-dasharray="1 1 2 1 1 3 1 2 1 5 2 2 1 1 1 1 1 4 1 1 1 1 1 1 1 2 1 2 1 1 3 8 4 7 2 6 1 2 2 5 1 3 1 6 1 4 5 2 1 6 1 3 2 6 2 3 1 1 1 5 1 1 2 1 1 3 1 1 1 1 1 1 1 2 1 2 2 2 1 2 1 2 2 9 1 3 1 3 1 2 1 5 1 1 2 10 1 1 1 1 1 2 2 2 3 2 2 1 1 2 2 2 2 6 2 6 2 5 2 6 1 4 3 3 3 2 1 1 2 3 4 2 3 3 2 4 4 1 1 5 1 2 1 3 1 3 2 3 1 1 1 3 2 1 3 1 1 2 2 7 1 1 2 9 1 2 1 2 1 2 1 2 1 1 2 1 2 4 1 7 1 1 3 7 2 2 1 2 1 2 3 2 2 12 1 5 1 7 1 6 2 1 2 5 1 1 1 1 1 4 3 2 1 8 1 1 4 1 2 6 1 1 2 4 1 2 1 1 1 3 2 2 1 1 1 2 1 5 1 3 3 1 1 3 1 1 4 4 1 6 1 4 1 1 1 1 2 6 1 4 1 12 2 1 1 4 1 4 1 3 1 3 1 3 2 1 1 5 1 2 2 1 3 2 3 5 3 4 1 2 4 7 2 5 1 5 1 6 1 2 1 5 2 2 1 10 1 1 1 9 1 4 3 1 1 2 1 5 3 1 2 5 2 2 1 14 2 2 1 5 1 3 3 5 1 1 1 3 1 2 1 11 1 3 1 2 1 1 1 10 1 1 1 4 1 2 1 2 1 9 1 4 1 2 1 2 2 3 1 2 1 4 1 7 6 9 1 5 2 1 1 3 1 1 7 1 1 5 2 2 1 3 1 3 1 1 2 2 1 2 1 3 1 2 1 2 1 1 1 3 1 1 1 4 1 2"/>
<path d="M0 3474.4h1000" stroke-dasharray="1 1 2 1 1 2 2 1 2 5 2 2 1 12 1 1 1 5 1 1 3 8 4 7 1 7 1 2 1 6 1 3 1 11 3 1 1 2 1 6 1 4 1 1 1 4 2 3 1 1 1 3 1 1 1 1 2 5 1 3 1 1 1 2 1 2 2 3 1 4 2 3 1 8 2 3 1 8 1 1 2 1 1 6 1 1 1 1 1 2 1 1 2 3 2 2 2 1 1 2 2 1 3 1 1 4 2 1 1 4 2 5 2 6 1 6 1 1 1 3 1 10 1 1 1 1 3 4 3 3 3 2 1 5 1 2 2 2 1 3 2 3 1 1 1 3 2 1 2 2 1 2 2 4 1 2 1 1 1 3 1 1 1 1 1 2 1 2 1 2 1 2 1 1 2 2 1 2 1 12 1 2 2 7 2 2 1 1 2 2 3 2 2 12 1 1 1 3 1 7 1 6 2 1 2 5 1 1 1 1 1 4 3 2 1 8 1 3 1 2 2 6 1 1 1 5 1 2 1 1 1 3 1 1 1 3 1 2 1 5 1 3 1 1 1 1 1 4 3 1 1 2 1 8 1 4 1 1 1 1 2 6 2 2 1 2 1 2 1 8 1 1 1 4 1 4 1 3 1 7 2 1 1 5 1 2 2 1 4 1 3 5 3 4 1 4 2 6 1 1 1 5 1 5 1 4 1 1 1 2 1 5 2 2 1 3 1 6 1 2 1 7 2 2 1 1 3 2 1 1 1 6 2 1 1 1 1 4 2 2 1 9 1 1 2 1 1 1 1 7 1 3 3 2 1 2 1 1 1 3 1 2 1 11 1 2 1 3 1 1 1 2 1 7 3 3 2 2 1 2 1 9 1 1 2 1 1 2 1 2 1 4 1 2 1 12 1 1 1 2 1 2 1 5 2 2 1 1 2 2 1 3 1 1 1 1 4 1 2 5 1 3 1 3 1 3 1 2 1 2 1 6 1 2 1 2 1 4 4 4 1 2"/>
<path d="M0 3477.2h1000" stroke-dasharray="1 1 2 1 1 2 2 1 2 3 1 1 3 1 1 14 1 5 1 1 3 8 1 1 2 7 1 6 2 2 1 3 1 2 1 15 3 1 2 3 1 4 1 6 1 1 2 1 1 2 1 3 1 3 1 1 1 1 2 5 1 3 1 1 1 1 2 2 2 3 1 9 1 8 2 3 1 7 2 1 1 2 1 6 1 1 1 4 1 1 2 3 2 2 2 1 1 1 3 1 3 1 1 4 2 1 1 4 2 5 2 4 1 1 2 7 1 3 1 10 1 3 3 6 1 3 1 1 1 2 1 2 2 1 1 2 2 2 1 3 2 3 1 1 1 3 1 2 2 3 1 2 1 4 1 2 1 1 1 3 1 1 1 1 1 2 1 2 1 2 1 2 1 1 2 2 1 2 1 3 1 8 1 2 2 7 2 2 1 2 1 2 3 2 2 2 1 4 2 3 1 1 1 3 1 7 1 1 1 4 2 1 2 5 3 1 1 4 3 2 1 1 1 5 2 3 1 2 2 6 1 1 1 4 2 2 1 1 1 3 4 2 1 2 1 4 1 4 1 1 1 1 1 4 1 1 1 1 1 2 1 8 1 4 1 1 1 2 2 5 2 2 1 2 2 2 1 2 1 4 1 1 1 4 1 1 1 2 1 3 1 7 2 2 1 4 1 2 2 1 4 1 3 5 3 6 1 2 2 6 1 1 1 5 1 6 1 3 1 1 1 2 1 5 2 1 2 3 1 6 1 2 1 7 1 3 5 2 1 1 1 9 1 1 1 4 2 2 1 9 1 1 2 1 1 1 1 11 3 2 1 2 1 1 1 3 2 1 1 2 1 7 2 2 1 3 1 1 1 2 1 3 1 3 2 4 2 1 2 1 3 6 1 1 1 1 2 1 1 10 2 1 1 12 3 2 1 2 1 5 1 5 2 6 3 1 3 2 2 5 1 7 1 4 1 1 1 2 1 6 1 2 1 2 1 4 4 7"/>
<path d="M0 3479.9h1000" stroke-dasharray="4 1 5 1 3 1 6 1 1 5 1 1 2 5 1 2 1 1 2 1 4 1 3 1 1 1 5 2 3 1 1 1 1 2 1 1 6 1 3 1 1 1 1 2 1 2 1 4 1 2 3 1 4 1 1 4 1 1 1 1 1 1 5 1 2 1 2 1 2 1 1 1 3 1 3 1 1 2 1 1 3 1 1 1 2 2 4 1 1 1 7 1 1 1 1 2 1 3 2 3 1 3 2 1 6 1 1 2 3 1 3 1 8 2 2 2 4 1 3 1 5 1 1 2 5 1 1 1 2 4 3 4 4 1 1 3 3 1 1 1 1 1 1 5 2 1 1 2 7 1 4 2 3 1 3 1 8 1 3 1 7 1 2 1 3 1 2 3 1 1 3 2 2 2 1 1 5 1 4 1 4 1 2 2 4 1 2 2 3 1 2 2 1 3 2 1 3 2 3 1 6 1 7 1 3 2 7 3 1 1 2 1 2 4 2 1 1 1 1 2 1 1 2 1 3 1 1 2 3 1 1 1 2 1 3 2 1 1 2 1 1 2 2 1 1 1 1 1 4 1 1 1 1 1 1 1 1 1 1 1 6 1 1 1 1 1 4 2 1 1 3 3 1 4 3 1 1 1 2 1 3 1 1 2 1 2 1 2 2 1 1 1 2 1 1 1 5 1 1 3 2 2 1 1 3 1 2 2 1 4 1 1 1 1 1 2 6 3 4 4 5 4 2 1 2 1 4 1 4 4 3 2 3 1 2 1 4 1 4 1 1 1 5 5 2 2 4 1 2 1 2 2 5 1 4 3 1 1 1 1 3 2 6 2 5 1 2 1 1 7 1 1 3 1 5 1 2 1 1 3 1 3 4 1 1 1 1 4 6 1 4 1 4 1 1 1 6 1 3 3 5 2 1 2 2 1 1 1 6 2 6 1 2 1 2 1 3 2 2 2 3 1 2 1 1 9 5 3 1 1 2 4 5 1 5 4 3 1 5 1 1 1 1 1 3 1 3 1 4 1 2 1 1 3 2 2 1 1 1 1 2 1 1 1 2 3 1 2 1 2 4 4 4 1 1 3 1 1"/>
<path d="M0 3482.7h1000" stroke-dasharray="14 1 6 1 13 1 2 1 57 1 2 2 8 1 1 2 5 1 22 1 12 1 20 1 8 1 7 2 30 1 2 1 38 1 5 1 13 1 8 1 14 1 39 1 10 1 21 1 13 1 10 1 23 1 12 1 15 1 3 2 17 1 2 1 28 1 1 1 3 1 8 1 6 1 2 1 4 1 4 1 22 1 2 1 14 2 4 1 1 1 6 1 7 1 1 1 10 2 7 1 25 1 10 1 12 1 1 1 8 2 2 1 18 1 6 1 8 1 24 1 1 1 9 1 2 1 3 1 3 1 9 3 11 1 26 1 5 1 8 1 17 2 12 2 2 3 7 1 1 1 4 1 50 2 3 1 6 1 17 1 9 2 3"/>
<path d="M0 3485.4h1000" stroke-dasharray="1 1 2 4 1 3 2 1 1 4 1 1 1 1 1 3 1 2 1 10 5 3 2 2 1 1 1 4 1 2 2 11 2 3 1 2 1 20 1 15 3 1 1 1 1 1 1 5 1 1 3 1 2 13 2 7 1 1 3 1 2 2 1 13 1 7 1 2 1 6 1 2 1 1 1 2 1 3 1 4 1 6 1 7 1 1 1 1 1 2 1 1 2 11 1 5 1 2 1 7 1 1 1 8 3 1 1 3 1 4 1 2 1 9 2 1 1 1 2 1 1 3 2 2 1 1 1 3 1 1 1 2 1 2 2 4 1 2 1 10 3 4 2 1 3 2 2 2 1 1 1 3 1 2 2 2 2 2 1 3 2 2 1 4 1 3 1 1 3 5 1 1 1 8 1 2 2 1 1 1 1 1 1 3 1 2 1 9 1 1 1 1 2 3 1 2 3 1 1 2 1 1 1 1 1 5 1 4 2 1 1 1 1 8 1 1 1 1 1 4 1 5 1 1 1 4 1 2 1 1 1 5 1 4 1 3 1 4 1 13 1 8 1 3 1 1 1 3 2 2 1 1 2 1 3 2 1 4 1 6 2 2 1 4 1 8 1 7 1 2 1 2 1 1 2 1 1 1 3 5 1 1 1 1 1 2 1 2 2 1 1 2 1 6 1 4 1 4 1 5 2 1 4 2 1 2 2 10 1 1 1 7 3 2 5 1 3 10 1 1 1 1 3 1 1 9 1 2 1 1 4 7 2 2 1 3 2 6 1 4 1 3 1 12 1 2 1 5 1 1 1 1 1 4 1 4 2 2 1 6 1 7 2 1 1 11 2 4 1 7 1 1 2 2 2 15 1 3 1 2 1 3 2 2 1 3 2 6 1 7 1 3 2 3 1 2 2 2 1 1 1 4 1 1 2 1 1 3 2"/>
<path d="M0 3501.9h1000" stroke-dasharray="0 45 1 3 1 5 1 1 1 66 1 27 1 72 1 80 1 1 1 57 1 129 1 44 1 4 1 54 2 5 1 162 1 228"/>
<path d="M0 3504.6h1000" stroke-dasharray="2 4 1 1 1 15 2 1 2 2 1 4 1 1 1 2 1 2 2 2 2 2 1 2 3 2 2 1 1 3 4 2 1 2 1 1 6 2 1 1 2 1 5 6 1 2 1 3 2 2 1 1 2 1 1 2 2 1 1 1 1 3 1 1 1 1 2 1 1 7 3 1 1 1 2 1 4 2 1 2 2 1 1 5 1 4 1 3 2 1 1 2 1 2 2 1 2 2 3 1 1 1 1 3 1 4 1 3 3 1 1 1 1 2 2 1 1 2 1 1 1 1 1 1 3 4 1 4 2 1 3 1 1 3 1 5 2 5 1 1 1 2 1 1 1 4 2 1 4 3 1 1 1 5 1 1 4 3 2 3 2 2 1 1 1 2 1 1 2 2 2 3 1 1 3 2 2 5 3 2 2 1 1 2 1 3 1 5 1 1 1 2 5 2 1 1 3 4 1 1 3 2 1 1 1 2 2 1 1 1 1 3 1 2 1 5 1 1 2 2 1 3 2 1 1 1 1 1 2 2 3 1 1 1 1 1 1 3 1 3 1 1 2 1 2 1 1 1 1 2 5 2 2 1 1 5 1 4 1 1 2 1 1 9 1 1 4 2 3 1 4 1 1 3 1 3 1 1 1 2 3 1 1 2 1 5 2 2 1 3 1 1 1 2 1 6 1 2 1 4 1 5 2 1 3 2 1 3 2 1 2 4 2 1 1 1 1 1 1 1 5 1 1 2 1 2 2 2 1 3 1 7 3 1 3 1 2 1 4 1 3 2 1 1 3 3 1 2 2 2 1 4 1 7 1 1 1 4 1 1 1 1 1 2 2 5 1 3 1 3 1 1 1 5 1 2 1 4 1 4 1 5 3 2 2 1 4 9 2 6 2 1 1 4 2 1 1 1 2 8 1 1 2 5 1 4 2 1 2 6 1 1 1 2 1 1 1 2 1 6 1 2 2 5 1 2 2 19 2 1 2 4 1 1 2 4 2 2 1 2 1 1 2 1 2 2 2 2 2 1 8 2 1 1 1 3 2 3 4 1 2 3 1 1 3 1 1 2 1 1 1 3 4 4 1 1 1 2 1 2 5 3 2 1 2 1 1 1 1 2 1 1"/>
<path d="M0 3507.3h1000" stroke-dasharray="16 1 5 1 24 1 5 1 4 1 15 1 12 1 2 1 8 1 12 1 14 2 4 1 4 1 4 1 18 1 2 1 9 2 2 2 14 1 8 1 6 1 1 2 6 1 1 1 12 1 6 1 1 1 15 1 2 1 6 1 9 3 9 2 1 1 3 1 1 1 6 1 5 2 2 1 2 1 2 1 1 1 18 1 7 1 9 1 10 1 7 1 5 2 3 1 16 1 15 2 8 1 1 1 2 2 10 1 2 1 3 1 10 1 9 1 1 2 9 1 7 1 1 1 2 1 7 1 16 1 4 1 6 1 8 1 2 1 3 1 1 2 3 1 7 1 6 1 9 1 12 1 14 1 4 1 3 2 2 1 6 1 12 1 8 1 7 2 11 1 9 1 10 1 3 1 6 1 17 1 5 1 22 1 9 1 3 1 4 1 5 1 5 1 10 3 6 1 2 1 3 1 17 1 2 1 16 1 2 2 1 1 8 1 12 1 8 2 2 1 1 1 32 2 23 1 1 1 4 1 7 1 8 1 9 1 5"/>
<path d="M0 3510.1h1000"/>
<path d="M0 3512.8h1000"/>
<path d="M0 3515.6h1000"/>
<path d="M0 3518.3h1000"/>
<path d="M0 3521.0h1000"/>
<path d="M0 3523.8h1000"/>
<path d="M0 3526.5h1000" stroke-dasharray="0 3 3 2 2 2 1 2 2 2 1 1 1 2 1 2 1 6 1 1 2 1 1 7 2 1 1 2 3 1 1 4 2 5 3 3 3 4 2 1 1 2 4 5 2 2 5 3 2 4 3 1 1 2 1 5 1 3 2 12 2 4 1 11 1 2 3 6 1 5 1 2 1 5 1 7 3 2 1 2 1 2 2 5 1 1 3 1 5 2 2 3 1 3 2 1 3 1 2 3 1 1 1 4 1 2 1 2 2 1 1 5 1 3 1 1 3 4 1 3 1 1 1 3 1 1 1 2 2 3 1 3 5 1 2 7 1 4 1 1 1 1 1 4 1 1 1 2 2 3 1 1 2 2 1 3 1 1 1 6 2 1 1 4 4 1 1 2 4 1 2 2 1 1 1 3 3 6 1 2 2 2 1 4 1 2 1 5 1 2 1 4 5 1 1 1 1 1 1 1 4 6 1 1 5 5 3 4 1 4 1 4 7 1 1 2 1 3 5 4 1 4 1 2 1 2 2 3 2 4 3 2 3 12 1 2 1 8 1 1 2 2 1 4 1 3 1 2 1 2 1 4 1 3 2 2 1 2 1 1 1 3 1 7 1 1 2 1 1 1 1 5 1 10 1 2 1 2 1 1 1 2 2 1 2 5 2 2 1 6 1 1 1 1 1 2 1 1 3 1 1 4 2 3 1 1 1 3 2 2 1 1 1 4 1 2 1 1 1 1 1 2 2 3 1 2 1 9 1 9 3 1 2 8 1 1 1 10 1 2 1 7 2 1 1 5 2 3 1 4 2 1 4 1 1 4 1 3 3 1 2 2 2 10 1 1 1 2 2 5 2 2 1 2 2 1 2 4 1 1 1 2 3 4 1 3 1 2 2 1 1 5 1 1 1 17 1 6 1 8 4 1 5 11 3 2 2 1 1 2 3 4 1 1 1 9 2 5 2 2 1"/>
<path d="M0 3553.9h1000" stroke-dasharray="0 28 1 41 1 404 1 264 1 38 1 220"/>
<path d="M0 3556.7h1000" stroke-dasharray="0 17 1 10 1 20 1 20 1 9 1 34 1 47 1 82 1 53 1 39 1 43 3 10 1 50 1 26 1 5 1 34 1 3 1 20 1 84 1 2 1 20 1 64 1 2 1 21 1 38 1 37 1 47 1 122 2 10"/>
<path d="M0 3559.4h1000" stroke-dasharray="0 17 2 3 1 5 1 20 1 3 1 16 1 9 1 13 1 6 1 2 1 1 1 8 1 3 1 27 1 15 1 36 1 3 1 5 1 14 1 20 1 31 1 20 2 4 1 3 1 30 1 27 1 15 3 1 1 2 1 5 3 26 1 21 1 17 1 8 1 5 1 33 2 3 1 20 1 38 1 11 1 4 1 1 1 26 1 2 1 12 1 1 1 5 1 64 1 2 1 12 1 8 1 35 2 1 1 37 1 6 2 9 1 12 1 1 1 14 1 43 1 51 1 10 1 15 2 8 1 1"/>
<path d="M0 3562.2h1000" stroke-dasharray="0 17 1 4 1 5 1 24 1 16 1 9 1 5 1 1 1 5 1 6 1 2 1 1 2 7 1 3 1 18 1 6 1 1 1 15 1 36 1 2 2 3 1 1 1 13 2 15 1 4 1 21 1 9 1 3 1 5 1 1 2 7 2 4 1 3 1 30 1 11 1 2 2 11 1 16 2 1 1 2 1 6 1 1 1 2 1 22 1 4 1 16 1 17 1 1 1 6 1 25 1 11 1 1 3 2 1 17 1 2 1 38 1 3 1 1 1 5 1 1 1 2 1 1 1 7 1 18 1 2 1 12 1 1 1 5 1 18 1 6 1 16 1 4 1 8 1 7 1 2 1 3 1 8 2 5 1 1 1 2 1 16 1 1 1 13 2 4 1 9 1 21 2 1 1 6 2 9 1 2 1 9 1 1 1 11 1 2 1 32 1 47 1 14 1 10 1 25 1 1"/>
<path d="M0 3564.9h1000" stroke-dasharray="0 8 1 2 1 5 1 4 1 4 2 23 3 7 1 7 1 3 1 11 1 1 1 2 1 2 2 5 1 2 1 1 2 2 1 4 2 2 1 2 1 2 1 4 1 3 1 3 1 1 1 4 1 1 1 15 1 9 1 5 1 2 1 16 2 2 2 3 1 1 1 6 1 2 1 2 2 2 1 8 2 3 1 4 1 2 1 2 1 1 1 1 1 2 1 8 1 6 1 2 1 3 1 5 1 1 2 3 1 3 2 4 1 1 1 1 1 13 1 16 1 11 1 2 2 2 1 1 1 5 1 9 2 6 2 1 1 2 3 1 1 2 1 1 1 2 1 11 1 10 1 4 1 16 1 3 1 7 1 5 1 1 1 3 1 2 1 1 1 21 1 1 1 1 1 8 2 1 3 2 2 2 1 7 1 2 1 1 2 2 1 5 1 2 1 1 1 1 1 4 1 4 1 2 1 4 1 3 1 3 1 3 1 1 1 5 1 1 1 2 1 1 1 2 2 3 2 9 1 7 1 2 1 1 1 4 1 5 1 1 1 5 1 6 1 11 1 1 1 4 1 2 1 5 1 5 3 4 1 8 1 4 1 2 1 6 1 2 1 5 2 5 1 4 1 6 1 9 1 1 1 13 2 4 2 8 1 21 2 1 1 6 2 9 1 2 1 2 2 5 1 1 1 11 1 2 1 6 1 8 1 16 1 9 1 7 1 1 1 25 1 1 1 3 1 3 1 5 3 1 2 6 1 18 1 6 1 1"/>
<path d="M0 3567.7h1000" stroke-dasharray="0 5 1 1 2 2 1 4 1 2 1 1 2 2 1 1 2 5 1 1 1 15 3 10 1 4 1 1 1 1 2 10 1 1 1 2 2 1 2 1 1 3 1 2 1 1 2 2 1 1 1 2 2 2 1 2 1 2 1 1 1 1 2 3 1 3 1 1 1 4 3 12 1 2 1 1 1 2 1 1 2 1 1 2 1 2 1 2 2 2 2 8 1 1 7 2 2 1 1 4 1 1 1 2 1 2 2 2 1 8 2 3 1 4 1 2 1 2 2 2 1 2 1 4 1 1 1 1 1 2 1 2 2 2 1 3 1 5 4 3 1 3 2 3 2 1 3 2 1 3 1 2 1 3 2 8 1 5 3 2 1 7 1 2 2 2 1 1 1 5 1 9 2 2 2 2 2 1 1 2 3 1 1 2 1 1 1 1 2 11 2 5 1 1 1 1 1 4 1 8 1 7 1 3 1 1 1 5 2 4 1 1 1 3 1 2 4 3 2 5 1 9 1 1 3 8 2 1 3 3 2 1 1 7 1 2 1 1 2 2 1 4 2 2 1 1 4 3 1 2 3 2 1 4 1 3 1 3 1 3 1 1 3 3 1 1 1 2 3 1 3 3 2 2 2 2 1 2 1 7 1 2 3 1 1 2 1 1 1 3 1 1 1 2 1 2 1 6 1 1 1 1 1 3 1 3 1 1 1 4 1 2 1 5 1 3 1 2 2 4 2 2 1 8 3 1 1 6 1 1 2 5 2 5 3 2 1 5 3 3 1 4 1 1 1 1 1 2 2 5 4 4 2 3 1 12 1 1 1 11 2 1 1 6 2 5 1 2 5 2 2 5 1 3 1 6 1 2 2 3 1 3 2 3 1 4 1 13 1 2 2 8 1 7 1 1 1 19 1 5 1 1 2 4 1 1 1 5 3 1 2 1 1 1 1 2 1 3 1 9 1 4 1 4 1 1 1 1"/>
<path d="M0 3570.4h1000" stroke-dasharray="2 3 1 1 8 1 7 2 1 1 6 1 1 1 1 1 4 1 2 1 3 3 3 2 1 1 2 1 1 1 2 1 1 1 7 6 2 1 5 1 7 1 6 1 5 1 2 1 2 2 2 1 2 1 3 1 2 2 2 3 4 2 4 2 1 3 1 1 2 1 3 1 1 1 1 2 4 1 2 1 2 1 1 2 2 2 4 1 2 2 2 1 7 2 6 2 6 2 2 1 3 1 1 1 1 2 4 1 7 2 2 1 3 1 5 3 3 1 5 1 2 2 1 1 1 1 1 1 1 3 5 2 1 1 1 1 2 1 12 1 3 1 2 2 2 1 3 1 4 3 5 1 2 4 2 1 1 2 2 1 5 2 1 1 1 1 1 1 2 1 1 2 3 1 2 1 6 1 3 1 6 1 3 2 3 3 1 1 2 1 1 1 5 1 1 2 1 1 1 3 2 1 1 1 2 2 2 2 8 1 1 2 2 2 1 1 1 1 1 1 4 1 5 1 5 1 1 1 6 2 1 1 1 1 3 2 1 2 1 1 3 1 12 4 2 1 2 1 2 2 1 1 2 1 3 1 1 1 4 2 2 1 4 2 1 4 1 1 4 1 2 2 6 3 1 1 1 2 3 1 3 3 6 2 5 6 6 1 2 1 1 1 1 1 3 1 2 1 2 1 1 1 2 2 6 1 11 1 2 2 4 2 2 2 2 1 2 1 1 1 3 2 1 2 2 1 1 1 4 1 1 2 1 2 5 2 16 1 1 3 4 2 3 1 6 1 3 1 1 3 6 1 3 2 2 3 1 1 1 2 7 2 2 3 1 2 3 1 1 3 1 1 7 1 2 1 5 2 2 3 1 1 1 2 3 2 1 2 1 1 3 1 3 3 8 1 2 1 1 2 4 5 1 2 3 2 1 1 2 1 1 1 1 5 3 4 1 3 1 3 3 2 4 2 6 2 1 1 3 2 1 1 9 1 1 2 1 2 2 3 1 2 2 1 1 3 3 1 1 1 3 1"/>
<path d="M0 3573.1h1000" stroke-dasharray="2 3 10 1 15 1 3 1 1 1 3 2 2 1 3 3 3 2 4 1 1 1 2 1 1 1 6 4 1 1 6 1 17 1 1 1 3 1 5 2 6 1 2 1 2 2 3 2 5 1 7 2 5 1 3 1 1 1 1 1 11 1 1 1 3 1 5 1 2 2 10 1 8 1 6 2 2 1 7 1 5 1 7 2 2 1 2 1 6 2 10 1 3 1 1 1 3 1 9 1 4 1 2 1 12 1 3 1 3 1 2 1 8 2 11 1 3 1 5 1 6 1 1 1 6 1 2 1 3 1 9 1 10 1 1 1 1 1 5 2 4 1 1 2 4 1 1 1 2 1 3 1 2 1 1 1 3 1 14 2 2 1 4 1 1 1 4 1 5 1 7 1 6 2 1 1 6 1 4 1 7 1 9 3 9 1 1 1 8 1 4 1 8 2 2 1 3 1 15 3 1 1 1 1 8 3 7 1 5 1 2 2 12 1 8 1 4 1 2 1 3 1 15 1 2 1 5 2 2 2 2 1 2 1 1 1 3 1 2 1 3 1 1 1 7 1 1 2 5 2 16 2 1 2 4 2 10 1 6 2 10 2 3 1 2 1 1 2 7 2 7 1 6 2 12 1 5 2 3 2 1 4 3 2 2 1 1 1 3 1 3 3 1 1 6 1 2 1 1 1 6 4 6 1 2 1 4 1 1 2 1 1 4 2 1 1 1 1 4 2 3 2 4 2 6 2 1 1 3 1 2 1 9 1 4 2 2 3 1 1 3 1 1 3 3 1 5 1"/>
<path d="M0 3575.9h1000" stroke-dasharray="0 1 3 1 10 1 15 1 3 3 3 1 3 1 3 3 3 1 1 1 8 1 1 1 6 3 2 1 6 2 18 1 3 1 5 2 6 1 5 2 4 1 5 1 7 2 2 1 6 1 1 1 1 1 11 1 1 1 3 1 5 1 2 2 19 1 6 2 2 1 7 1 5 1 7 2 2 1 2 1 6 2 20 1 9 1 7 1 20 1 2 1 8 4 13 1 12 1 1 1 6 1 6 1 20 1 1 1 7 2 4 1 1 2 4 1 1 1 2 1 3 1 2 1 1 1 3 1 2 1 11 2 2 1 6 1 4 1 5 1 1 1 5 1 6 2 1 1 2 1 8 1 7 1 9 3 25 1 8 2 2 1 3 1 16 2 1 1 1 1 5 1 4 1 7 1 5 1 2 2 12 1 15 2 1 1 1 1 7 1 7 1 6 1 1 1 4 1 2 1 2 1 1 1 3 1 2 1 3 1 1 1 7 1 1 1 6 1 18 1 8 1 10 1 6 2 10 2 3 1 2 1 1 1 8 1 8 1 6 2 12 1 6 1 4 1 1 4 4 1 12 1 3 1 6 1 2 1 1 1 24 1 1 2 7 1 3 1 4 1 4 1 5 2 2 1 3 2 1 1 3 1 12 1 4 2 2 3 1 1 3 1 1 3 3 1 5 1"/>
<path d="M0 3578.6h1000" stroke-dasharray="31 1 18 1 24 1 35 1 6 1 18 1 13 1 70 1 16 1 11 1 41 1 31 1 8 1 1 1 27 1 15 1 20 1 18 1 6 1 11 1 29 1 25 1 14 1 18 1 26 1 8 1 24 2 3 1 27 2 12 1 20 1 7 1 16 1 10 1 8 1 3 1 84 1 10 1 44 1 6 1 16 1 61 1 16 1 21 1 13 1 12"/>
<path d="M0 3581.4h1000"/>
<path d="M0 3584.1h1000"/>
<path d="M0 3586.9h1000"/>
<path d="M0 3589.6h1000"/>
<path d="M0 3592.3h1000"/>
<path d="M0 3595.1h1000" stroke-dasharray="1 1 3 1 1 3 3 1 3 2 1 1 1 2 2 2 3 1 1 3 2 1 1 2 1 2 1 1 1 4 2 1 1 1 1 1 1 2 1 1 2 3 3 1 1 3 2 2 3 5 1 1 1 1 4 2 2 4 1 2 1 1 5 2 2 3 1 2 4 2 2 1 3 2 1 1 2 1 1 1 1 1 2 14 1 1 1 1 3 2 1 1 3 3 1 2 1 1 5 2 2 2 1 5 1 7 1 1 1 2 1 13 2 3 1 1 2 5 1 5 2 2 3 2 1 6 3 2 1 4 4 4 2 3 1 2 2 1 2 1 2 1 5 1 2 4 3 3 1 1 3 1 1 1 5 1 1 2 2 2 2 1 1 4 2 1 3 5 4 4 3 1 1 1 2 1 1 1 1 1 1 2 3 1 4 1 6 1 1 3 3 2 1 3 3 2 4 1 1 2 1 2 1 2 2 2 2 2 1 1 1 1 1 1 1 2 1 2 3 1 3 7 4 3 1 4 1 1 1 2 1 1 2 1 2 4 1 8 2 2 2 2 1 1 2 1 1 1 5 2 3 1 1 4 1 4 2 2 3 1 1 2 1 4 1 4 1 1 2 4 3 1 2 1 1 1 1 1 1 2 1 6 2 1 1 2 2 2 1 1 1 1 1 1 3 3 4 1 1 2 1 2 2 6 1 3 2 2 1 2 2 1 1 4 2 1 4 2 2 3 1 4 1 3 4 1 3 1 1 1 1 1 1 3 2 2 2 3 1 1 1 2 2 1 1 3 2 2 1 1 6 2 1 1 3 3 2 1 2 2 1 3 1 6 1 2 2 2 1 1 1 2 1 2 4 1 1 3 3 4 1 1 1 1 5 5 1 1 1 2 1 1 1 1 2 2 1 1 1 1 2 1 1 4 1 1 1 1 1 1 1 3 1 2 1 1 1 1 4 1 2 3 1 4 1 1 2 1 1 2 3 1 2 1 1 1 1 3 1 1 1 2 2 1 1 4 1 5 3 4 3 8 1 1 1 2 1 5 6 2 1 4 7 6 3 2 1 2 5 1 3 2 1 2 2 1 2 1 2 2 1 3 1 1 2 3 3 1 1 3 1 2"/>
<path d="M0 3597.8h1000" stroke-dasharray="0 10 2 7 1 25 1 48 1 22 1 7 1 1 1 11 1 48 1 49 1 32 1 20 1 5 1 14 2 7 1 7 1 10 1 17 1 1 1 14 1 22 1 13 1 29 1 1 1 9 1 9 1 19 1 32 1 14 1 15 1 19 1 1 1 33 1 12 1 38 1 4 1 34 1 1 1 3 1 23 1 7 1 22 1 21 1 13 1 8 1 49 1 5 1 17 1 7 1 25 1 9 1 33 1 35 1 5 1 2"/>
<path d="M0 3649.9h1000" stroke-dasharray="0 83 1 80 1 55 1 77 1 76 1 20 1 27 1 90 1 35 1 95 1 161 1 102 1 87"/>
<path d="M0 3652.7h1000" stroke-dasharray="0 12 2 10 1 40 1 4 1 12 1 13 1 8 1 16 1 9 1 3 1 7 1 2 2 14 2 7 1 5 2 15 1 23 1 4 1 5 1 2 1 4 1 4 1 18 1 1 1 4 1 1 1 23 1 1 2 5 1 2 1 12 1 3 2 21 1 12 1 6 1 2 1 1 4 1 1 6 1 10 1 6 1 3 1 8 1 7 2 9 1 1 1 9 1 29 1 17 1 14 1 1 1 2 1 7 1 5 1 7 1 7 1 5 1 18 1 29 1 26 1 17 1 1 1 9 2 9 1 7 1 3 1 5 1 9 2 10 1 4 1 45 1 5 1 6 1 2 2 6 1 21 2 2 1 1 1 1 1 10 1 3 1 6 1 22 1 2 1 5 1 1 1 5 1 3 3 16 1 3 1 9 1 3 1 26 1 20 1 19 1 2 2 2 1 3 1 4"/>
<path d="M0 3655.4h1000" stroke-dasharray="0 4 1 7 1 11 1 15 1 26 1 1 2 12 1 10 1 2 2 7 1 5 1 4 1 1 1 3 1 9 1 4 1 5 3 1 2 1 1 4 2 7 1 2 1 2 1 1 1 6 1 15 1 23 1 4 1 2 1 2 1 2 1 4 1 3 2 6 1 4 1 8 1 4 1 1 2 18 1 3 1 1 1 2 1 3 1 2 1 12 1 18 1 2 1 4 1 5 1 6 1 11 1 1 2 1 1 3 2 1 1 5 1 4 2 5 1 3 1 2 1 5 1 1 1 5 2 9 1 1 1 9 1 14 1 14 1 17 1 14 1 1 1 2 2 6 1 4 2 15 1 5 1 18 1 14 1 3 1 1 2 7 1 19 1 6 1 3 1 13 1 1 1 8 3 4 1 1 2 1 1 6 1 4 1 5 1 7 1 2 1 1 1 8 1 4 1 51 1 3 1 2 1 2 2 1 1 4 1 4 1 3 1 2 1 2 2 4 2 3 1 1 1 12 1 3 1 5 2 22 1 2 1 5 1 1 1 4 2 3 3 5 1 3 1 6 1 3 1 3 1 5 1 3 1 6 1 6 1 12 1 14 1 5 2 7 1 10 1 2 6 2 1 4"/>
<path d="M0 3658.1h1000" stroke-dasharray="3 1 3 2 1 1 3 5 2 3 3 6 3 2 1 1 1 5 1 3 3 3 2 2 2 4 2 1 3 5 2 2 1 1 2 7 1 1 1 2 5 2 1 1 3 2 2 4 1 1 2 1 2 3 1 5 2 1 3 1 2 2 3 1 4 2 4 4 5 1 1 2 1 1 1 5 3 5 1 2 1 1 1 3 1 2 3 5 1 2 1 1 2 2 1 3 1 3 2 1 2 2 14 6 1 4 1 2 1 1 1 1 3 2 1 1 4 6 2 1 1 8 1 1 5 1 2 2 5 2 1 4 2 1 1 1 1 4 1 1 1 2 1 4 8 4 1 2 2 1 1 2 2 2 1 1 1 1 1 7 4 1 1 3 2 1 3 1 5 1 3 2 1 2 2 2 1 2 1 2 1 2 1 1 1 2 5 8 6 1 1 3 3 1 1 3 1 1 3 3 2 4 1 6 1 1 2 3 5 1 4 1 1 1 4 11 2 1 1 2 2 1 1 4 1 1 1 2 2 3 1 11 2 1 1 1 3 6 1 4 1 1 1 2 3 1 3 3 1 1 1 3 1 2 2 1 3 4 1 1 2 3 1 3 1 3 1 2 2 2 1 6 1 3 1 5 1 2 1 2 1 1 1 1 1 1 1 2 1 1 1 1 3 2 6 1 2 5 2 3 1 5 3 1 2 1 2 1 2 1 4 2 1 1 5 1 2 4 1 2 1 3 2 1 1 1 1 4 1 1 1 2 4 1 1 2 1 1 1 7 1 5 2 2 1 1 6 1 1 1 1 1 3 3 1 2 5 1 3 4 3 1 2 1 1 1 1 8 1 1 2 1 2 5 6 1 2 1 2 1 1 6 1 3 1 2 1 3 1 1 1 1 1 3 3 2 4 2 5 1 2 1 2 3 1 2 2 1 3 5 2 1 2 4 1 1 1 1 3 1 2 1 2 3 2 3 2 2 1 4 1 2 1 2 2 2 1 2 2 3 2 1 2 6 1 3 1 2 6 1 2 1 1 1 1"/>
<path d="M0 3660.9h1000" stroke-dasharray="3 1 4 1 13 2 4 2 1 1 9 1 2 1 3 1 4 1 14 1 5 1 10 3 1 3 4 1 5 1 11 1 11 1 5 1 9 1 9 1 23 2 6 1 4 1 3 1 9 2 4 1 5 1 3 1 2 2 24 1 3 1 2 1 22 2 2 1 5 1 1 1 11 1 27 1 15 1 2 1 10 1 3 1 2 1 2 1 9 2 12 1 7 1 8 1 14 1 1 1 14 2 3 1 3 1 6 1 8 2 8 1 7 1 12 2 12 1 12 1 3 1 3 2 2 1 3 1 10 4 1 1 1 1 2 1 3 2 8 1 2 1 9 1 4 1 8 1 2 1 3 1 2 2 5 1 1 1 14 1 11 2 7 1 18 2 4 1 4 1 5 1 8 1 7 1 2 1 2 1 1 2 8 1 3 1 2 1 2 1 6 2 3 1 1 1 2 1 3 1 1 1 15 1 1 1 4 1 20 1 2 1 8 1 3 1 6 1 12 1 6 1 52 1 3 1 1 2 3 1 4 1 2 1 8 1 13 1 1 1 5 1 2 1 2 2 1 1 4 1 7 1 2 1 2 3 1 1 14"/>
<path d="M0 3663.6h1000" stroke-dasharray="8 1 206 1 74 1 120 1 101 1 44 1 9 1 35 1 6 1 3 1 34 1 28 1 50 1 17 1 74 1 90 1 30 1 54"/>
<path d="M0 3666.4h1000"/>
<path d="M0 3669.1h1000"/>
<path d="M0 3671.9h1000"/>
<path d="M0 3674.6h1000"/>
<path d="M0 3677.3h1000"/>
<path d="M0 3680.1h1000" stroke-dasharray="3 1 11 1 12 1 1 1 17 1 17 3 12 1 6 2 2 1 4 1 1 1 18 1 7 1 15 1 6 1 7 1 3 1 16 1 19 1 6 1 5 2 5 1 6 1 12 1 9 1 3 1 2 1 10 1 4 1 5 1 6 1 4 1 11 2 4 1 1 1 4 1 1 1 6 1 2 2 13 1 2 1 2 1 13 1 17 1 1 1 12 1 1 1 2 3 1 1 6 1 5 1 1 1 8 1 4 1 8 1 7 1 2 1 4 1 14 1 6 1 1 1 1 2 25 1 7 1 7 1 26 1 8 1 14 1 5 1 10 1 20 1 6 1 15 1 10 2 25 1 6 1 4 1 2 1 6 1 3 1 1 1 3 1 4 1 10 1 5 1 4 1 10 1 7 1 5 1 6 1 3 2 2 1 21 1 34 1 14 1 16 1 2 2 29 1 1 1 7 1 5 2 1 1 18 1 1 1 8 1 2 1 3 1 11 3 19 2 10"/>
<path d="M0 3682.8h1000" stroke-dasharray="3 2 3 1 3 1 2 1 5 1 6 1 1 1 6 1 10 1 3 1 13 3 12 1 6 2 2 1 4 1 1 1 1 1 7 1 8 1 7 1 11 1 3 1 6 1 2 1 4 1 3 1 1 1 1 1 7 1 2 1 1 2 3 2 16 1 3 1 1 1 3 2 5 1 6 1 12 1 9 1 3 1 2 1 10 1 4 1 5 1 2 1 3 1 4 2 6 1 3 2 4 1 1 1 4 1 8 1 2 2 6 1 6 2 1 1 1 2 5 2 6 2 2 2 5 1 6 1 1 1 1 1 4 1 5 1 1 1 2 3 1 1 6 1 5 1 1 1 1 1 6 1 4 1 8 1 7 1 2 1 8 1 10 1 2 1 5 4 23 3 4 1 2 1 1 1 13 1 3 1 9 1 4 1 4 1 8 2 2 1 5 1 3 1 12 1 7 1 3 1 7 2 6 1 9 1 5 1 10 1 26 1 4 1 6 1 2 1 6 1 3 1 1 1 3 2 3 1 1 1 8 1 4 2 4 1 2 1 7 1 2 1 1 1 2 1 1 1 10 1 3 2 2 1 1 1 19 1 4 1 5 1 3 1 17 2 5 1 6 1 2 1 16 1 2 2 14 1 2 1 7 1 1 1 1 1 1 1 4 1 2 1 2 1 2 2 1 2 2 1 5 1 8 1 1 1 2 1 3 1 1 1 2 1 2 2 11 3 9 1 9 2 10"/>
<path d="M0 3685.6h1000" stroke-dasharray="2 3 1 1 1 2 2 1 2 1 1 7 2 3 1 2 1 3 1 2 1 1 4 1 1 3 2 5 1 1 5 6 1 3 2 1 3 3 2 6 1 2 2 4 1 3 1 1 2 4 3 1 2 4 2 3 1 1 1 1 2 3 2 1 1 1 1 1 6 1 2 4 1 3 1 1 1 1 1 4 2 1 1 1 2 6 1 2 7 4 4 2 3 1 1 2 1 4 1 4 1 1 4 1 1 1 2 2 1 3 1 2 3 1 4 2 1 1 1 1 1 3 1 1 1 1 2 1 1 3 1 3 1 1 3 4 1 1 1 1 1 5 3 1 2 1 1 1 1 3 3 1 1 1 2 4 2 2 1 1 1 6 2 1 2 2 1 2 1 5 1 4 1 1 1 3 2 1 2 2 1 3 1 6 4 6 3 3 1 2 1 1 1 1 1 4 1 3 2 1 1 1 1 1 3 1 1 1 1 1 4 1 1 1 4 4 1 1 2 5 1 4 2 1 2 4 2 1 1 1 4 1 1 4 1 3 2 6 3 2 2 1 1 1 2 3 3 2 1 6 2 1 1 2 1 1 1 2 1 3 1 1 2 4 1 2 1 1 2 1 4 2 2 2 3 2 3 2 1 4 2 1 5 1 1 3 1 1 1 2 6 2 1 2 2 1 1 1 1 1 1 2 2 6 4 1 1 1 5 3 1 2 1 1 2 2 1 1 7 1 1 2 3 3 1 1 3 2 3 2 1 3 1 1 2 3 1 1 1 2 1 1 1 2 1 2 1 3 3 1 1 1 3 3 1 4 3 4 1 1 4 2 1 1 2 1 1 2 1 1 1 1 3 6 1 2 1 2 3 1 4 4 1 2 1 2 1 1 1 1 1 1 1 1 9 1 3 1 1 1 1 4 2 3 1 2 1 2 3 3 1 2 2 1 1 3 1 2 2 2 1 2 2 4 2 2 1 2 4 3 1 2 1 3 3 1 1 2 2 1 4 1 2 2 3 1 1 2 1 3 1 2 3 1 2 1 2 1 2 2 1 2 2 1 1 3 1 2 2 2 1 6 1 1 3 1 1 5 1 3 2 1 1 4 1 4 2 1 1 3 1 4 1 2 2 5 3 1 2 1 2"/>
<path d="M0 3688.3h1000" stroke-dasharray="0 5 1 213 1 23 1 334 1 83 1 192 1 144"/>
<path d="M0 3710.2h1000" stroke-dasharray="0 84 1 40 1 58 1 20 1 10 1 44 2 11 1 76 1 14 1 176 1 56 2 42 1 89 1 18 1 44 1 11 1 33 1 9 1 12 1 31 1 36 1 63"/>
<path d="M0 3713.0h1000" stroke-dasharray="0 6 1 20 1 27 1 4 1 22 2 38 1 1 1 58 1 20 1 10 2 1 1 1 1 4 1 34 2 4 1 12 1 19 1 8 1 32 1 7 1 15 1 28 1 40 1 66 1 14 1 24 1 56 3 4 1 36 1 83 1 5 1 11 1 6 1 16 1 2 1 24 1 11 1 23 1 19 1 2 1 1 1 39 1 36 1 37 1 15 1 9"/>
<path d="M0 3715.7h1000" stroke-dasharray="1 2 1 2 1 4 2 3 4 7 1 4 1 7 1 14 1 4 1 4 1 3 1 3 2 1 1 6 2 18 1 14 1 1 2 1 1 1 1 6 1 11 1 2 3 2 1 2 2 12 1 4 1 8 2 2 1 2 1 4 1 2 1 6 2 6 5 1 1 1 1 2 3 6 1 2 1 2 1 4 1 8 1 2 1 2 1 1 2 4 1 6 1 4 2 2 1 3 1 1 1 1 1 3 1 1 2 1 1 1 1 6 1 6 1 1 1 4 1 2 2 3 1 1 1 5 1 2 1 6 3 4 1 9 1 3 2 7 1 7 1 5 1 1 1 1 1 5 1 1 3 7 1 4 1 6 1 3 1 4 2 3 1 2 2 2 1 20 1 5 1 8 1 1 1 2 1 2 2 8 3 4 1 5 1 2 1 14 1 2 2 5 2 1 1 6 1 6 1 1 1 14 1 5 2 14 5 3 3 12 1 19 1 1 2 13 1 1 1 1 2 7 1 4 1 3 1 21 1 1 1 4 1 8 1 1 1 6 1 3 3 4 2 2 1 2 1 6 1 9 2 5 1 2 1 4 2 18 2 2 1 7 2 20 1 1 1 3 1 2 1 4 3 1 1 3 2 1 1 1 1 7 2 1 1 7 1 7 1 12 1 7 1 10 1 12 1 4 1 10 1 4 1 3 2 4 1 2 1 1 1 5 3 9 1 4 1 3 1 5"/>
<path d="M0 3718.5h1000" stroke-dasharray="1 2 2 1 2 1 1 1 2 3 4 1 2 1 1 2 1 4 4 1 1 1 2 1 1 2 1 3 1 5 1 1 1 2 1 3 2 1 3 2 6 5 5 1 5 4 1 1 1 2 2 2 3 1 1 1 1 1 1 1 2 1 2 1 1 1 2 5 2 2 1 1 3 3 1 1 5 1 2 1 3 1 1 1 1 7 1 2 1 1 2 1 1 1 2 2 2 2 1 2 1 2 3 2 1 1 4 1 2 1 1 3 10 2 4 1 1 3 1 1 2 2 1 4 1 6 1 1 7 1 5 1 3 1 2 1 1 3 3 1 2 1 3 1 1 1 1 3 1 1 2 1 1 1 1 2 1 3 1 1 2 3 3 1 1 1 2 1 3 3 1 1 1 5 1 2 1 6 3 3 4 2 6 3 4 3 1 1 1 3 2 2 1 4 4 1 1 1 1 3 1 1 3 7 1 4 2 3 1 1 1 3 1 2 5 1 6 2 1 1 2 8 5 4 1 1 1 2 2 2 1 1 1 3 10 2 1 3 5 2 3 1 1 3 1 2 2 1 1 3 6 1 3 1 3 4 5 2 1 1 4 1 2 1 3 3 2 1 1 2 3 1 2 1 1 3 2 2 1 5 3 3 1 1 3 3 3 1 1 2 1 2 1 2 1 1 3 1 2 1 1 1 2 1 1 1 1 3 1 1 1 1 4 5 1 5 1 1 4 1 1 2 1 1 2 3 3 2 1 1 1 4 1 1 1 2 1 5 3 1 1 1 2 1 3 1 2 3 3 1 5 2 1 1 7 2 2 2 1 2 2 1 3 1 2 2 1 1 2 1 4 1 2 1 1 2 1 1 6 6 1 2 1 1 1 4 3 1 2 2 1 4 2 9 1 3 1 2 2 1 4 3 2 1 2 3 5 2 5 1 1 5 4 1 1 1 1 2 2 1 1 4 4 2 1 4 1 3 2 1 1 1 1 2 3 3 1 1 1 1 5 1 1 1 4 3 1 2 2 2 1 2 1 2 4 2 1 1 1 1 4 4 1 2 1 1 9 1 2 1 1 1 4 1 4 1 3 2 1 2"/>
<path d="M0 3721.2h1000" stroke-dasharray="10 1 2 1 1 1 4 1 4 1 4 2 15 1 2 1 1 1 3 1 4 1 9 1 6 1 1 1 1 1 5 1 6 1 1 1 4 1 11 1 1 1 5 1 1 1 3 2 1 1 10 2 1 1 8 1 8 1 1 3 2 2 6 1 2 2 2 2 17 1 5 2 11 1 4 1 1 1 1 1 4 1 2 1 2 1 1 1 1 4 9 1 5 1 6 1 3 1 3 1 6 1 5 1 4 1 1 1 1 2 2 1 2 1 4 1 8 1 4 2 1 1 1 1 1 1 3 1 2 1 1 4 3 2 5 1 18 1 1 3 7 1 7 1 1 3 5 1 7 2 1 1 2 2 4 1 1 1 1 2 12 1 5 5 1 1 6 1 1 1 5 1 2 1 4 1 15 1 7 1 7 2 1 2 2 1 10 1 3 1 5 1 17 1 3 1 4 1 1 2 3 1 2 1 3 1 2 2 1 1 1 1 1 1 1 1 1 1 3 1 11 2 1 1 3 1 5 1 2 1 1 1 2 1 4 1 4 1 16 1 4 1 4 1 3 1 7 1 1 1 2 1 6 1 1 1 5 1 1 1 11 1 3 1 5 1 10 2 2 2 1 2 6 1 2 1 15 2 8 1 1 4 1 2 3 2 19 1 1 1 2 1 6 2 2 1 4 3 2 1 3 1 17 1 6 1 3 2 4 1 11 1 1 1 3 1 2 1 1 1 6 2 2 1 7 1 8 1 1 1 3 1 11 2 1 1 4 1 1 1 1 1 2 2 1 1 9 1 2 1 1 1 9 1 3 2 1 1 1"/>
<path d="M0 3724.0h1000" stroke-dasharray="6 1 3 1 2 1 1 1 4 1 1 1 7 2 15 1 2 1 5 1 4 1 8 2 6 1 1 1 1 1 12 1 1 1 4 1 11 2 6 2 4 1 3 1 12 1 8 1 2 1 5 1 2 2 2 2 6 1 2 1 3 1 24 2 11 1 4 1 1 1 7 1 1 1 4 1 1 2 11 1 5 1 6 1 3 1 3 1 12 1 4 1 3 2 10 1 8 1 5 1 1 1 1 1 1 1 9 3 3 2 5 1 20 3 15 1 1 2 6 1 7 2 1 1 3 1 2 1 1 1 1 1 15 1 5 2 2 1 1 1 6 1 1 1 8 1 4 2 22 1 7 1 2 1 3 1 9 2 3 1 23 1 3 1 4 1 1 2 3 1 2 1 7 1 1 1 1 1 1 1 1 1 5 1 11 2 1 1 3 1 2 1 2 1 2 1 1 1 2 1 4 1 4 1 16 1 4 1 4 1 10 2 1 1 2 1 6 1 1 1 5 1 1 1 11 1 3 1 6 1 7 1 1 2 2 1 2 1 7 1 2 1 15 2 10 4 2 1 3 1 33 1 7 1 4 1 3 1 17 1 6 1 4 1 16 1 5 1 2 1 1 1 6 2 19 1 1 2 6 1 10 2 3 1 1 1 4 2 1 1 9 1 4 1 9 1 4 1 1 1 1"/>
<path d="M0 3726.7h1000" stroke-dasharray="10 1 4 1 66 1 19 1 12 1 6 2 43 1 55 1 36 1 121 1 18 1 21 1 29 1 2 1 8 1 15 1 77 1 10 1 4 1 14 1 3 1 5 1 14 1 12 1 31 1 23 1 19 1 22 1 9 1 6 1 44 1 37 1 12 1 56 1 58 1 7 1 1 1 14 1 18"/>
<path d="M0 3729.4h1000"/>
<path d="M0 3732.2h1000"/>
<path d="M0 3734.9h1000"/>
<path d="M0 3737.7h1000"/>
<path d="M0 3740.4h1000"/>
<path d="M0 3743.1h1000"/>
<path d="M0 3745.9h1000"/>
<path d="M0 3748.6h1000" stroke-dasharray="0 1 1 1 1 3 1 2 1 2 2 3 1 1 1 3 1 1 3 3 2 11 2 1 1 3 1 1 1 11 1 4 1 7 1 6 1 2 1 2 3 2 2 4 2 2 2 2 1 2 2 3 1 2 1 12 1 3 1 4 1 3 1 4 4 1 2 2 2 3 1 8 1 1 2 2 1 2 2 3 1 6 1 3 1 6 1 1 1 3 1 2 1 4 1 1 1 3 4 1 1 2 1 2 2 2 1 5 2 1 1 4 1 7 1 2 1 8 1 1 1 1 2 8 1 3 2 4 1 1 1 3 2 13 1 5 1 2 1 1 2 1 2 4 1 4 1 4 2 2 2 4 1 1 1 3 1 1 2 1 1 5 2 1 1 7 1 2 1 13 1 3 1 3 1 2 1 4 1 2 1 6 2 6 1 2 1 2 1 1 1 2 1 5 1 2 1 1 1 3 1 6 1 11 1 1 2 5 3 1 1 2 1 5 2 1 2 1 1 5 2 6 1 6 1 6 3 2 1 1 5 4 1 2 1 18 1 6 1 14 1 1 1 4 2 5 1 4 1 1 2 2 1 3 1 2 1 3 1 5 1 1 1 19 5 2 1 6 2 5 1 5 2 4 2 3 2 4 5 1 1 1 1 2 1 6 1 1 2 1 1 2 1 13 1 1 1 2 1 3 1 3 2 3 2 1 1 5 1 7 1 4 2 2 1 1 1 8 1 5 1 1 1 1 2 3 1 2 1 2 2 19 2 5 1 1 1 17 1 4 1 1 2 2 1 5 1 3 1 1 1 3 1 8 3 2 1 5 2 1 1 3 1 4 1 8 1 2 2 2 1 2 1 3 2 2 1 2 1 1 1 4 1 3 1 2 1 3 1 2 1 2 1 1 2 6 1 2"/>
<path d="M0 3751.4h1000" stroke-dasharray="0 3 1 3 1 2 1 3 1 3 1 1 1 3 1 1 3 3 2 11 2 7 1 11 1 12 1 6 1 2 1 2 3 2 2 2 1 5 1 3 1 2 2 3 1 2 2 15 1 4 1 3 1 4 2 1 1 2 1 2 2 12 1 1 1 3 1 2 2 3 1 6 1 3 1 6 1 7 2 4 1 6 1 1 1 1 1 2 1 2 2 7 3 1 1 4 1 7 1 2 1 8 1 1 1 1 1 9 1 3 2 4 1 1 1 3 1 14 1 5 1 4 2 7 1 9 1 3 2 4 1 1 1 6 1 5 1 1 2 9 1 16 1 3 1 3 1 2 1 7 1 6 2 6 1 2 1 2 1 1 1 2 1 5 2 3 1 22 1 1 2 5 3 1 1 8 2 1 2 1 1 5 2 9 1 9 1 2 1 2 1 1 1 2 1 27 1 23 1 4 2 10 1 1 1 7 1 2 1 3 1 5 1 1 1 13 1 1 1 1 1 3 3 2 1 6 2 5 1 6 1 4 2 4 1 5 3 2 1 1 1 2 1 6 1 1 2 1 2 1 1 9 1 3 1 1 1 2 1 3 1 3 1 4 2 1 1 13 1 4 1 7 1 5 1 6 1 1 1 1 2 6 1 2 1 1 1 18 1 6 1 26 2 6 1 5 2 4 1 8 1 1 1 1 1 6 2 1 1 3 1 4 1 11 2 5 1 3 2 2 1 4 1 4 1 3 1 6 1 2 1 6 1 4 2 2"/>
<path d="M0 3754.1h1000" stroke-dasharray="0 3 1 23 1 5 1 45 1 13 2 16 1 41 1 22 1 5 1 14 1 3 1 14 1 12 1 3 1 2 1 11 1 3 1 15 1 12 1 25 1 34 1 28 1 5 1 48 1 70 1 46 1 117 1 1 1 8 1 6 1 32 1 16 2 2 1 24 1 9 1 15 1 18 1 11 1 30 1 6 1 26 1 14 1 4 1 22 1 27 1 7 1 4 1 15 1 14 1 3"/>
<path d="M0 3756.9h1000" stroke-dasharray="0 3 1 28 2 28 1 16 1 20 1 10 1 70 1 14 1 3 1 14 1 12 1 3 1 2 1 11 1 3 1 15 1 12 1 25 1 19 1 49 1 48 1 23 1 46 1 46 1 4 1 114 1 63 1 1 1 3 1 11 1 12 1 25 1 18 1 23 1 25 1 11 1 6 1 7 1 14 1 4 1 22 1 27 1 7 1 1 1 18 1 14 1 3"/>
<path d="M0 3759.6h1000" stroke-dasharray="0 3 1 1 1 18 1 3 1 3 1 11 1 1 1 5 1 9 1 16 1 6 1 13 2 5 1 3 1 2 1 6 1 1 2 20 1 4 1 31 1 2 1 2 1 8 1 3 1 14 1 16 1 2 1 8 1 2 1 28 1 3 1 7 1 3 1 1 1 1 1 7 1 1 2 14 1 3 1 12 2 22 1 12 1 13 1 3 1 22 1 24 1 6 1 7 1 4 1 8 1 24 1 13 1 5 1 1 1 4 1 5 1 13 1 4 1 33 1 14 1 21 1 17 1 23 1 1 1 35 1 6 1 20 1 5 1 7 1 3 1 7 1 4 1 13 1 11 1 18 1 23 1 23 1 1 1 3 2 5 3 5 1 7 1 7 1 6 1 4 1 8 1 7 1 2 1 2 1 10 1 4 2 1 2 6 2 7 1 1 1 1 3 14 1 14 1 3"/>
<path d="M0 3762.3h1000" stroke-dasharray="0 3 1 1 1 1 2 3 2 4 1 5 3 1 1 3 3 1 2 3 1 2 3 1 1 3 1 2 1 1 1 1 1 2 1 4 1 6 1 3 4 3 2 3 2 1 4 3 3 1 1 2 1 3 4 1 2 1 3 1 2 4 1 1 1 3 1 1 1 4 2 1 1 1 1 1 2 2 5 1 1 1 1 4 1 1 2 2 2 7 5 2 1 1 2 1 2 1 4 1 1 3 1 1 1 4 1 3 2 7 2 2 1 1 3 1 4 2 2 2 4 6 3 1 2 3 1 1 1 6 1 3 2 2 1 1 1 2 1 2 5 1 4 1 1 1 7 4 2 4 2 2 1 3 2 1 1 1 1 1 2 1 1 2 4 7 1 5 2 4 2 4 1 1 2 4 3 1 1 1 1 2 1 4 2 1 2 2 1 1 1 1 1 5 1 4 1 3 3 6 1 3 4 4 1 1 1 2 2 5 1 2 2 3 3 1 2 8 1 1 1 6 1 4 5 2 1 1 1 1 1 1 2 3 3 4 1 1 8 1 1 1 1 1 1 2 2 3 3 3 1 2 2 3 2 2 1 1 1 5 1 1 1 1 1 2 1 2 1 4 2 1 1 3 3 2 1 1 2 3 2 2 1 2 1 1 1 1 1 5 1 1 5 2 4 4 3 7 2 8 2 1 2 1 1 3 1 1 1 1 3 1 1 1 1 2 3 5 3 2 1 3 1 1 1 9 1 3 1 2 1 1 1 5 1 2 1 1 2 1 1 4 2 4 1 2 1 1 1 1 2 1 1 1 2 1 2 2 2 4 1 8 3 2 2 2 1 2 1 1 1 1 2 2 1 2 1 12 1 3 2 2 1 2 1 1 1 4 1 1 1 1 1 1 1 2 1 5 2 3 1 3 2 1 1 2 1 1 1 1 1 1 3 3 4 2 1 2 1 4 1 2 1 5 5 2 1 1 1 4 2 4 1 2 1 3 3 1 5 1 1 3 2 4 2 4 5 3 1 2 2 3 3 1 1 1 1 1 3 4 1 4 1 4 1 2 1 3 1 2 1 3 2 3"/>
<path d="M0 3765.1h1000"/>
<path d="M0 3767.8h1000"/>
<path d="M0 3770.6h1000"/>
<path d="M0 3773.3h1000"/>
<path d="M0 3776.1h1000"/>
<path d="M0 3778.8h1000"/>
<path d="M0 3781.5h1000"/>
<path d="M0 3784.3h1000" stroke-dasharray="1 2 2 1 1 4 3 3 1 1 1 1 4 2 6 1 5 1 2 1 5 1 1 1 3 1 1 1 9 1 10 1 3 1 6 1 2 1 1 1 5 1 1 4 1 1 5 1 3 1 1 1 8 1 3 2 2 1 1 2 2 1 1 2 2 1 1 1 6 2 14 1 1 2 2 1 1 1 1 3 1 2 10 1 5 1 2 1 5 1 3 1 3 1 2 1 1 1 2 1 3 2 7 1 8 3 3 1 2 1 1 2 3 2 9 1 1 1 2 1 1 2 4 1 1 1 2 1 2 1 1 2 4 2 2 3 1 2 11 2 3 1 3 1 2 2 3 1 2 2 1 2 3 1 3 1 5 1 2 1 1 1 3 1 2 1 4 1 4 2 2 1 1 1 11 1 4 2 3 2 1 2 2 3 2 3 1 1 2 2 2 1 2 1 1 1 2 1 1 1 5 1 4 1 1 1 7 3 2 1 8 1 8 1 6 3 3 1 3 1 2 2 2 1 1 2 3 1 2 2 1 1 1 2 2 1 2 2 3 1 5 1 3 1 6 1 1 2 1 2 1 1 3 1 2 2 3 1 2 1 1 1 7 2 2 1 12 1 2 1 11 3 2 1 2 2 1 5 6 2 1 1 2 1 2 1 6 2 3 1 7 2 1 1 4 1 1 1 3 1 3 1 2 1 3 3 1 1 3 1 3 1 1 1 4 2 5 1 1 1 2 3 1 1 2 1 1 1 2 1 6 2 1 2 3 1 1 1 1 3 3 1 2 2 6 2 3 1 3 1 3 4 6 1 1 1 4 3 1 1 1 3 1 1 10 1 4 3 1 1 3 1 2 1 4 1 3 2 3 1 2 1 2 4 1 1 1 1 3 1 2 1 2 1 3 1 1 1 3 2 7 1 1 1 5 1 1 1 8 1 7 1 2 1 2 1 11 1 14 3 1 1 3 1 8 1 4 2 6 1 1 1 1 2"/>
<path d="M0 3830.9h1000" stroke-dasharray="2 7 3 53 1 62 1 11 1 7 1 18 1 2 1 3 1 45 1 20 1 2 1 11 1 22 1 16 1 9 1 1 1 34 1 25 1 16 1 2 1 96 1 19 1 38 1 13 1 18 2 2 1 27 1 3 1 6 1 4 1 9 1 29 1 24 1 29 1 28 1 21 1 25 2 12 2 56 1 8 1 13 1 70 1 20 1 1 1 12"/>
<path d="M0 3833.6h1000" stroke-dasharray="2 6 3 6 1 1 1 33 1 5 2 4 1 5 1 12 1 6 1 13 1 21 2 5 1 5 1 4 1 2 1 7 1 10 1 2 1 3 1 8 1 14 1 21 1 13 1 6 1 2 1 9 1 1 1 2 1 5 1 13 1 2 1 10 1 1 2 9 1 1 1 2 1 7 1 3 1 10 1 8 1 4 1 9 1 10 2 4 2 3 2 4 1 2 3 15 1 4 1 1 1 23 1 7 1 2 1 17 1 18 1 19 1 8 1 10 1 1 1 6 1 8 2 17 2 9 1 3 2 2 1 6 1 1 2 3 1 3 1 4 2 7 1 3 1 2 1 4 1 2 1 6 1 13 2 11 2 5 1 20 1 3 1 3 1 9 2 6 1 3 1 13 1 8 1 5 1 11 1 9 1 13 1 1 1 4 1 4 2 7 1 4 2 2 1 7 1 2 1 7 1 6 1 10 1 10 1 5 2 2 1 1 1 2 1 10 1 2 1 2 1 17 1 6 1 4 1 11 1 8 1 9 1 6 1 11 1 8 1 1 1 3 1 8"/>
<path d="M0 3836.4h1000" stroke-dasharray="2 1 1 2 1 1 3 2 1 3 1 1 1 4 1 1 1 10 1 2 1 7 2 3 1 5 2 4 2 4 1 5 2 2 1 1 2 4 1 1 1 9 1 3 1 10 1 1 1 1 1 3 1 1 3 5 1 1 2 1 1 5 1 2 1 2 1 1 1 1 2 1 1 3 1 4 1 1 4 1 1 8 1 1 1 1 1 3 1 2 1 1 1 1 1 2 1 5 3 1 1 3 1 1 1 2 1 5 1 7 2 5 1 2 2 3 4 1 1 1 1 2 1 1 1 1 1 1 1 4 1 6 1 1 1 2 1 7 1 2 1 1 4 1 2 2 5 2 1 4 1 1 7 4 1 1 1 2 1 5 1 1 2 4 2 2 1 3 3 3 1 1 1 4 8 3 2 2 3 2 3 2 3 2 1 1 1 5 1 1 1 2 1 1 1 23 1 3 2 2 1 1 3 4 1 7 1 2 2 3 2 4 2 1 1 1 1 2 3 1 1 4 1 8 1 2 1 5 1 2 1 1 1 1 1 6 3 3 1 2 2 5 1 1 2 1 1 5 1 1 1 7 2 1 1 5 1 1 1 3 2 2 1 6 4 3 1 3 1 1 1 2 3 10 1 2 1 4 2 1 2 4 2 13 2 11 2 4 3 6 1 4 1 3 1 3 1 1 1 1 2 2 3 3 1 2 3 1 2 2 2 1 1 1 1 1 1 1 1 1 1 7 1 1 1 6 1 5 1 5 2 4 1 3 2 4 2 7 1 3 2 1 1 4 1 4 2 2 1 4 1 1 1 2 3 1 1 4 4 2 3 1 1 3 1 2 1 3 1 2 1 7 1 2 2 1 1 4 1 2 2 1 3 1 6 4 1 3 1 1 1 2 1 2 1 9 1 1 3 2 2 4 3 4 2 6 1 3 1 6 1 1 1 1 1 3 1 3 1 1 1 1 1 2 1 3 1 1 1 5 1 1 1 6 1 1 1 3 3 2 1 3"/>
<path d="M0 3839.1h1000" stroke-dasharray="2 1 1 1 2 1 3 2 1 2 4 4 1 1 1 5 1 4 1 1 2 6 4 2 1 4 4 2 4 1 5 3 2 4 1 2 2 1 1 2 2 4 1 2 1 2 2 3 1 2 1 1 1 1 1 1 4 2 1 1 3 5 6 1 1 1 1 1 2 1 1 2 1 1 1 1 4 2 3 3 1 1 4 1 2 2 1 3 2 1 1 1 1 3 1 2 3 1 1 2 1 1 1 2 6 1 1 1 1 1 1 2 3 2 2 2 3 2 3 4 1 1 4 2 4 1 1 1 4 1 1 1 1 1 1 4 1 1 1 1 1 2 3 2 1 2 1 1 1 1 2 2 1 1 7 1 7 1 2 3 1 1 8 1 1 1 1 1 1 2 1 2 4 1 2 4 2 2 1 2 4 1 1 1 1 1 1 2 1 1 8 3 3 1 3 2 8 2 3 3 1 1 3 2 1 1 2 4 5 1 1 6 1 2 4 2 2 2 1 1 3 2 1 1 1 7 6 1 1 1 1 4 2 1 1 1 1 2 5 4 1 1 1 4 4 1 1 3 1 1 4 1 3 3 2 1 3 3 5 5 7 4 3 7 4 4 2 1 2 2 2 2 1 1 1 4 1 1 2 2 3 2 1 1 2 1 3 8 1 1 1 2 1 2 7 3 4 9 2 1 2 8 1 1 4 2 5 2 2 1 1 4 1 1 1 1 1 3 1 1 1 1 3 1 3 1 4 1 3 1 2 1 5 1 1 1 1 1 1 1 2 6 1 1 3 2 1 1 1 2 4 5 3 3 1 3 2 4 3 6 1 1 4 1 1 4 1 1 5 2 1 1 1 2 1 1 1 2 3 1 1 1 1 1 5 2 3 1 1 3 4 1 4 1 1 7 2 1 4 1 1 2 1 2 2 1 3 1 6 1 1 1 2 3 4 1 1 1 2 7 3 1 3 2 2 1 1 1 4 1 5 1 1 4 1 3 2 2 1 1 2 1 3 3 3 1 1 1 1 1 1 2 1 3 3 1 1 3 4 3 1 1 1 1 1 2 4 2 2 1 1"/>
<path d="M0 3841.9h1000" stroke-dasharray="0 3 1 1 2 2 2 5 4 4 3 3 1 1 1 4 2 1 2 5 4 2 1 4 4 2 4 3 3 4 1 4 1 2 2 2 1 1 1 8 1 3 1 10 1 2 2 3 1 1 3 2 1 2 6 1 1 1 1 1 2 1 1 2 1 1 1 1 1 1 2 2 3 3 1 1 4 1 2 2 1 4 1 1 1 1 1 6 3 4 1 1 1 2 6 3 1 4 4 1 2 2 3 9 1 1 1 1 2 2 4 1 1 2 3 3 1 1 2 3 1 1 1 1 1 2 2 3 1 2 1 1 4 2 1 1 15 1 3 2 1 1 2 1 5 1 3 1 1 5 4 1 2 4 2 2 1 2 1 1 2 1 1 1 1 1 1 2 1 1 1 1 2 2 2 3 1 1 1 1 1 1 1 2 7 3 3 5 3 2 1 1 1 5 3 1 1 1 1 6 1 2 4 2 2 2 1 1 3 4 1 3 1 3 2 1 2 2 1 1 1 3 3 1 1 1 1 2 3 1 1 4 1 1 1 4 4 1 1 5 4 1 3 1 1 1 2 1 2 4 1 1 4 4 7 4 1 1 1 8 2 5 2 1 2 2 2 4 1 4 1 1 2 3 2 2 1 2 1 1 3 7 2 7 7 3 4 1 2 6 2 1 3 7 3 1 2 2 5 3 1 1 1 4 1 3 1 1 1 1 1 2 4 1 3 1 8 2 1 1 5 3 1 1 1 1 2 1 1 4 1 1 3 2 1 1 2 2 1 1 1 5 3 3 1 2 3 4 3 6 1 1 4 1 2 3 1 2 4 2 1 3 2 1 1 2 3 1 3 2 4 2 3 1 1 4 3 1 4 1 1 2 1 3 3 1 2 1 3 5 2 1 2 2 4 1 1 1 2 1 1 3 4 4 1 7 3 1 3 2 1 2 1 1 4 1 5 6 1 3 2 2 1 2 1 1 3 3 3 1 1 1 1 1 2 1 3 1 3 1 1 3 5 2 1 1 1 1 1 2 4 3 1 1 1"/>
<path d="M0 3844.6h1000" stroke-dasharray="0 3 1 1 2 3 1 5 3 5 1 1 1 5 1 5 1 2 1 2 2 3 2 2 1 4 2 1 1 2 3 4 1 1 1 4 1 8 1 2 1 10 1 2 2 10 1 2 1 4 1 3 1 2 2 1 3 1 2 1 1 5 2 1 2 3 1 1 2 2 3 5 4 1 2 2 1 4 1 1 1 1 1 6 2 1 1 8 2 1 3 3 1 4 2 1 1 1 2 3 2 9 1 1 1 2 1 2 6 3 2 3 1 2 1 3 3 4 1 4 1 2 1 1 3 3 1 3 7 1 2 1 2 1 3 2 1 2 1 1 4 2 3 7 4 2 1 2 1 1 2 3 1 4 1 1 1 1 1 4 1 1 1 1 2 2 1 4 1 1 1 3 1 2 2 1 4 4 2 5 3 2 1 1 1 7 1 1 3 6 1 2 4 3 1 4 2 4 1 3 2 3 2 1 1 5 2 2 3 1 1 4 3 1 1 6 2 4 1 1 1 1 1 6 3 3 1 1 1 1 1 3 1 4 1 1 2 3 1 2 4 2 1 6 1 8 2 3 1 1 3 1 1 2 2 4 1 4 1 1 2 3 2 2 1 2 1 1 2 8 2 7 3 2 2 3 2 1 1 1 2 6 1 2 2 8 3 1 2 2 2 2 1 3 3 4 1 3 3 1 1 2 4 1 1 1 1 1 5 1 1 3 1 1 3 1 1 3 1 3 1 9 3 2 1 1 2 2 1 1 1 5 3 3 1 2 3 4 3 6 1 1 4 1 2 2 2 2 3 3 1 3 1 5 1 1 3 1 1 3 3 4 1 1 1 5 1 2 1 2 1 1 1 2 1 3 3 1 4 1 2 4 1 6 1 1 2 1 1 2 1 1 1 3 1 1 2 5 1 6 3 1 3 2 1 2 1 1 1 1 1 2 3 8 1 3 2 2 1 4 3 3 3 1 1 3 2 2 1 3 2 1 1 4 4 2 1 1 1 1 1 2 2 1 1 3 1 1 1"/>
<path d="M0 3847.3h1000" stroke-dasharray="0 3 1 1 1 4 1 6 2 7 1 11 1 5 1 4 1 3 1 4 2 1 1 2 3 6 1 4 1 11 1 13 1 10 1 3 1 4 1 6 1 2 1 1 1 2 1 1 1 5 1 2 2 10 1 7 3 2 1 2 1 8 1 6 2 1 1 9 1 1 3 3 1 7 1 1 1 4 2 9 1 1 1 2 1 2 1 2 3 3 2 3 1 2 1 4 1 5 1 10 1 4 1 3 1 1 5 2 1 2 1 1 1 4 1 2 1 1 1 1 2 2 2 8 4 2 1 2 1 1 1 2 1 1 1 6 1 1 1 4 1 1 1 1 2 7 1 1 1 3 1 3 1 1 2 1 1 5 1 5 2 5 1 4 1 5 2 6 1 3 1 1 1 9 1 4 1 3 1 4 2 7 2 3 2 1 1 4 3 1 1 6 2 4 1 3 1 6 1 1 1 5 1 1 1 3 1 4 1 2 1 3 1 2 1 1 1 10 1 17 1 4 1 5 1 11 1 6 1 1 2 9 1 9 1 7 1 2 1 1 1 7 1 2 2 8 1 1 1 1 2 6 1 15 2 4 3 4 1 1 5 4 1 6 1 7 1 10 2 2 1 5 1 1 1 7 1 6 1 1 2 4 2 8 2 4 1 2 2 2 2 4 1 3 1 5 1 1 2 8 1 4 1 13 1 4 1 3 1 4 1 1 1 2 1 4 1 14 1 1 1 2 2 1 1 6 1 7 2 6 1 2 1 3 1 2 2 22 2 4 1 1 1 1 1 4 1 2 1 3 1 2 1 4 1 1 2 2 1 1 1 1 1 2 2 8"/>
<path d="M0 3850.1h1000" stroke-dasharray="0 2 1 14 1 20 1 5 1 4 1 8 2 4 3 11 1 11 1 6 1 5 2 10 1 3 1 21 1 5 1 2 2 18 2 3 1 2 1 8 1 6 1 2 1 12 1 4 1 9 1 5 1 9 1 4 1 2 1 3 1 10 1 1 1 4 1 21 1 7 3 7 1 4 1 7 1 2 1 9 4 2 1 2 1 4 1 8 1 6 1 1 1 1 2 7 1 1 1 3 1 6 1 1 1 12 1 5 1 11 1 12 1 9 1 4 1 1 1 6 1 9 1 4 1 1 1 5 1 2 1 6 1 24 1 1 1 1 1 1 1 7 1 3 1 2 1 35 1 24 1 1 1 20 1 7 1 4 1 10 2 8 1 3 2 22 1 14 1 1 3 4 1 6 1 1 1 20 1 3 1 11 1 6 1 1 1 5 2 9 1 4 1 2 2 8 1 3 1 5 1 11 1 18 1 15 1 7 1 14 1 1 1 2 1 2 1 6 1 8 1 6 1 6 1 2 2 16 1 5 1 10 1 3 1 9 1 4 1 7 1 1 1 12"/>
<path d="M0 3852.8h1000" stroke-dasharray="0 2 1 10 1 20 1 3 2 4 1 1 1 2 1 8 2 4 3 9 1 1 1 11 2 5 1 5 2 10 1 3 1 21 1 5 1 3 1 11 1 6 2 11 1 3 1 9 1 12 1 6 1 13 1 3 2 4 2 3 1 17 1 6 1 7 1 1 1 11 1 7 2 8 1 4 1 7 2 11 3 3 1 2 1 4 1 3 1 3 2 6 1 1 1 1 1 5 1 2 1 5 1 1 1 2 1 3 1 6 1 3 1 7 1 2 1 3 1 17 1 9 1 4 1 1 1 6 1 8 2 4 1 1 2 4 1 2 1 23 1 9 1 1 1 4 1 4 1 3 1 2 1 15 1 44 1 1 1 8 1 13 1 5 1 4 1 11 1 8 1 3 2 4 1 17 1 16 1 6 1 6 1 1 1 21 1 2 1 9 1 1 1 6 1 1 1 5 2 9 1 4 1 2 1 13 1 5 1 11 1 18 1 3 1 11 1 5 1 1 1 4 1 9 1 1 1 2 1 18 1 6 1 9 1 3 1 13 1 5 1 10 1 5 1 7 1 4 1 7 1 1 1 8 1 3"/>
<path d="M0 3855.6h1000" stroke-dasharray="1 1 1 5 1 4 1 13 1 3 1 2 1 3 2 4 1 1 1 6 1 1 1 2 2 1 1 2 3 5 1 3 3 6 1 5 1 5 1 5 2 2 1 7 1 3 1 15 1 5 1 5 1 3 2 10 1 6 3 8 1 1 1 3 1 9 3 8 1 4 1 3 1 3 2 4 1 3 2 1 3 4 2 2 2 8 1 3 1 1 1 2 1 6 1 5 1 1 1 1 1 1 1 1 1 2 1 1 1 2 1 7 2 8 1 4 1 7 2 9 1 1 3 3 1 2 1 3 2 3 2 2 2 3 1 1 2 1 1 1 1 3 3 2 1 5 1 1 1 2 1 2 2 1 2 1 1 1 1 3 1 1 2 4 1 2 1 3 1 4 1 7 2 3 3 7 2 3 1 1 1 6 2 7 2 4 1 1 2 3 2 2 1 12 1 10 1 3 2 4 1 1 1 2 1 1 1 4 2 2 1 14 2 2 1 1 1 13 1 4 1 23 1 1 1 8 1 13 1 3 3 4 1 1 1 9 2 3 1 3 1 3 2 4 1 2 1 7 1 4 1 1 1 13 1 2 2 5 1 6 1 1 2 3 1 4 1 8 1 1 2 1 2 1 1 2 1 4 1 1 1 6 1 1 2 2 1 1 2 9 1 4 1 2 1 3 1 3 1 3 1 1 1 5 1 11 1 4 1 5 2 1 1 3 2 3 2 10 1 5 1 1 1 1 1 1 1 5 1 4 1 1 1 1 2 12 3 3 1 5 4 3 1 2 2 3 1 11 1 1 1 2 1 2 1 10 1 2 1 2 1 7 1 4 1 9 1 8 1 3"/>
<path d="M0 3858.3h1000" stroke-dasharray="1 1 2 1 7 1 2 1 1 3 1 2 2 1 2 3 16 2 7 1 5 1 6 1 10 2 1 1 2 1 7 3 3 1 7 3 2 1 8 1 5 2 3 2 1 2 1 2 4 2 1 1 1 1 2 1 8 1 4 1 9 1 2 1 7 2 10 1 5 1 3 1 5 1 7 1 5 1 6 1 1 1 7 2 3 1 4 1 2 1 1 1 2 1 4 1 4 1 4 1 8 1 4 2 1 1 6 4 4 1 4 1 10 1 1 1 1 1 11 1 7 1 1 1 6 2 2 1 7 1 7 1 3 1 1 1 1 1 6 1 6 3 5 3 4 2 2 1 4 5 10 2 1 3 4 1 4 1 2 1 5 1 9 1 2 1 2 1 1 1 2 1 9 1 3 1 1 2 5 2 7 1 1 2 4 1 3 1 15 3 1 1 4 1 4 3 2 1 10 1 2 2 6 1 2 1 6 1 1 1 1 1 4 1 2 1 5 1 2 1 1 2 8 1 3 1 1 2 5 2 4 1 3 1 3 2 2 1 3 1 1 1 2 1 3 1 6 1 1 1 11 1 1 1 1 1 2 1 13 2 1 1 2 2 7 1 2 1 3 1 13 1 1 1 1 1 4 3 12 2 3 1 5 1 2 1 5 1 3 1 5 1 5 1 7 2 9 1 8 1 2 2 3 1 2 2 1 1 4 2 4 1 1 1 1 1 2 1 2 1 3 2 6 3 2 1 5 1 3 1 14 1 7 1 4 1 8 1 1 1 3 1 4 2 2 1 10 1 2 3 1 1 2 1 3 1 2 1 5 2 1 1 6 1"/>
<path d="M0 3861.1h1000"/>
<path d="M0 3863.8h1000"/>
<path d="M0 3866.5h1000"/>
<path d="M0 3869.3h1000" stroke-dasharray="1 1 4 1 12 1 8 2 26 1 4 3 17 1 4 1 9 1 25 1 10 1 1 2 68 2 24 1 35 1 19 1 9 1 6 1 20 1 1 1 1 1 35 1 4 1 2 1 19 1 2 1 30 1 3 1 10 1 3 2 1 1 51 1 9 1 7 1 20 1 12 2 25 1 12 1 4 1 10 2 11 1 22 1 5 1 3 1 1 1 5 1 24 1 18 1 15 2 7 1 3 1 26 1 40 1 2 1 13 3 18 1 26 1 2 1 7 1 30 1 7 1 6 1 15 1 3 1 6 1 22 2 11 2 3 1 5"/>
<path d="M0 3872.0h1000" stroke-dasharray="1 4 1 2 1 4 3 1 1 2 2 2 4 3 1 1 2 5 1 4 1 1 1 5 1 3 1 2 1 5 1 1 2 2 2 4 2 2 1 1 2 1 1 1 3 2 1 2 2 1 1 4 1 3 4 4 1 5 2 2 1 3 2 8 1 7 4 1 3 2 1 1 1 3 1 3 3 1 1 1 1 3 7 1 6 2 3 3 1 2 1 3 9 1 3 1 2 2 1 1 2 2 2 3 1 2 1 1 2 1 1 3 3 3 1 2 1 4 2 3 2 3 5 1 1 1 1 2 3 1 3 12 1 4 1 3 2 3 2 1 3 1 1 1 1 1 1 5 1 1 1 1 1 4 1 4 4 3 2 1 4 1 1 3 3 6 1 3 3 4 6 7 2 3 2 1 1 1 1 1 4 3 1 1 1 1 2 1 1 1 2 4 2 1 1 2 1 3 2 2 1 2 1 1 1 1 1 1 1 2 3 1 4 4 2 2 4 3 1 4 1 4 1 2 1 2 2 1 1 2 3 1 1 2 3 11 3 8 1 1 1 1 1 2 2 2 1 6 2 2 4 2 2 4 1 1 1 1 1 1 1 1 1 1 4 1 1 2 2 1 1 1 4 8 3 4 2 2 3 1 1 2 1 3 1 5 1 4 1 3 1 3 4 1 3 4 1 11 2 1 1 4 1 3 3 1 1 1 2 4 5 3 3 3 4 13 3 1 1 2 2 2 2 1 2 7 3 1 3 2 3 1 1 4 1 2 2 1 1 7 1 1 1 2 2 3 1 2 1 1 1 2 4 2 2 1 1 1 3 1 3 1 2 4 2 5 2 2 4 9 1 1 2 2 2 1 4 2 1 1 3 3 1 2 1 1 1 1 1 7 1 1 1 1 1 11 2 1 1 6 1 3 1 1 1 2 2 2 1 2 1 1 1 2 4 2 3 2 2 1 5 2 1 7 2 1 1 3 1 8 2 1 1 1 4 9 1 1 2"/>
<path d="M0 3874.8h1000" stroke-dasharray="0 68 1 42 1 42 1 32 1 21 1 380 1 136 1 97 1 92 1 81"/>
<path d="M0 3907.7h1000" stroke-dasharray="0 1 1 6 2 44 1 35 1 50 1 41 1 2 1 154 1 14 1 70 2 105 1 43 1 63 1 46 1 24 1 20 1 3 1 14 1 12 1 16 1 82 1 39 1 4 1 73 1 13"/>
<path d="M0 3910.4h1000" stroke-dasharray="0 1 1 3 2 1 2 2 1 6 1 2 1 4 1 3 1 14 1 7 1 4 1 23 1 6 1 2 1 10 1 5 1 30 1 2 2 1 1 35 1 2 1 10 1 8 1 9 1 13 1 10 1 3 1 1 1 3 1 8 1 12 1 22 1 6 2 18 1 12 1 2 1 1 1 6 1 2 2 3 1 13 1 6 1 18 1 3 1 14 1 9 1 1 2 3 1 19 1 21 1 11 1 27 1 5 1 13 1 3 1 33 1 5 1 1 1 15 2 1 1 8 1 10 1 10 1 3 2 6 1 1 1 2 1 19 1 18 1 2 1 2 1 14 1 6 1 2 1 7 1 4 1 4 3 1 1 14 1 5 1 6 1 14 1 1 1 5 1 1 1 3 1 3 1 15 1 17 1 13 1 18 2 10 1 6 1 4 1 11 1 1 1 1 1 4 1 5 1 5 2 6 1 10 1 13 1 8 1 19 1 13"/>
<path d="M0 3913.2h1000" stroke-dasharray="2 1 1 1 2 2 1 2 1 6 2 1 1 3 3 2 1 14 2 1 1 1 1 1 1 4 4 18 1 2 1 3 1 1 2 2 2 9 1 3 1 1 1 8 1 1 2 1 1 11 1 4 1 2 2 1 1 10 1 11 3 10 1 2 1 19 1 3 1 5 1 8 1 3 2 1 1 8 1 3 1 1 1 2 2 4 1 3 1 2 1 6 1 2 1 10 1 4 1 5 2 2 1 3 2 2 1 9 1 5 1 5 1 4 1 1 4 1 1 3 1 2 1 2 2 3 1 4 1 2 1 5 1 3 1 2 1 1 1 14 1 1 3 1 1 3 1 1 1 8 1 2 1 5 2 1 2 2 2 8 1 3 2 12 1 14 1 3 1 7 1 4 1 2 1 8 2 8 2 5 1 9 1 1 1 1 1 3 1 7 1 1 1 10 1 3 1 5 1 1 2 5 1 1 1 3 1 9 4 1 1 5 1 2 1 1 1 4 1 1 3 6 1 1 1 1 1 3 3 5 1 1 1 4 1 3 2 1 2 8 2 1 1 2 1 2 2 1 1 7 1 2 1 1 2 11 2 1 1 1 1 2 1 1 2 1 1 2 1 4 1 4 1 4 3 1 1 7 1 6 1 5 3 2 3 6 1 5 1 1 1 1 1 5 1 1 1 1 1 1 1 3 1 6 1 5 1 2 1 3 1 9 1 3 2 3 1 1 1 6 1 1 1 4 1 10 3 6 2 1 3 5 1 2 1 1 1 3 1 5 1 1 1 1 1 1 2 3 1 3 1 1 1 5 2 5 2 1 1 6 1 1 1 6 2 3 1 1 1 5 1 6 1 3 1 7 2 2 1 9 1 1 1 1"/>
<path d="M0 3915.9h1000" stroke-dasharray="2 1 4 1 2 1 2 2 1 3 4 2 4 1 5 2 1 2 1 5 2 1 1 1 1 1 1 4 4 3 2 1 1 1 1 7 1 1 5 1 5 2 3 2 2 1 1 2 3 1 1 1 2 5 1 1 1 1 2 1 1 1 1 1 1 5 1 1 1 2 4 1 2 1 1 6 2 2 1 4 1 1 2 3 5 1 3 4 1 2 1 2 2 6 1 7 2 3 1 2 2 1 1 1 5 2 2 2 2 1 2 1 2 2 3 3 1 1 1 2 5 1 1 3 4 6 1 2 2 3 1 5 2 3 1 2 1 1 3 2 2 1 3 2 2 1 1 3 2 1 1 1 5 2 2 1 2 2 7 1 1 1 1 1 1 2 1 1 4 2 1 4 1 2 1 4 3 2 1 1 4 1 1 12 5 1 1 3 1 1 1 3 1 3 2 2 1 3 4 1 2 2 3 1 3 3 1 3 2 6 1 1 1 1 3 2 1 4 1 1 1 2 1 1 1 3 1 3 1 3 3 2 1 1 3 4 1 2 2 3 1 1 1 2 2 2 1 2 1 2 1 2 2 2 7 1 1 1 1 5 3 3 3 2 1 1 1 1 3 5 4 4 5 2 1 2 3 2 1 1 4 1 1 1 1 2 3 1 1 1 2 3 5 3 1 2 3 1 1 2 4 1 1 3 4 1 1 1 1 1 1 1 2 1 3 2 4 1 4 1 2 2 5 2 1 2 8 1 1 2 1 2 1 1 1 1 2 1 1 1 1 1 2 1 5 1 1 1 1 2 2 1 1 1 2 3 6 2 6 4 3 1 6 1 4 2 1 2 2 5 1 1 1 1 1 2 1 1 2 1 1 1 4 2 2 5 1 3 1 1 1 2 1 2 2 1 1 1 1 1 1 3 1 3 6 1 1 2 1 3 3 4 1 7 1 2 3 4 1 1 8 3 1 2 3 3 2 1 2 1 8 1 1 1 2 2 1 1 1 2 1 2 4 1 1 1 5 1 2 2 1 1 2 1 1 1 1 1 3 2 1 1 2 1 1 2 8 3 1 3 2 2 3 1 1 2 1 1 1 3 2 1 2"/>
</g>
<rect x="279" y="2705" width="1973.5" height="1229" fill="none" stroke="#1a1a1a" stroke-width="4"/>
<line x1="262" y1="2705.3" x2="279" y2="2705.3" stroke="#1a1a1a" stroke-width="3.5"/>
<text x="241" y="2725.3" text-anchor="end" font-family="'DejaVu Sans', 'Liberation Sans', sans-serif" font-size="55" fill="#111">0</text>
<line x1="262" y1="2842.4" x2="279" y2="2842.4" stroke="#1a1a1a" stroke-width="3.5"/>
<text x="241" y="2862.4" text-anchor="end" font-family="'DejaVu Sans', 'Liberation Sans', sans-serif" font-size="55" fill="#111">50</text>
<line x1="262" y1="2979.5" x2="279" y2="2979.5" stroke="#1a1a1a" stroke-width="3.5"/>
<text x="241" y="2999.5" text-anchor="end" font-family="'DejaVu Sans', 'Liberation Sans', sans-serif" font-size="55" fill="#111">100</text>
<line x1="262" y1="3116.6" x2="279" y2="3116.6" stroke="#1a1a1a" stroke-width="3.5"/>
<text x="241" y="3136.6" text-anchor="end" font-family="'DejaVu Sans', 'Liberation Sans', sans-serif" font-size="55" fill="#111">150</text>
<line x1="262" y1="3253.7" x2="279" y2="3253.7" stroke="#1a1a1a" stroke-width="3.5"/>
<text x="241" y="3273.7" text-anchor="end" font-family="'DejaVu Sans', 'Liberation Sans', sans-serif" font-size="55" fill="#111">200</text>
<line x1="262" y1="3390.8" x2="279" y2="3390.8" stroke="#1a1a1a" stroke-width="3.5"/>
<text x="241" y="3410.8" text-anchor="end" font-family="'DejaVu Sans', 'Liberation Sans', sans-serif" font-size="55" fill="#111">250</text>
<line x1="262" y1="3527.9" x2="279" y2="3527.9" stroke="#1a1a1a" stroke-width="3.5"/>
<text x="241" y="3547.9" text-anchor="end" font-family="'DejaVu Sans', 'Liberation Sans', sans-serif" font-size="55" fill="#111">300</text>
<line x1="262" y1="3665.0" x2="279" y2="3665.0" stroke="#1a1a1a" stroke-width="3.5"/>
<text x="241" y="3685.0" text-anchor="end" font-family="'DejaVu Sans', 'Liberation Sans', sans-serif" font-size="55" fill="#111">350</text>
<line x1="262" y1="3802.1" x2="279" y2="3802.1" stroke="#1a1a1a" stroke-width="3.5"/>
<text x="241" y="3822.1" text-anchor="end" font-family="'DejaVu Sans', 'Liberation Sans', sans-serif" font-size="55" fill="#111">400</text>
<line x1="279.0" y1="3934" x2="279.0" y2="3952" stroke="#1a1a1a" stroke-width="3.5"/>
<text x="279.0" y="4013" text-anchor="middle" font-family="'DejaVu Sans', 'Liberation Sans', sans-serif" font-size="55" fill="#111">0</text>
<line x1="673.7" y1="3934" x2="673.7" y2="3952" stroke="#1a1a1a" stroke-width="3.5"/>
<text x="673.7" y="4013" text-anchor="middle" font-family="'DejaVu Sans', 'Liberation Sans', sans-serif" font-size="55" fill="#111">20</text>
<line x1="1068.4" y1="3934" x2="1068.4" y2="3952" stroke="#1a1a1a" stroke-width="3.5"/>
<text x="1068.4" y="4013" text-anchor="middle" font-family="'DejaVu Sans', 'Liberation Sans', sans-serif" font-size="55" fill="#111">40</text>
<line x1="1463.1" y1="3934" x2="1463.1" y2="3952" stroke="#1a1a1a" stroke-width="3.5"/>
<text x="1463.1" y="4013" text-anchor="middle" font-family="'DejaVu Sans', 'Liberation Sans', sans-serif" font-size="55" fill="#111">60</text>
<line x1="1857.8" y1="3934" x2="1857.8" y2="3952" stroke="#1a1a1a" stroke-width="3.5"/>
<text x="1857.8" y="4013" text-anchor="middle" font-family="'DejaVu Sans', 'Liberation Sans', sans-serif" font-size="55" fill="#111">80</text>
<line x1="2252.5" y1="3934" x2="2252.5" y2="3952" stroke="#1a1a1a" stroke-width="3.5"/>
<text x="2252.5" y="4013" text-anchor="middle" font-family="'DejaVu Sans', 'Liberation Sans', sans-serif" font-size="55" fill="#111">100</text>
<text transform="translate(99,3552) rotate(-90)" font-family="'DejaVu Sans', 'Liberation Sans', sans-serif" font-size="66" fill="#111" textLength="465" lengthAdjust="spacingAndGlyphs">Residue Index</text>
<text x="1070" y="4098" font-family="'DejaVu Sans', 'Liberation Sans', sans-serif" font-size="66" fill="#111" textLength="388" lengthAdjust="spacingAndGlyphs">Time (nsec)</text>
</svg></body></html>
